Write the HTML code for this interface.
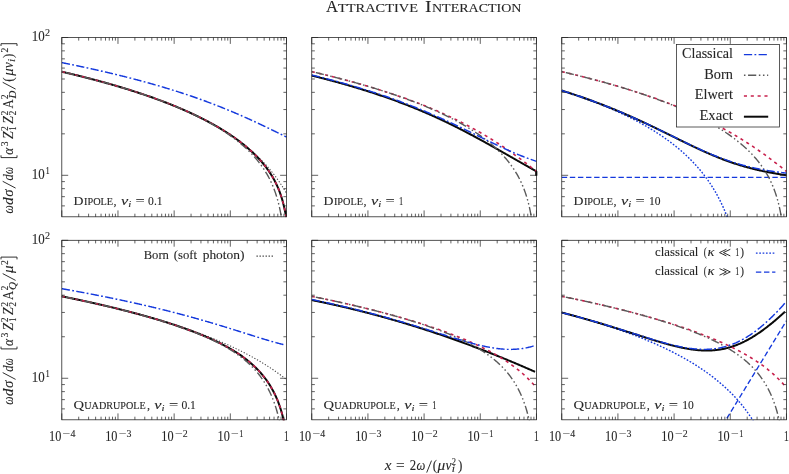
<!DOCTYPE html>
<html><head><meta charset="utf-8"><title>Attractive Interaction</title>
<style>html,body{margin:0;padding:0;background:#fff;}body{width:789px;height:474px;position:relative;overflow:hidden;font-family:"Liberation Serif",serif;}</style></head>
<body>
<svg width="789" height="474" viewBox="0 0 789 474" style="position:absolute;left:0;top:0;will-change:transform">
<defs>
<clipPath id="c00"><rect x="61.30" y="37.50" width="225.70" height="179.70"/></clipPath>
<clipPath id="c01"><rect x="311.25" y="37.50" width="225.70" height="179.70"/></clipPath>
<clipPath id="c02"><rect x="561.25" y="37.50" width="225.70" height="179.70"/></clipPath>
<clipPath id="c10"><rect x="61.30" y="240.30" width="225.70" height="179.90"/></clipPath>
<clipPath id="c11"><rect x="311.25" y="240.30" width="225.70" height="179.90"/></clipPath>
<clipPath id="c12"><rect x="561.25" y="240.30" width="225.70" height="179.90"/></clipPath>
</defs>
<g clip-path="url(#c00)">
<path d="M61.80 71.65 L62.50 71.82 L63.20 71.98 L63.91 72.14 L64.61 72.31 L65.31 72.47 L66.01 72.64 L66.72 72.80 L67.42 72.97 L68.12 73.14 L68.82 73.30 L69.52 73.47 L70.23 73.64 L70.93 73.81 L71.63 73.98 L72.33 74.14 L73.04 74.31 L73.74 74.48 L74.44 74.66 L75.14 74.83 L75.84 75.00 L76.55 75.17 L77.25 75.34 L77.95 75.52 L78.65 75.69 L79.35 75.86 L80.06 76.04 L80.76 76.21 L81.46 76.39 L82.16 76.57 L82.87 76.74 L83.57 76.92 L84.27 77.10 L84.97 77.28 L85.67 77.45 L86.38 77.63 L87.08 77.81 L87.78 77.99 L88.48 78.18 L89.19 78.36 L89.89 78.54 L90.59 78.72 L91.29 78.90 L91.99 79.09 L92.70 79.27 L93.40 79.46 L94.10 79.64 L94.80 79.83 L95.50 80.02 L96.21 80.20 L96.91 80.39 L97.61 80.58 L98.31 80.77 L99.02 80.96 L99.72 81.15 L100.42 81.34 L101.12 81.53 L101.82 81.72 L102.53 81.92 L103.23 82.11 L103.93 82.30 L104.63 82.50 L105.34 82.69 L106.04 82.89 L106.74 83.08 L107.44 83.28 L108.14 83.48 L108.85 83.68 L109.55 83.88 L110.25 84.08 L110.95 84.28 L111.66 84.48 L112.36 84.68 L113.06 84.88 L113.76 85.09 L114.46 85.29 L115.17 85.49 L115.87 85.70 L116.57 85.90 L117.27 86.11 L117.97 86.32 L118.68 86.53 L119.38 86.74 L120.08 86.94 L120.78 87.16 L121.49 87.37 L122.19 87.58 L122.89 87.79 L123.59 88.00 L124.29 88.22 L125.00 88.43 L125.70 88.65 L126.40 88.86 L127.10 89.08 L127.81 89.30 L128.51 89.52 L129.21 89.74 L129.91 89.96 L130.61 90.18 L131.32 90.40 L132.02 90.62 L132.72 90.85 L133.42 91.07 L134.13 91.30 L134.83 91.52 L135.53 91.75 L136.23 91.98 L136.93 92.21 L137.64 92.44 L138.34 92.67 L139.04 92.90 L139.74 93.13 L140.44 93.36 L141.15 93.60 L141.85 93.83 L142.55 94.07 L143.25 94.31 L143.96 94.54 L144.66 94.78 L145.36 95.02 L146.06 95.26 L146.76 95.50 L147.47 95.75 L148.17 95.99 L148.87 96.24 L149.57 96.48 L150.28 96.73 L150.98 96.98 L151.68 97.22 L152.38 97.47 L153.08 97.72 L153.79 97.98 L154.49 98.23 L155.19 98.48 L155.89 98.74 L156.60 98.99 L157.30 99.25 L158.00 99.51 L158.70 99.77 L159.40 100.03 L160.11 100.29 L160.81 100.55 L161.51 100.82 L162.21 101.08 L162.91 101.35 L163.62 101.62 L164.32 101.89 L165.02 102.16 L165.72 102.43 L166.43 102.70 L167.13 102.97 L167.83 103.25 L168.53 103.53 L169.23 103.80 L169.94 104.08 L170.64 104.36 L171.34 104.64 L172.04 104.93 L172.75 105.21 L173.45 105.50 L174.15 105.78 L174.85 106.07 L175.55 106.36 L176.26 106.65 L176.96 106.94 L177.66 107.24 L178.36 107.53 L179.07 107.83 L179.77 108.13 L180.47 108.43 L181.17 108.73 L181.87 109.03 L182.58 109.34 L183.28 109.64 L183.98 109.95 L184.68 110.26 L185.38 110.57 L186.09 110.88 L186.79 111.20 L187.49 111.51 L188.19 111.83 L188.90 112.15 L189.60 112.47 L190.30 112.79 L191.00 113.11 L191.70 113.44 L192.41 113.77 L193.11 114.10 L193.81 114.43 L194.51 114.76 L195.22 115.10 L195.92 115.43 L196.62 115.77 L197.32 116.11 L198.02 116.46 L198.73 116.80 L199.43 117.15 L200.13 117.50 L200.83 117.85 L201.54 118.20 L202.24 118.55 L202.94 118.91 L203.64 119.27 L204.34 119.63 L205.05 119.99 L205.75 120.36 L206.45 120.73 L207.15 121.10 L207.86 121.47 L208.56 121.85 L209.26 122.22 L209.96 122.60 L210.66 122.98 L211.37 123.37 L212.07 123.76 L212.77 124.15 L213.47 124.54 L214.17 124.93 L214.88 125.33 L215.58 125.73 L216.28 126.13 L216.98 126.54 L217.69 126.95 L218.39 127.36 L219.09 127.77 L219.79 128.19 L220.49 128.61 L221.20 129.03 L221.90 129.45 L222.60 129.88 L223.30 130.31 L224.01 130.75 L224.71 131.19 L225.41 131.63 L226.11 132.07 L226.81 132.52 L227.52 132.97 L228.22 133.43 L228.92 133.88 L229.62 134.35 L230.32 134.81 L231.03 135.28 L231.73 135.75 L232.43 136.23 L233.13 136.71 L233.84 137.19 L234.54 137.68 L235.24 138.17 L235.94 138.67 L236.64 139.17 L237.35 139.67 L238.05 140.18 L238.75 140.70 L239.45 141.21 L240.16 141.73 L240.86 142.26 L241.56 142.79 L242.26 143.33 L242.96 143.87 L243.67 144.42 L244.37 144.97 L245.07 145.52 L245.77 146.08 L246.48 146.65 L247.18 147.22 L247.88 147.80 L248.58 148.38 L249.28 148.97 L249.99 149.56 L250.69 150.17 L251.39 150.77 L252.09 151.38 L252.80 152.00 L253.50 152.63 L254.20 153.26 L254.90 153.90 L255.60 154.55 L256.31 155.20 L257.01 155.86 L257.71 156.53 L258.41 157.20 L259.11 157.89 L259.82 158.58 L260.52 159.27 L261.22 159.98 L261.92 160.70 L262.63 161.42 L263.33 162.15 L264.03 162.90 L264.73 163.65 L265.43 164.41 L266.14 165.18 L266.84 165.96 L267.54 166.75 L268.24 167.55 L268.95 168.36 L269.65 169.19 L270.35 170.02 L271.05 170.87 L271.75 171.73 L272.46 172.60 L273.16 173.49 L273.86 174.38 L274.56 175.29 L275.26 176.22 L275.97 177.16 L276.67 178.12 L277.37 179.09 L278.07 180.07 L278.78 181.08 L279.48 182.10 L280.18 183.13 L280.88 184.19 L281.58 185.27 L282.29 186.36 L282.99 187.48 L283.69 188.61 L284.39 189.77 L285.10 190.95 L285.80 192.16 L286.50 193.39" fill="none" stroke="#404040" stroke-width="1.05" stroke-dasharray="1.2 1.83"/>
<path d="M61.80 71.72 L62.50 71.88 L63.20 72.05 L63.91 72.21 L64.61 72.38 L65.31 72.54 L66.01 72.71 L66.72 72.87 L67.42 73.04 L68.12 73.20 L68.82 73.37 L69.52 73.54 L70.23 73.71 L70.93 73.88 L71.63 74.04 L72.33 74.21 L73.04 74.38 L73.74 74.55 L74.44 74.72 L75.14 74.90 L75.84 75.07 L76.55 75.24 L77.25 75.41 L77.95 75.59 L78.65 75.76 L79.35 75.93 L80.06 76.11 L80.76 76.28 L81.46 76.46 L82.16 76.64 L82.87 76.81 L83.57 76.99 L84.27 77.17 L84.97 77.35 L85.67 77.53 L86.38 77.71 L87.08 77.89 L87.78 78.07 L88.48 78.25 L89.19 78.43 L89.89 78.61 L90.59 78.80 L91.29 78.98 L91.99 79.16 L92.70 79.35 L93.40 79.53 L94.10 79.72 L94.80 79.90 L95.50 80.09 L96.21 80.28 L96.91 80.47 L97.61 80.65 L98.31 80.84 L99.02 81.03 L99.72 81.22 L100.42 81.42 L101.12 81.61 L101.82 81.80 L102.53 81.99 L103.23 82.19 L103.93 82.38 L104.63 82.57 L105.34 82.77 L106.04 82.97 L106.74 83.16 L107.44 83.36 L108.14 83.56 L108.85 83.76 L109.55 83.96 L110.25 84.15 L110.95 84.36 L111.66 84.56 L112.36 84.76 L113.06 84.96 L113.76 85.16 L114.46 85.37 L115.17 85.57 L115.87 85.78 L116.57 85.98 L117.27 86.19 L117.97 86.40 L118.68 86.61 L119.38 86.82 L120.08 87.03 L120.78 87.24 L121.49 87.45 L122.19 87.66 L122.89 87.87 L123.59 88.08 L124.29 88.30 L125.00 88.51 L125.70 88.73 L126.40 88.95 L127.10 89.16 L127.81 89.38 L128.51 89.60 L129.21 89.82 L129.91 90.04 L130.61 90.26 L131.32 90.48 L132.02 90.71 L132.72 90.93 L133.42 91.15 L134.13 91.38 L134.83 91.61 L135.53 91.83 L136.23 92.06 L136.93 92.29 L137.64 92.52 L138.34 92.75 L139.04 92.98 L139.74 93.21 L140.44 93.45 L141.15 93.68 L141.85 93.92 L142.55 94.15 L143.25 94.39 L143.96 94.63 L144.66 94.87 L145.36 95.11 L146.06 95.35 L146.76 95.59 L147.47 95.83 L148.17 96.07 L148.87 96.32 L149.57 96.56 L150.28 96.81 L150.98 97.06 L151.68 97.31 L152.38 97.56 L153.08 97.81 L153.79 98.06 L154.49 98.31 L155.19 98.57 L155.89 98.82 L156.60 99.08 L157.30 99.33 L158.00 99.59 L158.70 99.85 L159.40 100.11 L160.11 100.37 L160.81 100.64 L161.51 100.90 L162.21 101.17 L162.91 101.43 L163.62 101.70 L164.32 101.97 L165.02 102.24 L165.72 102.51 L166.43 102.78 L167.13 103.05 L167.83 103.33 L168.53 103.60 L169.23 103.88 L169.94 104.16 L170.64 104.44 L171.34 104.72 L172.04 105.00 L172.75 105.29 L173.45 105.57 L174.15 105.86 L174.85 106.15 L175.55 106.44 L176.26 106.73 L176.96 107.02 L177.66 107.31 L178.36 107.61 L179.07 107.90 L179.77 108.20 L180.47 108.50 L181.17 108.80 L181.87 109.10 L182.58 109.41 L183.28 109.71 L183.98 110.02 L184.68 110.33 L185.38 110.64 L186.09 110.95 L186.79 111.26 L187.49 111.58 L188.19 111.89 L188.90 112.21 L189.60 112.53 L190.30 112.85 L191.00 113.18 L191.70 113.50 L192.41 113.83 L193.11 114.16 L193.81 114.49 L194.51 114.82 L195.22 115.15 L195.92 115.49 L196.62 115.83 L197.32 116.17 L198.02 116.51 L198.73 116.85 L199.43 117.20 L200.13 117.55 L200.83 117.90 L201.54 118.25 L202.24 118.60 L202.94 118.96 L203.64 119.32 L204.34 119.68 L205.05 120.04 L205.75 120.40 L206.45 120.77 L207.15 121.14 L207.86 121.51 L208.56 121.89 L209.26 122.26 L209.96 122.64 L210.66 123.02 L211.37 123.41 L212.07 123.79 L212.77 124.18 L213.47 124.57 L214.17 124.97 L214.88 125.36 L215.58 125.76 L216.28 126.17 L216.98 126.57 L217.69 126.98 L218.39 127.39 L219.09 127.80 L219.79 128.22 L220.49 128.64 L221.20 129.06 L221.90 129.49 L222.60 129.92 L223.30 130.35 L224.01 130.79 L224.71 131.23 L225.41 131.67 L226.11 132.12 L226.81 132.57 L227.52 133.02 L228.22 133.48 L228.92 133.94 L229.62 134.40 L230.32 134.87 L231.03 135.34 L231.73 135.82 L232.43 136.30 L233.13 136.79 L233.84 137.28 L234.54 137.77 L235.24 138.27 L235.94 138.77 L236.64 139.28 L237.35 139.79 L238.05 140.31 L238.75 140.83 L239.45 141.36 L240.16 141.90 L240.86 142.43 L241.56 142.98 L242.26 143.53 L242.96 144.08 L243.67 144.65 L244.37 145.22 L245.07 145.79 L245.77 146.37 L246.48 146.96 L247.18 147.55 L247.88 148.16 L248.58 148.77 L249.28 149.38 L249.99 150.01 L250.69 150.64 L251.39 151.28 L252.09 151.93 L252.80 152.59 L253.50 153.26 L254.20 153.94 L254.90 154.63 L255.60 155.33 L256.31 156.03 L257.01 156.75 L257.71 157.49 L258.41 158.23 L259.11 158.99 L259.82 159.76 L260.52 160.54 L261.22 161.34 L261.92 162.15 L262.63 162.98 L263.33 163.82 L264.03 164.68 L264.73 165.56 L265.43 166.46 L266.14 167.38 L266.84 168.32 L267.54 169.29 L268.24 170.28 L268.95 171.29 L269.65 172.33 L270.35 173.40 L271.05 174.50 L271.75 175.64 L272.46 176.81 L273.16 178.02 L273.86 179.27 L274.56 180.57 L275.26 181.92 L275.97 183.32 L276.67 184.79 L277.37 186.32 L278.07 187.93 L278.78 189.62 L279.48 191.41 L280.18 193.31 L280.88 195.33 L281.58 197.50 L282.29 199.84 L282.99 202.38 L283.69 205.16 L284.39 208.21 L285.10 211.57 L285.80 215.04 L286.50 217.06" fill="none" stroke="#0a0a0a" stroke-width="2.0"/>
<path d="M61.80 71.65 L62.50 71.82 L63.20 71.98 L63.91 72.14 L64.61 72.31 L65.31 72.47 L66.01 72.64 L66.72 72.80 L67.42 72.97 L68.12 73.14 L68.82 73.30 L69.52 73.47 L70.23 73.64 L70.93 73.81 L71.63 73.97 L72.33 74.14 L73.04 74.31 L73.74 74.48 L74.44 74.65 L75.14 74.83 L75.84 75.00 L76.55 75.17 L77.25 75.34 L77.95 75.51 L78.65 75.69 L79.35 75.86 L80.06 76.04 L80.76 76.21 L81.46 76.39 L82.16 76.56 L82.87 76.74 L83.57 76.92 L84.27 77.10 L84.97 77.27 L85.67 77.45 L86.38 77.63 L87.08 77.81 L87.78 77.99 L88.48 78.17 L89.19 78.35 L89.89 78.54 L90.59 78.72 L91.29 78.90 L91.99 79.09 L92.70 79.27 L93.40 79.46 L94.10 79.64 L94.80 79.83 L95.50 80.01 L96.21 80.20 L96.91 80.39 L97.61 80.58 L98.31 80.77 L99.02 80.96 L99.72 81.15 L100.42 81.34 L101.12 81.53 L101.82 81.72 L102.53 81.91 L103.23 82.11 L103.93 82.30 L104.63 82.49 L105.34 82.69 L106.04 82.88 L106.74 83.08 L107.44 83.28 L108.14 83.48 L108.85 83.67 L109.55 83.87 L110.25 84.07 L110.95 84.27 L111.66 84.47 L112.36 84.68 L113.06 84.88 L113.76 85.08 L114.46 85.28 L115.17 85.49 L115.87 85.69 L116.57 85.90 L117.27 86.11 L117.97 86.31 L118.68 86.52 L119.38 86.73 L120.08 86.94 L120.78 87.15 L121.49 87.36 L122.19 87.57 L122.89 87.78 L123.59 88.00 L124.29 88.21 L125.00 88.43 L125.70 88.64 L126.40 88.86 L127.10 89.07 L127.81 89.29 L128.51 89.51 L129.21 89.73 L129.91 89.95 L130.61 90.17 L131.32 90.39 L132.02 90.62 L132.72 90.84 L133.42 91.06 L134.13 91.29 L134.83 91.51 L135.53 91.74 L136.23 91.97 L136.93 92.20 L137.64 92.43 L138.34 92.66 L139.04 92.89 L139.74 93.12 L140.44 93.35 L141.15 93.59 L141.85 93.82 L142.55 94.06 L143.25 94.29 L143.96 94.53 L144.66 94.77 L145.36 95.01 L146.06 95.25 L146.76 95.49 L147.47 95.73 L148.17 95.98 L148.87 96.22 L149.57 96.47 L150.28 96.71 L150.98 96.96 L151.68 97.21 L152.38 97.46 L153.08 97.71 L153.79 97.96 L154.49 98.21 L155.19 98.46 L155.89 98.72 L156.60 98.97 L157.30 99.23 L158.00 99.49 L158.70 99.75 L159.40 100.01 L160.11 100.27 L160.81 100.53 L161.51 100.80 L162.21 101.06 L162.91 101.33 L163.62 101.59 L164.32 101.86 L165.02 102.13 L165.72 102.40 L166.43 102.67 L167.13 102.95 L167.83 103.22 L168.53 103.50 L169.23 103.77 L169.94 104.05 L170.64 104.33 L171.34 104.61 L172.04 104.89 L172.75 105.18 L173.45 105.46 L174.15 105.75 L174.85 106.04 L175.55 106.32 L176.26 106.61 L176.96 106.91 L177.66 107.20 L178.36 107.49 L179.07 107.79 L179.77 108.09 L180.47 108.39 L181.17 108.69 L181.87 108.99 L182.58 109.29 L183.28 109.60 L183.98 109.90 L184.68 110.21 L185.38 110.52 L186.09 110.83 L186.79 111.14 L187.49 111.46 L188.19 111.78 L188.90 112.09 L189.60 112.41 L190.30 112.73 L191.00 113.06 L191.70 113.38 L192.41 113.71 L193.11 114.04 L193.81 114.37 L194.51 114.70 L195.22 115.03 L195.92 115.37 L196.62 115.71 L197.32 116.05 L198.02 116.39 L198.73 116.73 L199.43 117.08 L200.13 117.42 L200.83 117.77 L201.54 118.13 L202.24 118.48 L202.94 118.84 L203.64 119.19 L204.34 119.55 L205.05 119.92 L205.75 120.28 L206.45 120.65 L207.15 121.02 L207.86 121.39 L208.56 121.76 L209.26 122.14 L209.96 122.52 L210.66 122.90 L211.37 123.28 L212.07 123.67 L212.77 124.06 L213.47 124.45 L214.17 124.84 L214.88 125.24 L215.58 125.64 L216.28 126.04 L216.98 126.45 L217.69 126.86 L218.39 127.27 L219.09 127.68 L219.79 128.10 L220.49 128.52 L221.20 128.94 L221.90 129.37 L222.60 129.80 L223.30 130.23 L224.01 130.67 L224.71 131.11 L225.41 131.55 L226.11 132.00 L226.81 132.45 L227.52 132.90 L228.22 133.36 L228.92 133.82 L229.62 134.28 L230.32 134.75 L231.03 135.23 L231.73 135.70 L232.43 136.18 L233.13 136.67 L233.84 137.16 L234.54 137.65 L235.24 138.15 L235.94 138.66 L236.64 139.17 L237.35 139.68 L238.05 140.20 L238.75 140.72 L239.45 141.25 L240.16 141.78 L240.86 142.32 L241.56 142.87 L242.26 143.42 L242.96 143.98 L243.67 144.54 L244.37 145.11 L245.07 145.68 L245.77 146.27 L246.48 146.86 L247.18 147.45 L247.88 148.05 L248.58 148.67 L249.28 149.28 L249.99 149.91 L250.69 150.54 L251.39 151.19 L252.09 151.84 L252.80 152.50 L253.50 153.17 L254.20 153.85 L254.90 154.54 L255.60 155.24 L256.31 155.95 L257.01 156.67 L257.71 157.40 L258.41 158.15 L259.11 158.91 L259.82 159.68 L260.52 160.46 L261.22 161.26 L261.92 162.08 L262.63 162.91 L263.33 163.75 L264.03 164.62 L264.73 165.50 L265.43 166.40 L266.14 167.32 L266.84 168.27 L267.54 169.23 L268.24 170.22 L268.95 171.24 L269.65 172.28 L270.35 173.36 L271.05 174.46 L271.75 175.60 L272.46 176.77 L273.16 177.98 L273.86 179.24 L274.56 180.54 L275.26 181.89 L275.97 183.30 L276.67 184.77 L277.37 186.30 L278.07 187.92 L278.78 189.61 L279.48 191.40 L280.18 193.30 L280.88 195.33 L281.58 197.50 L282.29 199.84 L282.99 202.38 L283.69 205.17 L284.39 208.23 L285.10 211.59 L285.80 215.06 L286.50 217.09" fill="none" stroke="#c8204c" stroke-width="1.6" stroke-dasharray="3.1 3.75"/>
<path d="M61.80 71.66 L62.50 71.82 L63.20 71.98 L63.91 72.14 L64.61 72.31 L65.31 72.47 L66.01 72.64 L66.72 72.80 L67.42 72.97 L68.12 73.14 L68.82 73.30 L69.52 73.47 L70.23 73.64 L70.93 73.81 L71.63 73.98 L72.33 74.14 L73.04 74.31 L73.74 74.48 L74.44 74.66 L75.14 74.83 L75.84 75.00 L76.55 75.17 L77.25 75.34 L77.95 75.52 L78.65 75.69 L79.35 75.86 L80.06 76.04 L80.76 76.21 L81.46 76.39 L82.16 76.57 L82.87 76.74 L83.57 76.92 L84.27 77.10 L84.97 77.28 L85.67 77.46 L86.38 77.63 L87.08 77.81 L87.78 77.99 L88.48 78.18 L89.19 78.36 L89.89 78.54 L90.59 78.72 L91.29 78.91 L91.99 79.09 L92.70 79.27 L93.40 79.46 L94.10 79.64 L94.80 79.83 L95.50 80.02 L96.21 80.20 L96.91 80.39 L97.61 80.58 L98.31 80.77 L99.02 80.96 L99.72 81.15 L100.42 81.34 L101.12 81.53 L101.82 81.72 L102.53 81.92 L103.23 82.11 L103.93 82.30 L104.63 82.50 L105.34 82.69 L106.04 82.89 L106.74 83.09 L107.44 83.28 L108.14 83.48 L108.85 83.68 L109.55 83.88 L110.25 84.08 L110.95 84.28 L111.66 84.48 L112.36 84.68 L113.06 84.88 L113.76 85.09 L114.46 85.29 L115.17 85.50 L115.87 85.70 L116.57 85.91 L117.27 86.11 L117.97 86.32 L118.68 86.53 L119.38 86.74 L120.08 86.95 L120.78 87.16 L121.49 87.37 L122.19 87.58 L122.89 87.79 L123.59 88.01 L124.29 88.22 L125.00 88.44 L125.70 88.65 L126.40 88.87 L127.10 89.09 L127.81 89.30 L128.51 89.52 L129.21 89.74 L129.91 89.96 L130.61 90.19 L131.32 90.41 L132.02 90.63 L132.72 90.85 L133.42 91.08 L134.13 91.30 L134.83 91.53 L135.53 91.76 L136.23 91.99 L136.93 92.22 L137.64 92.45 L138.34 92.68 L139.04 92.91 L139.74 93.14 L140.44 93.37 L141.15 93.61 L141.85 93.84 L142.55 94.08 L143.25 94.32 L143.96 94.56 L144.66 94.79 L145.36 95.03 L146.06 95.28 L146.76 95.52 L147.47 95.76 L148.17 96.01 L148.87 96.25 L149.57 96.50 L150.28 96.74 L150.98 96.99 L151.68 97.24 L152.38 97.49 L153.08 97.74 L153.79 98.00 L154.49 98.25 L155.19 98.50 L155.89 98.76 L156.60 99.02 L157.30 99.27 L158.00 99.53 L158.70 99.79 L159.40 100.05 L160.11 100.32 L160.81 100.58 L161.51 100.85 L162.21 101.11 L162.91 101.38 L163.62 101.65 L164.32 101.92 L165.02 102.19 L165.72 102.46 L166.43 102.74 L167.13 103.01 L167.83 103.29 L168.53 103.56 L169.23 103.84 L169.94 104.12 L170.64 104.40 L171.34 104.69 L172.04 104.97 L172.75 105.26 L173.45 105.54 L174.15 105.83 L174.85 106.12 L175.55 106.41 L176.26 106.71 L176.96 107.00 L177.66 107.30 L178.36 107.59 L179.07 107.89 L179.77 108.19 L180.47 108.50 L181.17 108.80 L181.87 109.10 L182.58 109.41 L183.28 109.72 L183.98 110.03 L184.68 110.34 L185.38 110.66 L186.09 110.97 L186.79 111.29 L187.49 111.61 L188.19 111.93 L188.90 112.25 L189.60 112.57 L190.30 112.90 L191.00 113.23 L191.70 113.56 L192.41 113.89 L193.11 114.22 L193.81 114.56 L194.51 114.90 L195.22 115.24 L195.92 115.58 L196.62 115.92 L197.32 116.27 L198.02 116.62 L198.73 116.97 L199.43 117.32 L200.13 117.67 L200.83 118.03 L201.54 118.39 L202.24 118.75 L202.94 119.12 L203.64 119.48 L204.34 119.85 L205.05 120.22 L205.75 120.60 L206.45 120.97 L207.15 121.35 L207.86 121.73 L208.56 122.12 L209.26 122.51 L209.96 122.90 L210.66 123.29 L211.37 123.68 L212.07 124.08 L212.77 124.48 L213.47 124.89 L214.17 125.30 L214.88 125.71 L215.58 126.12 L216.28 126.54 L216.98 126.96 L217.69 127.38 L218.39 127.81 L219.09 128.24 L219.79 128.67 L220.49 129.11 L221.20 129.55 L221.90 130.00 L222.60 130.45 L223.30 130.90 L224.01 131.36 L224.71 131.82 L225.41 132.28 L226.11 132.75 L226.81 133.22 L227.52 133.70 L228.22 134.18 L228.92 134.67 L229.62 135.16 L230.32 135.66 L231.03 136.16 L231.73 136.67 L232.43 137.18 L233.13 137.70 L233.84 138.22 L234.54 138.75 L235.24 139.28 L235.94 139.82 L236.64 140.37 L237.35 140.92 L238.05 141.48 L238.75 142.05 L239.45 142.62 L240.16 143.20 L240.86 143.78 L241.56 144.38 L242.26 144.98 L242.96 145.59 L243.67 146.21 L244.37 146.83 L245.07 147.46 L245.77 148.11 L246.48 148.76 L247.18 149.42 L247.88 150.09 L248.58 150.77 L249.28 151.47 L249.99 152.17 L250.69 152.88 L251.39 153.61 L252.09 154.35 L252.80 155.10 L253.50 155.86 L254.20 156.64 L254.90 157.43 L255.60 158.24 L256.31 159.06 L257.01 159.90 L257.71 160.76 L258.41 161.63 L259.11 162.53 L259.82 163.44 L260.52 164.37 L261.22 165.33 L261.92 166.31 L262.63 167.32 L263.33 168.35 L264.03 169.40 L264.73 170.49 L265.43 171.61 L266.14 172.77 L266.84 173.95 L267.54 175.18 L268.24 176.45 L268.95 177.76 L269.65 179.12 L270.35 180.54 L271.05 182.01 L271.75 183.54 L272.46 185.14 L273.16 186.81 L273.86 188.57 L274.56 190.42 L275.26 192.38 L275.97 194.45 L276.67 196.66 L277.37 199.02 L278.07 201.55 L278.78 204.30 L279.48 207.29 L280.18 210.59 L280.88 214.26 L281.58 218.39 L282.29 223.15" fill="none" stroke="#5a5a5a" stroke-width="1.4" stroke-dasharray="8.2 2.6 1.5 2.6 1.5 2.6" stroke-dashoffset="14.85"/>
<path d="M61.80 62.63 L62.50 62.77 L63.20 62.91 L63.91 63.05 L64.61 63.19 L65.31 63.33 L66.01 63.47 L66.72 63.61 L67.42 63.75 L68.12 63.90 L68.82 64.04 L69.52 64.18 L70.23 64.33 L70.93 64.47 L71.63 64.61 L72.33 64.76 L73.04 64.90 L73.74 65.05 L74.44 65.20 L75.14 65.34 L75.84 65.49 L76.55 65.63 L77.25 65.78 L77.95 65.93 L78.65 66.08 L79.35 66.23 L80.06 66.37 L80.76 66.52 L81.46 66.67 L82.16 66.82 L82.87 66.97 L83.57 67.12 L84.27 67.27 L84.97 67.42 L85.67 67.58 L86.38 67.73 L87.08 67.88 L87.78 68.03 L88.48 68.19 L89.19 68.34 L89.89 68.49 L90.59 68.65 L91.29 68.80 L91.99 68.96 L92.70 69.11 L93.40 69.27 L94.10 69.43 L94.80 69.58 L95.50 69.74 L96.21 69.90 L96.91 70.06 L97.61 70.21 L98.31 70.37 L99.02 70.53 L99.72 70.69 L100.42 70.85 L101.12 71.01 L101.82 71.17 L102.53 71.33 L103.23 71.50 L103.93 71.66 L104.63 71.82 L105.34 71.98 L106.04 72.15 L106.74 72.31 L107.44 72.48 L108.14 72.64 L108.85 72.81 L109.55 72.97 L110.25 73.14 L110.95 73.31 L111.66 73.47 L112.36 73.64 L113.06 73.81 L113.76 73.98 L114.46 74.15 L115.17 74.32 L115.87 74.49 L116.57 74.66 L117.27 74.83 L117.97 75.00 L118.68 75.17 L119.38 75.34 L120.08 75.52 L120.78 75.69 L121.49 75.86 L122.19 76.04 L122.89 76.21 L123.59 76.39 L124.29 76.56 L125.00 76.74 L125.70 76.92 L126.40 77.09 L127.10 77.27 L127.81 77.45 L128.51 77.63 L129.21 77.81 L129.91 77.99 L130.61 78.17 L131.32 78.35 L132.02 78.53 L132.72 78.71 L133.42 78.90 L134.13 79.08 L134.83 79.26 L135.53 79.45 L136.23 79.63 L136.93 79.82 L137.64 80.01 L138.34 80.19 L139.04 80.38 L139.74 80.57 L140.44 80.76 L141.15 80.94 L141.85 81.13 L142.55 81.32 L143.25 81.51 L143.96 81.71 L144.66 81.90 L145.36 82.09 L146.06 82.28 L146.76 82.48 L147.47 82.67 L148.17 82.87 L148.87 83.06 L149.57 83.26 L150.28 83.45 L150.98 83.65 L151.68 83.85 L152.38 84.05 L153.08 84.25 L153.79 84.45 L154.49 84.65 L155.19 84.85 L155.89 85.05 L156.60 85.25 L157.30 85.46 L158.00 85.66 L158.70 85.87 L159.40 86.07 L160.11 86.28 L160.81 86.48 L161.51 86.69 L162.21 86.90 L162.91 87.11 L163.62 87.32 L164.32 87.53 L165.02 87.74 L165.72 87.95 L166.43 88.16 L167.13 88.37 L167.83 88.59 L168.53 88.80 L169.23 89.02 L169.94 89.23 L170.64 89.45 L171.34 89.67 L172.04 89.88 L172.75 90.10 L173.45 90.32 L174.15 90.54 L174.85 90.76 L175.55 90.99 L176.26 91.21 L176.96 91.43 L177.66 91.65 L178.36 91.88 L179.07 92.11 L179.77 92.33 L180.47 92.56 L181.17 92.79 L181.87 93.02 L182.58 93.24 L183.28 93.48 L183.98 93.71 L184.68 93.94 L185.38 94.17 L186.09 94.40 L186.79 94.64 L187.49 94.87 L188.19 95.11 L188.90 95.35 L189.60 95.59 L190.30 95.82 L191.00 96.06 L191.70 96.30 L192.41 96.54 L193.11 96.79 L193.81 97.03 L194.51 97.27 L195.22 97.52 L195.92 97.76 L196.62 98.01 L197.32 98.26 L198.02 98.51 L198.73 98.75 L199.43 99.00 L200.13 99.26 L200.83 99.51 L201.54 99.76 L202.24 100.01 L202.94 100.27 L203.64 100.52 L204.34 100.78 L205.05 101.04 L205.75 101.30 L206.45 101.55 L207.15 101.81 L207.86 102.08 L208.56 102.34 L209.26 102.60 L209.96 102.86 L210.66 103.13 L211.37 103.40 L212.07 103.66 L212.77 103.93 L213.47 104.20 L214.17 104.47 L214.88 104.74 L215.58 105.01 L216.28 105.28 L216.98 105.56 L217.69 105.83 L218.39 106.11 L219.09 106.38 L219.79 106.66 L220.49 106.94 L221.20 107.22 L221.90 107.50 L222.60 107.78 L223.30 108.06 L224.01 108.35 L224.71 108.63 L225.41 108.92 L226.11 109.20 L226.81 109.49 L227.52 109.78 L228.22 110.07 L228.92 110.36 L229.62 110.65 L230.32 110.94 L231.03 111.23 L231.73 111.53 L232.43 111.82 L233.13 112.12 L233.84 112.42 L234.54 112.72 L235.24 113.02 L235.94 113.32 L236.64 113.62 L237.35 113.92 L238.05 114.22 L238.75 114.53 L239.45 114.83 L240.16 115.14 L240.86 115.44 L241.56 115.75 L242.26 116.06 L242.96 116.37 L243.67 116.68 L244.37 116.99 L245.07 117.31 L245.77 117.62 L246.48 117.93 L247.18 118.25 L247.88 118.57 L248.58 118.88 L249.28 119.20 L249.99 119.52 L250.69 119.84 L251.39 120.16 L252.09 120.48 L252.80 120.81 L253.50 121.13 L254.20 121.45 L254.90 121.78 L255.60 122.11 L256.31 122.43 L257.01 122.76 L257.71 123.09 L258.41 123.42 L259.11 123.75 L259.82 124.08 L260.52 124.41 L261.22 124.74 L261.92 125.07 L262.63 125.41 L263.33 125.74 L264.03 126.08 L264.73 126.41 L265.43 126.75 L266.14 127.08 L266.84 127.42 L267.54 127.76 L268.24 128.10 L268.95 128.44 L269.65 128.77 L270.35 129.11 L271.05 129.45 L271.75 129.80 L272.46 130.14 L273.16 130.48 L273.86 130.82 L274.56 131.16 L275.26 131.51 L275.97 131.85 L276.67 132.19 L277.37 132.54 L278.07 132.88 L278.78 133.22 L279.48 133.57 L280.18 133.91 L280.88 134.26 L281.58 134.60 L282.29 134.95 L282.99 135.29 L283.69 135.64 L284.39 135.98 L285.10 136.32 L285.80 136.67 L286.50 137.01" fill="none" stroke="#1439dd" stroke-width="1.45" stroke-dasharray="8.25 2.32 1.8 2.33"/>
</g>
<g clip-path="url(#c01)">
<path d="M311.75 75.57 L312.45 75.74 L313.15 75.91 L313.86 76.09 L314.56 76.26 L315.26 76.44 L315.96 76.62 L316.67 76.79 L317.37 76.97 L318.07 77.15 L318.77 77.32 L319.47 77.50 L320.18 77.68 L320.88 77.86 L321.58 78.04 L322.28 78.22 L322.99 78.40 L323.69 78.59 L324.39 78.77 L325.09 78.95 L325.79 79.14 L326.50 79.32 L327.20 79.50 L327.90 79.69 L328.60 79.88 L329.30 80.06 L330.01 80.25 L330.71 80.44 L331.41 80.62 L332.11 80.81 L332.82 81.00 L333.52 81.19 L334.22 81.38 L334.92 81.57 L335.62 81.76 L336.33 81.96 L337.03 82.15 L337.73 82.34 L338.43 82.54 L339.14 82.73 L339.84 82.93 L340.54 83.12 L341.24 83.32 L341.94 83.52 L342.65 83.71 L343.35 83.91 L344.05 84.11 L344.75 84.31 L345.45 84.51 L346.16 84.71 L346.86 84.91 L347.56 85.12 L348.26 85.32 L348.97 85.52 L349.67 85.73 L350.37 85.93 L351.07 86.14 L351.77 86.34 L352.48 86.55 L353.18 86.76 L353.88 86.97 L354.58 87.18 L355.29 87.39 L355.99 87.60 L356.69 87.81 L357.39 88.02 L358.09 88.23 L358.80 88.45 L359.50 88.66 L360.20 88.87 L360.90 89.09 L361.61 89.31 L362.31 89.52 L363.01 89.74 L363.71 89.96 L364.41 90.18 L365.12 90.40 L365.82 90.62 L366.52 90.84 L367.22 91.06 L367.93 91.29 L368.63 91.51 L369.33 91.74 L370.03 91.96 L370.73 92.19 L371.44 92.41 L372.14 92.64 L372.84 92.87 L373.54 93.10 L374.24 93.33 L374.95 93.56 L375.65 93.79 L376.35 94.03 L377.05 94.26 L377.76 94.49 L378.46 94.73 L379.16 94.97 L379.86 95.20 L380.56 95.44 L381.27 95.68 L381.97 95.92 L382.67 96.16 L383.37 96.40 L384.08 96.64 L384.78 96.89 L385.48 97.13 L386.18 97.38 L386.88 97.62 L387.59 97.87 L388.29 98.12 L388.99 98.36 L389.69 98.61 L390.39 98.86 L391.10 99.12 L391.80 99.37 L392.50 99.62 L393.20 99.88 L393.91 100.13 L394.61 100.39 L395.31 100.64 L396.01 100.90 L396.71 101.16 L397.42 101.42 L398.12 101.68 L398.82 101.94 L399.52 102.21 L400.23 102.47 L400.93 102.74 L401.63 103.00 L402.33 103.27 L403.03 103.54 L403.74 103.81 L404.44 104.08 L405.14 104.35 L405.84 104.62 L406.55 104.89 L407.25 105.17 L407.95 105.44 L408.65 105.72 L409.35 106.00 L410.06 106.27 L410.76 106.55 L411.46 106.83 L412.16 107.12 L412.87 107.40 L413.57 107.68 L414.27 107.97 L414.97 108.25 L415.67 108.54 L416.38 108.83 L417.08 109.12 L417.78 109.41 L418.48 109.70 L419.18 109.99 L419.89 110.28 L420.59 110.58 L421.29 110.87 L421.99 111.17 L422.70 111.47 L423.40 111.77 L424.10 112.07 L424.80 112.37 L425.50 112.67 L426.21 112.98 L426.91 113.28 L427.61 113.59 L428.31 113.89 L429.02 114.20 L429.72 114.51 L430.42 114.82 L431.12 115.13 L431.82 115.44 L432.53 115.76 L433.23 116.07 L433.93 116.39 L434.63 116.71 L435.34 117.03 L436.04 117.35 L436.74 117.67 L437.44 117.99 L438.14 118.31 L438.85 118.64 L439.55 118.96 L440.25 119.29 L440.95 119.61 L441.65 119.94 L442.36 120.27 L443.06 120.60 L443.76 120.94 L444.46 121.27 L445.17 121.60 L445.87 121.94 L446.57 122.28 L447.27 122.61 L447.97 122.95 L448.68 123.29 L449.38 123.64 L450.08 123.98 L450.78 124.32 L451.49 124.67 L452.19 125.01 L452.89 125.36 L453.59 125.71 L454.29 126.06 L455.00 126.41 L455.70 126.76 L456.40 127.11 L457.10 127.46 L457.81 127.82 L458.51 128.17 L459.21 128.53 L459.91 128.89 L460.61 129.24 L461.32 129.60 L462.02 129.97 L462.72 130.33 L463.42 130.69 L464.12 131.05 L464.83 131.42 L465.53 131.78 L466.23 132.15 L466.93 132.52 L467.64 132.89 L468.34 133.26 L469.04 133.63 L469.74 134.00 L470.44 134.37 L471.15 134.74 L471.85 135.12 L472.55 135.49 L473.25 135.87 L473.96 136.24 L474.66 136.62 L475.36 137.00 L476.06 137.38 L476.76 137.76 L477.47 138.14 L478.17 138.52 L478.87 138.90 L479.57 139.29 L480.27 139.67 L480.98 140.06 L481.68 140.44 L482.38 140.83 L483.08 141.21 L483.79 141.60 L484.49 141.99 L485.19 142.38 L485.89 142.77 L486.59 143.16 L487.30 143.55 L488.00 143.94 L488.70 144.33 L489.40 144.72 L490.11 145.11 L490.81 145.51 L491.51 145.90 L492.21 146.29 L492.91 146.69 L493.62 147.08 L494.32 147.48 L495.02 147.88 L495.72 148.27 L496.43 148.67 L497.13 149.06 L497.83 149.46 L498.53 149.86 L499.23 150.26 L499.94 150.66 L500.64 151.05 L501.34 151.45 L502.04 151.85 L502.75 152.25 L503.45 152.65 L504.15 153.05 L504.85 153.45 L505.55 153.85 L506.26 154.25 L506.96 154.65 L507.66 155.05 L508.36 155.45 L509.06 155.85 L509.77 156.25 L510.47 156.65 L511.17 157.05 L511.87 157.45 L512.58 157.85 L513.28 158.25 L513.98 158.65 L514.68 159.05 L515.38 159.45 L516.09 159.85 L516.79 160.25 L517.49 160.65 L518.19 161.05 L518.90 161.45 L519.60 161.85 L520.30 162.25 L521.00 162.65 L521.70 163.05 L522.41 163.45 L523.11 163.85 L523.81 164.25 L524.51 164.65 L525.22 165.04 L525.92 165.44 L526.62 165.84 L527.32 166.24 L528.02 166.63 L528.73 167.03 L529.43 167.43 L530.13 167.82 L530.83 168.22 L531.53 168.61 L532.24 169.01 L532.94 169.41 L533.64 169.80 L534.34 170.20 L535.05 170.59 L535.75 170.99 L536.45 171.38 L536.45 175.61" fill="none" stroke="#0a0a0a" stroke-width="2.0"/>
<path d="M311.75 71.65 L312.45 71.81 L313.15 71.98 L313.86 72.14 L314.56 72.31 L315.26 72.47 L315.96 72.64 L316.67 72.80 L317.37 72.97 L318.07 73.13 L318.77 73.30 L319.47 73.47 L320.18 73.63 L320.88 73.80 L321.58 73.97 L322.28 74.14 L322.99 74.31 L323.69 74.48 L324.39 74.65 L325.09 74.82 L325.79 74.99 L326.50 75.17 L327.20 75.34 L327.90 75.51 L328.60 75.68 L329.30 75.86 L330.01 76.03 L330.71 76.21 L331.41 76.38 L332.11 76.56 L332.82 76.74 L333.52 76.91 L334.22 77.09 L334.92 77.27 L335.62 77.45 L336.33 77.63 L337.03 77.81 L337.73 77.99 L338.43 78.17 L339.14 78.35 L339.84 78.53 L340.54 78.71 L341.24 78.90 L341.94 79.08 L342.65 79.26 L343.35 79.45 L344.05 79.63 L344.75 79.82 L345.45 80.01 L346.16 80.19 L346.86 80.38 L347.56 80.57 L348.26 80.76 L348.97 80.95 L349.67 81.14 L350.37 81.33 L351.07 81.52 L351.77 81.71 L352.48 81.90 L353.18 82.09 L353.88 82.29 L354.58 82.48 L355.29 82.68 L355.99 82.87 L356.69 83.07 L357.39 83.26 L358.09 83.46 L358.80 83.66 L359.50 83.86 L360.20 84.06 L360.90 84.26 L361.61 84.46 L362.31 84.66 L363.01 84.86 L363.71 85.06 L364.41 85.27 L365.12 85.47 L365.82 85.67 L366.52 85.88 L367.22 86.09 L367.93 86.29 L368.63 86.50 L369.33 86.71 L370.03 86.92 L370.73 87.13 L371.44 87.34 L372.14 87.55 L372.84 87.76 L373.54 87.97 L374.24 88.18 L374.95 88.40 L375.65 88.61 L376.35 88.83 L377.05 89.04 L377.76 89.26 L378.46 89.48 L379.16 89.70 L379.86 89.92 L380.56 90.14 L381.27 90.36 L381.97 90.58 L382.67 90.80 L383.37 91.02 L384.08 91.25 L384.78 91.47 L385.48 91.70 L386.18 91.92 L386.88 92.15 L387.59 92.38 L388.29 92.61 L388.99 92.84 L389.69 93.07 L390.39 93.30 L391.10 93.53 L391.80 93.76 L392.50 94.00 L393.20 94.23 L393.91 94.47 L394.61 94.71 L395.31 94.94 L396.01 95.18 L396.71 95.42 L397.42 95.66 L398.12 95.90 L398.82 96.15 L399.52 96.39 L400.23 96.63 L400.93 96.88 L401.63 97.12 L402.33 97.37 L403.03 97.62 L403.74 97.87 L404.44 98.12 L405.14 98.37 L405.84 98.62 L406.55 98.87 L407.25 99.13 L407.95 99.38 L408.65 99.64 L409.35 99.89 L410.06 100.15 L410.76 100.41 L411.46 100.67 L412.16 100.93 L412.87 101.19 L413.57 101.46 L414.27 101.72 L414.97 101.98 L415.67 102.25 L416.38 102.52 L417.08 102.79 L417.78 103.06 L418.48 103.33 L419.18 103.60 L419.89 103.87 L420.59 104.15 L421.29 104.42 L421.99 104.70 L422.70 104.98 L423.40 105.26 L424.10 105.54 L424.80 105.82 L425.50 106.10 L426.21 106.38 L426.91 106.67 L427.61 106.95 L428.31 107.24 L429.02 107.53 L429.72 107.82 L430.42 108.11 L431.12 108.40 L431.82 108.70 L432.53 108.99 L433.23 109.29 L433.93 109.58 L434.63 109.88 L435.34 110.18 L436.04 110.48 L436.74 110.79 L437.44 111.09 L438.14 111.40 L438.85 111.70 L439.55 112.01 L440.25 112.32 L440.95 112.63 L441.65 112.94 L442.36 113.26 L443.06 113.57 L443.76 113.89 L444.46 114.21 L445.17 114.53 L445.87 114.85 L446.57 115.17 L447.27 115.49 L447.97 115.82 L448.68 116.15 L449.38 116.47 L450.08 116.80 L450.78 117.13 L451.49 117.47 L452.19 117.80 L452.89 118.14 L453.59 118.47 L454.29 118.81 L455.00 119.15 L455.70 119.50 L456.40 119.84 L457.10 120.19 L457.81 120.53 L458.51 120.88 L459.21 121.23 L459.91 121.58 L460.61 121.94 L461.32 122.29 L462.02 122.65 L462.72 123.01 L463.42 123.37 L464.12 123.73 L464.83 124.09 L465.53 124.46 L466.23 124.82 L466.93 125.19 L467.64 125.56 L468.34 125.94 L469.04 126.31 L469.74 126.68 L470.44 127.06 L471.15 127.44 L471.85 127.82 L472.55 128.21 L473.25 128.59 L473.96 128.98 L474.66 129.37 L475.36 129.76 L476.06 130.15 L476.76 130.54 L477.47 130.94 L478.17 131.34 L478.87 131.74 L479.57 132.14 L480.27 132.54 L480.98 132.95 L481.68 133.35 L482.38 133.76 L483.08 134.17 L483.79 134.59 L484.49 135.00 L485.19 135.42 L485.89 135.84 L486.59 136.26 L487.30 136.68 L488.00 137.11 L488.70 137.53 L489.40 137.96 L490.11 138.39 L490.81 138.83 L491.51 139.26 L492.21 139.70 L492.91 140.14 L493.62 140.58 L494.32 141.02 L495.02 141.47 L495.72 141.92 L496.43 142.37 L497.13 142.82 L497.83 143.27 L498.53 143.73 L499.23 144.19 L499.94 144.65 L500.64 145.11 L501.34 145.57 L502.04 146.04 L502.75 146.51 L503.45 146.98 L504.15 147.45 L504.85 147.93 L505.55 148.41 L506.26 148.89 L506.96 149.37 L507.66 149.85 L508.36 150.34 L509.06 150.83 L509.77 151.32 L510.47 151.81 L511.17 152.30 L511.87 152.80 L512.58 153.30 L513.28 153.80 L513.98 154.31 L514.68 154.81 L515.38 155.32 L516.09 155.83 L516.79 156.34 L517.49 156.86 L518.19 157.37 L518.90 157.89 L519.60 158.41 L520.30 158.94 L521.00 159.46 L521.70 159.99 L522.41 160.52 L523.11 161.05 L523.81 161.58 L524.51 162.12 L525.22 162.66 L525.92 163.20 L526.62 163.74 L527.32 164.28 L528.02 164.83 L528.73 165.38 L529.43 165.93 L530.13 166.48 L530.83 167.04 L531.53 167.60 L532.24 168.16 L532.94 168.72 L533.64 169.28 L534.34 169.85 L535.05 170.42 L535.75 170.99 L536.45 171.56" fill="none" stroke="#c8204c" stroke-width="1.6" stroke-dasharray="3.1 3.75"/>
<path d="M311.75 71.66 L312.45 71.82 L313.15 71.98 L313.86 72.14 L314.56 72.31 L315.26 72.47 L315.96 72.64 L316.67 72.80 L317.37 72.97 L318.07 73.14 L318.77 73.30 L319.47 73.47 L320.18 73.64 L320.88 73.81 L321.58 73.98 L322.28 74.14 L322.99 74.31 L323.69 74.48 L324.39 74.66 L325.09 74.83 L325.79 75.00 L326.50 75.17 L327.20 75.34 L327.90 75.52 L328.60 75.69 L329.30 75.86 L330.01 76.04 L330.71 76.21 L331.41 76.39 L332.11 76.57 L332.82 76.74 L333.52 76.92 L334.22 77.10 L334.92 77.28 L335.62 77.46 L336.33 77.63 L337.03 77.81 L337.73 77.99 L338.43 78.18 L339.14 78.36 L339.84 78.54 L340.54 78.72 L341.24 78.91 L341.94 79.09 L342.65 79.27 L343.35 79.46 L344.05 79.64 L344.75 79.83 L345.45 80.02 L346.16 80.20 L346.86 80.39 L347.56 80.58 L348.26 80.77 L348.97 80.96 L349.67 81.15 L350.37 81.34 L351.07 81.53 L351.77 81.72 L352.48 81.92 L353.18 82.11 L353.88 82.30 L354.58 82.50 L355.29 82.69 L355.99 82.89 L356.69 83.09 L357.39 83.28 L358.09 83.48 L358.80 83.68 L359.50 83.88 L360.20 84.08 L360.90 84.28 L361.61 84.48 L362.31 84.68 L363.01 84.88 L363.71 85.09 L364.41 85.29 L365.12 85.50 L365.82 85.70 L366.52 85.91 L367.22 86.11 L367.93 86.32 L368.63 86.53 L369.33 86.74 L370.03 86.95 L370.73 87.16 L371.44 87.37 L372.14 87.58 L372.84 87.79 L373.54 88.01 L374.24 88.22 L374.95 88.44 L375.65 88.65 L376.35 88.87 L377.05 89.09 L377.76 89.30 L378.46 89.52 L379.16 89.74 L379.86 89.96 L380.56 90.19 L381.27 90.41 L381.97 90.63 L382.67 90.85 L383.37 91.08 L384.08 91.30 L384.78 91.53 L385.48 91.76 L386.18 91.99 L386.88 92.22 L387.59 92.45 L388.29 92.68 L388.99 92.91 L389.69 93.14 L390.39 93.37 L391.10 93.61 L391.80 93.84 L392.50 94.08 L393.20 94.32 L393.91 94.56 L394.61 94.79 L395.31 95.03 L396.01 95.28 L396.71 95.52 L397.42 95.76 L398.12 96.01 L398.82 96.25 L399.52 96.50 L400.23 96.74 L400.93 96.99 L401.63 97.24 L402.33 97.49 L403.03 97.74 L403.74 98.00 L404.44 98.25 L405.14 98.50 L405.84 98.76 L406.55 99.02 L407.25 99.27 L407.95 99.53 L408.65 99.79 L409.35 100.05 L410.06 100.32 L410.76 100.58 L411.46 100.85 L412.16 101.11 L412.87 101.38 L413.57 101.65 L414.27 101.92 L414.97 102.19 L415.67 102.46 L416.38 102.74 L417.08 103.01 L417.78 103.29 L418.48 103.56 L419.18 103.84 L419.89 104.12 L420.59 104.40 L421.29 104.69 L421.99 104.97 L422.70 105.26 L423.40 105.54 L424.10 105.83 L424.80 106.12 L425.50 106.41 L426.21 106.71 L426.91 107.00 L427.61 107.30 L428.31 107.59 L429.02 107.89 L429.72 108.19 L430.42 108.50 L431.12 108.80 L431.82 109.10 L432.53 109.41 L433.23 109.72 L433.93 110.03 L434.63 110.34 L435.34 110.66 L436.04 110.97 L436.74 111.29 L437.44 111.61 L438.14 111.93 L438.85 112.25 L439.55 112.57 L440.25 112.90 L440.95 113.23 L441.65 113.56 L442.36 113.89 L443.06 114.22 L443.76 114.56 L444.46 114.90 L445.17 115.24 L445.87 115.58 L446.57 115.92 L447.27 116.27 L447.97 116.62 L448.68 116.97 L449.38 117.32 L450.08 117.67 L450.78 118.03 L451.49 118.39 L452.19 118.75 L452.89 119.12 L453.59 119.48 L454.29 119.85 L455.00 120.22 L455.70 120.60 L456.40 120.97 L457.10 121.35 L457.81 121.73 L458.51 122.12 L459.21 122.51 L459.91 122.90 L460.61 123.29 L461.32 123.68 L462.02 124.08 L462.72 124.48 L463.42 124.89 L464.12 125.30 L464.83 125.71 L465.53 126.12 L466.23 126.54 L466.93 126.96 L467.64 127.38 L468.34 127.81 L469.04 128.24 L469.74 128.67 L470.44 129.11 L471.15 129.55 L471.85 130.00 L472.55 130.45 L473.25 130.90 L473.96 131.36 L474.66 131.82 L475.36 132.28 L476.06 132.75 L476.76 133.22 L477.47 133.70 L478.17 134.18 L478.87 134.67 L479.57 135.16 L480.27 135.66 L480.98 136.16 L481.68 136.67 L482.38 137.18 L483.08 137.70 L483.79 138.22 L484.49 138.75 L485.19 139.28 L485.89 139.82 L486.59 140.37 L487.30 140.92 L488.00 141.48 L488.70 142.05 L489.40 142.62 L490.11 143.20 L490.81 143.78 L491.51 144.38 L492.21 144.98 L492.91 145.59 L493.62 146.21 L494.32 146.83 L495.02 147.46 L495.72 148.11 L496.43 148.76 L497.13 149.42 L497.83 150.09 L498.53 150.77 L499.23 151.47 L499.94 152.17 L500.64 152.88 L501.34 153.61 L502.04 154.35 L502.75 155.10 L503.45 155.86 L504.15 156.64 L504.85 157.43 L505.55 158.24 L506.26 159.06 L506.96 159.90 L507.66 160.76 L508.36 161.63 L509.06 162.53 L509.77 163.44 L510.47 164.37 L511.17 165.33 L511.87 166.31 L512.58 167.32 L513.28 168.35 L513.98 169.40 L514.68 170.49 L515.38 171.61 L516.09 172.77 L516.79 173.95 L517.49 175.18 L518.19 176.45 L518.90 177.76 L519.60 179.12 L520.30 180.54 L521.00 182.01 L521.70 183.54 L522.41 185.14 L523.11 186.81 L523.81 188.57 L524.51 190.42 L525.22 192.38 L525.92 194.45 L526.62 196.66 L527.32 199.02 L528.02 201.55 L528.73 204.30 L529.43 207.29 L530.13 210.59 L530.83 214.26 L531.53 218.39 L532.24 223.15" fill="none" stroke="#5a5a5a" stroke-width="1.4" stroke-dasharray="8.2 2.6 1.5 2.6 1.5 2.6" stroke-dashoffset="14.85"/>
<path d="M311.75 75.00 L312.45 75.17 L313.15 75.34 L313.86 75.52 L314.56 75.69 L315.26 75.86 L315.96 76.04 L316.67 76.21 L317.37 76.39 L318.07 76.56 L318.77 76.74 L319.47 76.92 L320.18 77.09 L320.88 77.27 L321.58 77.45 L322.28 77.63 L322.99 77.81 L323.69 77.99 L324.39 78.17 L325.09 78.35 L325.79 78.53 L326.50 78.71 L327.20 78.90 L327.90 79.08 L328.60 79.26 L329.30 79.45 L330.01 79.63 L330.71 79.82 L331.41 80.01 L332.11 80.19 L332.82 80.38 L333.52 80.57 L334.22 80.76 L334.92 80.94 L335.62 81.13 L336.33 81.32 L337.03 81.51 L337.73 81.71 L338.43 81.90 L339.14 82.09 L339.84 82.28 L340.54 82.48 L341.24 82.67 L341.94 82.87 L342.65 83.06 L343.35 83.26 L344.05 83.45 L344.75 83.65 L345.45 83.85 L346.16 84.05 L346.86 84.25 L347.56 84.45 L348.26 84.65 L348.97 84.85 L349.67 85.05 L350.37 85.25 L351.07 85.46 L351.77 85.66 L352.48 85.87 L353.18 86.07 L353.88 86.28 L354.58 86.48 L355.29 86.69 L355.99 86.90 L356.69 87.11 L357.39 87.32 L358.09 87.53 L358.80 87.74 L359.50 87.95 L360.20 88.16 L360.90 88.37 L361.61 88.59 L362.31 88.80 L363.01 89.02 L363.71 89.23 L364.41 89.45 L365.12 89.67 L365.82 89.88 L366.52 90.10 L367.22 90.32 L367.93 90.54 L368.63 90.76 L369.33 90.99 L370.03 91.21 L370.73 91.43 L371.44 91.65 L372.14 91.88 L372.84 92.11 L373.54 92.33 L374.24 92.56 L374.95 92.79 L375.65 93.02 L376.35 93.24 L377.05 93.48 L377.76 93.71 L378.46 93.94 L379.16 94.17 L379.86 94.40 L380.56 94.64 L381.27 94.87 L381.97 95.11 L382.67 95.35 L383.37 95.59 L384.08 95.82 L384.78 96.06 L385.48 96.30 L386.18 96.54 L386.88 96.79 L387.59 97.03 L388.29 97.27 L388.99 97.52 L389.69 97.76 L390.39 98.01 L391.10 98.26 L391.80 98.51 L392.50 98.75 L393.20 99.00 L393.91 99.26 L394.61 99.51 L395.31 99.76 L396.01 100.01 L396.71 100.27 L397.42 100.52 L398.12 100.78 L398.82 101.04 L399.52 101.30 L400.23 101.55 L400.93 101.81 L401.63 102.08 L402.33 102.34 L403.03 102.60 L403.74 102.86 L404.44 103.13 L405.14 103.40 L405.84 103.66 L406.55 103.93 L407.25 104.20 L407.95 104.47 L408.65 104.74 L409.35 105.01 L410.06 105.28 L410.76 105.56 L411.46 105.83 L412.16 106.11 L412.87 106.38 L413.57 106.66 L414.27 106.94 L414.97 107.22 L415.67 107.50 L416.38 107.78 L417.08 108.06 L417.78 108.35 L418.48 108.63 L419.18 108.92 L419.89 109.20 L420.59 109.49 L421.29 109.78 L421.99 110.07 L422.70 110.36 L423.40 110.65 L424.10 110.94 L424.80 111.23 L425.50 111.53 L426.21 111.82 L426.91 112.12 L427.61 112.42 L428.31 112.72 L429.02 113.02 L429.72 113.32 L430.42 113.62 L431.12 113.92 L431.82 114.22 L432.53 114.53 L433.23 114.83 L433.93 115.14 L434.63 115.44 L435.34 115.75 L436.04 116.06 L436.74 116.37 L437.44 116.68 L438.14 116.99 L438.85 117.31 L439.55 117.62 L440.25 117.93 L440.95 118.25 L441.65 118.57 L442.36 118.88 L443.06 119.20 L443.76 119.52 L444.46 119.84 L445.17 120.16 L445.87 120.48 L446.57 120.81 L447.27 121.13 L447.97 121.45 L448.68 121.78 L449.38 122.11 L450.08 122.43 L450.78 122.76 L451.49 123.09 L452.19 123.42 L452.89 123.75 L453.59 124.08 L454.29 124.41 L455.00 124.74 L455.70 125.07 L456.40 125.41 L457.10 125.74 L457.81 126.08 L458.51 126.41 L459.21 126.75 L459.91 127.08 L460.61 127.42 L461.32 127.76 L462.02 128.10 L462.72 128.44 L463.42 128.77 L464.12 129.11 L464.83 129.45 L465.53 129.80 L466.23 130.14 L466.93 130.48 L467.64 130.82 L468.34 131.16 L469.04 131.51 L469.74 131.85 L470.44 132.19 L471.15 132.54 L471.85 132.88 L472.55 133.22 L473.25 133.57 L473.96 133.91 L474.66 134.26 L475.36 134.60 L476.06 134.95 L476.76 135.29 L477.47 135.64 L478.17 135.98 L478.87 136.32 L479.57 136.67 L480.27 137.01 L480.98 137.36 L481.68 137.70 L482.38 138.05 L483.08 138.39 L483.79 138.74 L484.49 139.08 L485.19 139.42 L485.89 139.76 L486.59 140.11 L487.30 140.45 L488.00 140.79 L488.70 141.13 L489.40 141.47 L490.11 141.81 L490.81 142.15 L491.51 142.49 L492.21 142.83 L492.91 143.17 L493.62 143.50 L494.32 143.84 L495.02 144.17 L495.72 144.51 L496.43 144.84 L497.13 145.18 L497.83 145.51 L498.53 145.84 L499.23 146.17 L499.94 146.50 L500.64 146.82 L501.34 147.15 L502.04 147.48 L502.75 147.80 L503.45 148.12 L504.15 148.45 L504.85 148.77 L505.55 149.08 L506.26 149.40 L506.96 149.72 L507.66 150.03 L508.36 150.35 L509.06 150.66 L509.77 150.97 L510.47 151.28 L511.17 151.59 L511.87 151.89 L512.58 152.20 L513.28 152.50 L513.98 152.80 L514.68 153.10 L515.38 153.40 L516.09 153.69 L516.79 153.98 L517.49 154.28 L518.19 154.57 L518.90 154.85 L519.60 155.14 L520.30 155.42 L521.00 155.71 L521.70 155.99 L522.41 156.26 L523.11 156.54 L523.81 156.81 L524.51 157.09 L525.22 157.36 L525.92 157.62 L526.62 157.89 L527.32 158.15 L528.02 158.41 L528.73 158.67 L529.43 158.93 L530.13 159.18 L530.83 159.44 L531.53 159.69 L532.24 159.93 L532.94 160.18 L533.64 160.42 L534.34 160.66 L535.05 160.90 L535.75 161.14 L536.45 161.37" fill="none" stroke="#1439dd" stroke-width="1.45" stroke-dasharray="8.25 2.32 1.8 2.33"/>
</g>
<g clip-path="url(#c02)">
<path d="M561.75 177.30 L562.45 177.30 L563.15 177.30 L563.86 177.30 L564.56 177.30 L565.26 177.30 L565.96 177.30 L566.67 177.30 L567.37 177.30 L568.07 177.30 L568.77 177.30 L569.47 177.30 L570.18 177.30 L570.88 177.30 L571.58 177.30 L572.28 177.30 L572.99 177.30 L573.69 177.30 L574.39 177.30 L575.09 177.30 L575.79 177.30 L576.50 177.30 L577.20 177.30 L577.90 177.30 L578.60 177.30 L579.30 177.30 L580.01 177.30 L580.71 177.30 L581.41 177.30 L582.11 177.30 L582.82 177.30 L583.52 177.30 L584.22 177.30 L584.92 177.30 L585.62 177.30 L586.33 177.30 L587.03 177.30 L587.73 177.30 L588.43 177.30 L589.14 177.30 L589.84 177.30 L590.54 177.30 L591.24 177.30 L591.94 177.30 L592.65 177.30 L593.35 177.30 L594.05 177.30 L594.75 177.30 L595.46 177.30 L596.16 177.30 L596.86 177.30 L597.56 177.30 L598.26 177.30 L598.97 177.30 L599.67 177.30 L600.37 177.30 L601.07 177.30 L601.77 177.30 L602.48 177.30 L603.18 177.30 L603.88 177.30 L604.58 177.30 L605.29 177.30 L605.99 177.30 L606.69 177.30 L607.39 177.30 L608.09 177.30 L608.80 177.30 L609.50 177.30 L610.20 177.30 L610.90 177.30 L611.61 177.30 L612.31 177.30 L613.01 177.30 L613.71 177.30 L614.41 177.30 L615.12 177.30 L615.82 177.30 L616.52 177.30 L617.22 177.30 L617.92 177.30 L618.63 177.30 L619.33 177.30 L620.03 177.30 L620.73 177.30 L621.44 177.30 L622.14 177.30 L622.84 177.30 L623.54 177.30 L624.24 177.30 L624.95 177.30 L625.65 177.30 L626.35 177.30 L627.05 177.30 L627.76 177.30 L628.46 177.30 L629.16 177.30 L629.86 177.30 L630.56 177.30 L631.27 177.30 L631.97 177.30 L632.67 177.30 L633.37 177.30 L634.08 177.30 L634.78 177.30 L635.48 177.30 L636.18 177.30 L636.88 177.30 L637.59 177.30 L638.29 177.30 L638.99 177.30 L639.69 177.30 L640.39 177.30 L641.10 177.30 L641.80 177.30 L642.50 177.30 L643.20 177.30 L643.91 177.30 L644.61 177.30 L645.31 177.30 L646.01 177.30 L646.71 177.30 L647.42 177.30 L648.12 177.30 L648.82 177.30 L649.52 177.30 L650.23 177.30 L650.93 177.30 L651.63 177.30 L652.33 177.30 L653.03 177.30 L653.74 177.30 L654.44 177.30 L655.14 177.30 L655.84 177.30 L656.55 177.30 L657.25 177.30 L657.95 177.30 L658.65 177.30 L659.35 177.30 L660.06 177.30 L660.76 177.30 L661.46 177.30 L662.16 177.30 L662.87 177.30 L663.57 177.30 L664.27 177.30 L664.97 177.30 L665.67 177.30 L666.38 177.30 L667.08 177.30 L667.78 177.30 L668.48 177.30 L669.18 177.30 L669.89 177.30 L670.59 177.30 L671.29 177.30 L671.99 177.30 L672.70 177.30 L673.40 177.30 L674.10 177.30 L674.80 177.30 L675.50 177.30 L676.21 177.30 L676.91 177.30 L677.61 177.30 L678.31 177.30 L679.02 177.30 L679.72 177.30 L680.42 177.30 L681.12 177.30 L681.82 177.30 L682.53 177.30 L683.23 177.30 L683.93 177.30 L684.63 177.30 L685.34 177.30 L686.04 177.30 L686.74 177.30 L687.44 177.30 L688.14 177.30 L688.85 177.30 L689.55 177.30 L690.25 177.30 L690.95 177.30 L691.65 177.30 L692.36 177.30 L693.06 177.30 L693.76 177.30 L694.46 177.30 L695.17 177.30 L695.87 177.30 L696.57 177.30 L697.27 177.30 L697.97 177.30 L698.68 177.30 L699.38 177.30 L700.08 177.30 L700.78 177.30 L701.49 177.30 L702.19 177.30 L702.89 177.30 L703.59 177.30 L704.29 177.30 L705.00 177.30 L705.70 177.30 L706.40 177.30 L707.10 177.30 L707.81 177.30 L708.51 177.30 L709.21 177.30 L709.91 177.30 L710.61 177.30 L711.32 177.30 L712.02 177.30 L712.72 177.30 L713.42 177.30 L714.12 177.30 L714.83 177.30 L715.53 177.30 L716.23 177.30 L716.93 177.30 L717.64 177.30 L718.34 177.30 L719.04 177.30 L719.74 177.30 L720.44 177.30 L721.15 177.30 L721.85 177.30 L722.55 177.30 L723.25 177.30 L723.96 177.30 L724.66 177.30 L725.36 177.30 L726.06 177.30 L726.76 177.30 L727.47 177.30 L728.17 177.30 L728.87 177.30 L729.57 177.30 L730.27 177.30 L730.98 177.30 L731.68 177.30 L732.38 177.30 L733.08 177.30 L733.79 177.30 L734.49 177.30 L735.19 177.30 L735.89 177.30 L736.59 177.30 L737.30 177.30 L738.00 177.30 L738.70 177.30 L739.40 177.30 L740.11 177.30 L740.81 177.30 L741.51 177.30 L742.21 177.30 L742.91 177.30 L743.62 177.30 L744.32 177.30 L745.02 177.30 L745.72 177.30 L746.43 177.30 L747.13 177.30 L747.83 177.30 L748.53 177.30 L749.23 177.30 L749.94 177.30 L750.64 177.30 L751.34 177.30 L752.04 177.30 L752.75 177.30 L753.45 177.30 L754.15 177.30 L754.85 177.30 L755.55 177.30 L756.26 177.30 L756.96 177.30 L757.66 177.30 L758.36 177.30 L759.06 177.30 L759.77 177.30 L760.47 177.30 L761.17 177.30 L761.87 177.30 L762.58 177.30 L763.28 177.30 L763.98 177.30 L764.68 177.30 L765.38 177.30 L766.09 177.30 L766.79 177.30 L767.49 177.30 L768.19 177.30 L768.90 177.30 L769.60 177.30 L770.30 177.30 L771.00 177.30 L771.70 177.30 L772.41 177.30 L773.11 177.30 L773.81 177.30 L774.51 177.30 L775.22 177.30 L775.92 177.30 L776.62 177.30 L777.32 177.30 L778.02 177.30 L778.73 177.30 L779.43 177.30 L780.13 177.30 L780.83 177.30 L781.53 177.30 L782.24 177.30 L782.94 177.30 L783.64 177.30 L784.34 177.30 L785.05 177.30 L785.75 177.30 L786.45 177.30" fill="none" stroke="#1439dd" stroke-width="1.35" stroke-dasharray="5.4 2.7"/>
<path d="M561.75 90.64 L562.45 90.86 L563.15 91.08 L563.86 91.31 L564.56 91.54 L565.26 91.76 L565.96 91.99 L566.67 92.22 L567.37 92.45 L568.07 92.68 L568.77 92.91 L569.47 93.14 L570.18 93.38 L570.88 93.61 L571.58 93.85 L572.28 94.08 L572.99 94.32 L573.69 94.56 L574.39 94.80 L575.09 95.04 L575.79 95.28 L576.50 95.52 L577.20 95.76 L577.90 96.00 L578.60 96.25 L579.30 96.49 L580.01 96.74 L580.71 96.99 L581.41 97.24 L582.11 97.49 L582.82 97.74 L583.52 97.99 L584.22 98.24 L584.92 98.50 L585.62 98.75 L586.33 99.01 L587.03 99.27 L587.73 99.52 L588.43 99.78 L589.14 100.04 L589.84 100.31 L590.54 100.57 L591.24 100.83 L591.94 101.10 L592.65 101.36 L593.35 101.63 L594.05 101.90 L594.75 102.17 L595.46 102.44 L596.16 102.72 L596.86 102.99 L597.56 103.26 L598.26 103.54 L598.97 103.82 L599.67 104.10 L600.37 104.38 L601.07 104.66 L601.77 104.94 L602.48 105.23 L603.18 105.51 L603.88 105.80 L604.58 106.09 L605.29 106.38 L605.99 106.67 L606.69 106.96 L607.39 107.25 L608.09 107.55 L608.80 107.85 L609.50 108.14 L610.20 108.44 L610.90 108.75 L611.61 109.05 L612.31 109.35 L613.01 109.66 L613.71 109.97 L614.41 110.28 L615.12 110.59 L615.82 110.90 L616.52 111.21 L617.22 111.53 L617.92 111.85 L618.63 112.16 L619.33 112.49 L620.03 112.81 L620.73 113.13 L621.44 113.46 L622.14 113.79 L622.84 114.12 L623.54 114.45 L624.24 114.78 L624.95 115.11 L625.65 115.45 L626.35 115.79 L627.05 116.13 L627.76 116.47 L628.46 116.82 L629.16 117.17 L629.86 117.51 L630.56 117.87 L631.27 118.22 L631.97 118.57 L632.67 118.93 L633.37 119.29 L634.08 119.65 L634.78 120.01 L635.48 120.38 L636.18 120.75 L636.88 121.12 L637.59 121.49 L638.29 121.87 L638.99 122.24 L639.69 122.62 L640.39 123.01 L641.10 123.39 L641.80 123.78 L642.50 124.17 L643.20 124.56 L643.91 124.95 L644.61 125.35 L645.31 125.75 L646.01 126.15 L646.71 126.56 L647.42 126.97 L648.12 127.38 L648.82 127.79 L649.52 128.21 L650.23 128.63 L650.93 129.05 L651.63 129.48 L652.33 129.91 L653.03 130.34 L653.74 130.77 L654.44 131.21 L655.14 131.65 L655.84 132.10 L656.55 132.55 L657.25 133.00 L657.95 133.45 L658.65 133.91 L659.35 134.37 L660.06 134.84 L660.76 135.31 L661.46 135.78 L662.16 136.26 L662.87 136.74 L663.57 137.22 L664.27 137.71 L664.97 138.20 L665.67 138.70 L666.38 139.20 L667.08 139.70 L667.78 140.21 L668.48 140.72 L669.18 141.24 L669.89 141.76 L670.59 142.29 L671.29 142.82 L671.99 143.36 L672.70 143.90 L673.40 144.44 L674.10 145.00 L674.80 145.55 L675.50 146.11 L676.21 146.68 L676.91 147.25 L677.61 147.83 L678.31 148.41 L679.02 149.00 L679.72 149.60 L680.42 150.20 L681.12 150.81 L681.82 151.42 L682.53 152.04 L683.23 152.66 L683.93 153.30 L684.63 153.94 L685.34 154.58 L686.04 155.24 L686.74 155.90 L687.44 156.56 L688.14 157.24 L688.85 157.92 L689.55 158.61 L690.25 159.31 L690.95 160.02 L691.65 160.74 L692.36 161.46 L693.06 162.19 L693.76 162.94 L694.46 163.69 L695.17 164.45 L695.87 165.22 L696.57 166.00 L697.27 166.79 L697.97 167.60 L698.68 168.41 L699.38 169.23 L700.08 170.07 L700.78 170.92 L701.49 171.78 L702.19 172.65 L702.89 173.53 L703.59 174.43 L704.29 175.35 L705.00 176.27 L705.70 177.21 L706.40 178.17 L707.10 179.14 L707.81 180.13 L708.51 181.13 L709.21 182.15 L709.91 183.19 L710.61 184.25 L711.32 185.33 L712.02 186.42 L712.72 187.54 L713.42 188.68 L714.12 189.83 L714.83 191.02 L715.53 192.22 L716.23 193.46 L716.93 194.71 L717.64 196.00 L718.34 197.31 L719.04 198.65 L719.74 200.02 L720.44 201.43 L721.15 202.87 L721.85 204.34 L722.55 205.85 L723.25 207.40 L723.96 208.99 L724.66 210.63 L725.36 212.31 L726.06 214.04 L726.76 215.82 L727.47 217.65 L728.17 219.55 L728.87 221.50 L729.57 223.53" fill="none" stroke="#1439dd" stroke-width="1.4" stroke-dasharray="1.7 1.65"/>
<path d="M561.75 90.55 L562.45 90.77 L563.15 90.99 L563.86 91.21 L564.56 91.44 L565.26 91.66 L565.96 91.89 L566.67 92.11 L567.37 92.34 L568.07 92.57 L568.77 92.79 L569.47 93.02 L570.18 93.25 L570.88 93.48 L571.58 93.71 L572.28 93.95 L572.99 94.18 L573.69 94.41 L574.39 94.65 L575.09 94.88 L575.79 95.12 L576.50 95.36 L577.20 95.59 L577.90 95.83 L578.60 96.07 L579.30 96.31 L580.01 96.55 L580.71 96.80 L581.41 97.04 L582.11 97.28 L582.82 97.53 L583.52 97.77 L584.22 98.02 L584.92 98.27 L585.62 98.51 L586.33 98.76 L587.03 99.01 L587.73 99.27 L588.43 99.52 L589.14 99.77 L589.84 100.02 L590.54 100.28 L591.24 100.53 L591.94 100.79 L592.65 101.05 L593.35 101.31 L594.05 101.57 L594.75 101.83 L595.46 102.09 L596.16 102.35 L596.86 102.61 L597.56 102.88 L598.26 103.14 L598.97 103.41 L599.67 103.67 L600.37 103.94 L601.07 104.21 L601.77 104.48 L602.48 104.75 L603.18 105.02 L603.88 105.30 L604.58 105.57 L605.29 105.84 L605.99 106.12 L606.69 106.40 L607.39 106.67 L608.09 106.95 L608.80 107.23 L609.50 107.51 L610.20 107.79 L610.90 108.08 L611.61 108.36 L612.31 108.64 L613.01 108.93 L613.71 109.22 L614.41 109.50 L615.12 109.79 L615.82 110.08 L616.52 110.37 L617.22 110.67 L617.92 110.96 L618.63 111.25 L619.33 111.55 L620.03 111.84 L620.73 112.14 L621.44 112.44 L622.14 112.73 L622.84 113.03 L623.54 113.33 L624.24 113.64 L624.95 113.94 L625.65 114.24 L626.35 114.55 L627.05 114.85 L627.76 115.16 L628.46 115.47 L629.16 115.78 L629.86 116.08 L630.56 116.40 L631.27 116.71 L631.97 117.02 L632.67 117.33 L633.37 117.65 L634.08 117.96 L634.78 118.28 L635.48 118.59 L636.18 118.91 L636.88 119.23 L637.59 119.55 L638.29 119.87 L638.99 120.19 L639.69 120.52 L640.39 120.84 L641.10 121.16 L641.80 121.49 L642.50 121.81 L643.20 122.14 L643.91 122.47 L644.61 122.80 L645.31 123.13 L646.01 123.46 L646.71 123.79 L647.42 124.12 L648.12 124.45 L648.82 124.78 L649.52 125.12 L650.23 125.45 L650.93 125.79 L651.63 126.12 L652.33 126.46 L653.03 126.80 L653.74 127.13 L654.44 127.47 L655.14 127.81 L655.84 128.15 L656.55 128.49 L657.25 128.83 L657.95 129.17 L658.65 129.52 L659.35 129.86 L660.06 130.20 L660.76 130.54 L661.46 130.89 L662.16 131.23 L662.87 131.58 L663.57 131.92 L664.27 132.27 L664.97 132.61 L665.67 132.96 L666.38 133.30 L667.08 133.65 L667.78 134.00 L668.48 134.34 L669.18 134.69 L669.89 135.04 L670.59 135.38 L671.29 135.73 L671.99 136.08 L672.70 136.43 L673.40 136.77 L674.10 137.12 L674.80 137.47 L675.50 137.81 L676.21 138.16 L676.91 138.51 L677.61 138.85 L678.31 139.20 L679.02 139.55 L679.72 139.89 L680.42 140.24 L681.12 140.59 L681.82 140.93 L682.53 141.27 L683.23 141.62 L683.93 141.96 L684.63 142.31 L685.34 142.65 L686.04 142.99 L686.74 143.33 L687.44 143.67 L688.14 144.01 L688.85 144.35 L689.55 144.69 L690.25 145.03 L690.95 145.37 L691.65 145.70 L692.36 146.04 L693.06 146.38 L693.76 146.71 L694.46 147.04 L695.17 147.37 L695.87 147.70 L696.57 148.03 L697.27 148.36 L697.97 148.69 L698.68 149.02 L699.38 149.34 L700.08 149.67 L700.78 149.99 L701.49 150.31 L702.19 150.63 L702.89 150.95 L703.59 151.27 L704.29 151.58 L705.00 151.90 L705.70 152.21 L706.40 152.52 L707.10 152.83 L707.81 153.14 L708.51 153.44 L709.21 153.75 L709.91 154.05 L710.61 154.35 L711.32 154.65 L712.02 154.95 L712.72 155.25 L713.42 155.54 L714.12 155.84 L714.83 156.13 L715.53 156.41 L716.23 156.70 L716.93 156.99 L717.64 157.27 L718.34 157.55 L719.04 157.83 L719.74 158.11 L720.44 158.38 L721.15 158.66 L721.85 158.93 L722.55 159.20 L723.25 159.47 L723.96 159.73 L724.66 159.99 L725.36 160.25 L726.06 160.51 L726.76 160.77 L727.47 161.02 L728.17 161.28 L728.87 161.53 L729.57 161.78 L730.27 162.02 L730.98 162.27 L731.68 162.51 L732.38 162.75 L733.08 162.98 L733.79 163.22 L734.49 163.45 L735.19 163.68 L735.89 163.91 L736.59 164.14 L737.30 164.36 L738.00 164.58 L738.70 164.80 L739.40 165.02 L740.11 165.23 L740.81 165.45 L741.51 165.66 L742.21 165.87 L742.91 166.07 L743.62 166.28 L744.32 166.48 L745.02 166.68 L745.72 166.88 L746.43 167.07 L747.13 167.27 L747.83 167.46 L748.53 167.65 L749.23 167.84 L749.94 168.02 L750.64 168.21 L751.34 168.39 L752.04 168.57 L752.75 168.74 L753.45 168.92 L754.15 169.09 L754.85 169.26 L755.55 169.43 L756.26 169.60 L756.96 169.77 L757.66 169.93 L758.36 170.09 L759.06 170.25 L759.77 170.41 L760.47 170.57 L761.17 170.72 L761.87 170.87 L762.58 171.03 L763.28 171.17 L763.98 171.32 L764.68 171.47 L765.38 171.61 L766.09 171.75 L766.79 171.90 L767.49 172.03 L768.19 172.17 L768.90 172.31 L769.60 172.44 L770.30 172.58 L771.00 172.71 L771.70 172.84 L772.41 172.96 L773.11 173.09 L773.81 173.22 L774.51 173.34 L775.22 173.46 L775.92 173.59 L776.62 173.70 L777.32 173.82 L778.02 173.94 L778.73 174.06 L779.43 174.17 L780.13 174.29 L780.83 174.40 L781.53 174.51 L782.24 174.62 L782.94 174.73 L783.64 174.84 L784.34 174.94 L785.05 175.05 L785.75 175.15 L786.45 175.25" fill="none" stroke="#0a0a0a" stroke-width="2.0"/>
<path d="M561.75 71.65 L562.45 71.81 L563.15 71.98 L563.86 72.14 L564.56 72.31 L565.26 72.47 L565.96 72.64 L566.67 72.80 L567.37 72.97 L568.07 73.13 L568.77 73.30 L569.47 73.47 L570.18 73.63 L570.88 73.80 L571.58 73.97 L572.28 74.14 L572.99 74.31 L573.69 74.48 L574.39 74.65 L575.09 74.82 L575.79 74.99 L576.50 75.17 L577.20 75.34 L577.90 75.51 L578.60 75.68 L579.30 75.86 L580.01 76.03 L580.71 76.21 L581.41 76.38 L582.11 76.56 L582.82 76.74 L583.52 76.91 L584.22 77.09 L584.92 77.27 L585.62 77.45 L586.33 77.63 L587.03 77.81 L587.73 77.99 L588.43 78.17 L589.14 78.35 L589.84 78.53 L590.54 78.71 L591.24 78.90 L591.94 79.08 L592.65 79.26 L593.35 79.45 L594.05 79.63 L594.75 79.82 L595.46 80.01 L596.16 80.19 L596.86 80.38 L597.56 80.57 L598.26 80.76 L598.97 80.95 L599.67 81.14 L600.37 81.33 L601.07 81.52 L601.77 81.71 L602.48 81.90 L603.18 82.09 L603.88 82.29 L604.58 82.48 L605.29 82.68 L605.99 82.87 L606.69 83.07 L607.39 83.26 L608.09 83.46 L608.80 83.66 L609.50 83.86 L610.20 84.06 L610.90 84.26 L611.61 84.46 L612.31 84.66 L613.01 84.86 L613.71 85.06 L614.41 85.27 L615.12 85.47 L615.82 85.67 L616.52 85.88 L617.22 86.09 L617.92 86.29 L618.63 86.50 L619.33 86.71 L620.03 86.92 L620.73 87.13 L621.44 87.34 L622.14 87.55 L622.84 87.76 L623.54 87.97 L624.24 88.18 L624.95 88.40 L625.65 88.61 L626.35 88.83 L627.05 89.04 L627.76 89.26 L628.46 89.48 L629.16 89.70 L629.86 89.92 L630.56 90.14 L631.27 90.36 L631.97 90.58 L632.67 90.80 L633.37 91.02 L634.08 91.25 L634.78 91.47 L635.48 91.70 L636.18 91.92 L636.88 92.15 L637.59 92.38 L638.29 92.61 L638.99 92.84 L639.69 93.07 L640.39 93.30 L641.10 93.53 L641.80 93.76 L642.50 94.00 L643.20 94.23 L643.91 94.47 L644.61 94.71 L645.31 94.94 L646.01 95.18 L646.71 95.42 L647.42 95.66 L648.12 95.90 L648.82 96.14 L649.52 96.39 L650.23 96.63 L650.93 96.88 L651.63 97.12 L652.33 97.37 L653.03 97.62 L653.74 97.87 L654.44 98.11 L655.14 98.37 L655.84 98.62 L656.55 98.87 L657.25 99.12 L657.95 99.38 L658.65 99.63 L659.35 99.89 L660.06 100.15 L660.76 100.41 L661.46 100.67 L662.16 100.93 L662.87 101.19 L663.57 101.45 L664.27 101.72 L664.97 101.98 L665.67 102.25 L666.38 102.52 L667.08 102.78 L667.78 103.05 L668.48 103.33 L669.18 103.60 L669.89 103.87 L670.59 104.14 L671.29 104.42 L671.99 104.70 L672.70 104.97 L673.40 105.25 L674.10 105.53 L674.80 105.81 L675.50 106.10 L676.21 106.38 L676.91 106.66 L677.61 106.95 L678.31 107.24 L679.02 107.52 L679.72 107.81 L680.42 108.11 L681.12 108.40 L681.82 108.69 L682.53 108.99 L683.23 109.28 L683.93 109.58 L684.63 109.88 L685.34 110.18 L686.04 110.48 L686.74 110.78 L687.44 111.08 L688.14 111.39 L688.85 111.70 L689.55 112.00 L690.25 112.31 L690.95 112.62 L691.65 112.94 L692.36 113.25 L693.06 113.57 L693.76 113.88 L694.46 114.20 L695.17 114.52 L695.87 114.84 L696.57 115.16 L697.27 115.48 L697.97 115.81 L698.68 116.14 L699.38 116.46 L700.08 116.79 L700.78 117.12 L701.49 117.46 L702.19 117.79 L702.89 118.13 L703.59 118.46 L704.29 118.80 L705.00 119.14 L705.70 119.48 L706.40 119.83 L707.10 120.17 L707.81 120.52 L708.51 120.87 L709.21 121.22 L709.91 121.57 L710.61 121.92 L711.32 122.28 L712.02 122.63 L712.72 122.99 L713.42 123.35 L714.12 123.71 L714.83 124.07 L715.53 124.44 L716.23 124.80 L716.93 125.17 L717.64 125.54 L718.34 125.91 L719.04 126.29 L719.74 126.66 L720.44 127.04 L721.15 127.42 L721.85 127.80 L722.55 128.18 L723.25 128.57 L723.96 128.95 L724.66 129.34 L725.36 129.73 L726.06 130.12 L726.76 130.51 L727.47 130.91 L728.17 131.31 L728.87 131.70 L729.57 132.11 L730.27 132.51 L730.98 132.91 L731.68 133.32 L732.38 133.73 L733.08 134.14 L733.79 134.55 L734.49 134.96 L735.19 135.38 L735.89 135.80 L736.59 136.22 L737.30 136.64 L738.00 137.06 L738.70 137.49 L739.40 137.92 L740.11 138.35 L740.81 138.78 L741.51 139.21 L742.21 139.65 L742.91 140.09 L743.62 140.53 L744.32 140.97 L745.02 141.42 L745.72 141.86 L746.43 142.31 L747.13 142.76 L747.83 143.21 L748.53 143.67 L749.23 144.12 L749.94 144.58 L750.64 145.04 L751.34 145.51 L752.04 145.97 L752.75 146.44 L753.45 146.91 L754.15 147.38 L754.85 147.86 L755.55 148.33 L756.26 148.81 L756.96 149.29 L757.66 149.77 L758.36 150.26 L759.06 150.74 L759.77 151.23 L760.47 151.72 L761.17 152.22 L761.87 152.71 L762.58 153.21 L763.28 153.71 L763.98 154.21 L764.68 154.72 L765.38 155.22 L766.09 155.73 L766.79 156.24 L767.49 156.76 L768.19 157.27 L768.90 157.79 L769.60 158.31 L770.30 158.83 L771.00 159.35 L771.70 159.88 L772.41 160.41 L773.11 160.94 L773.81 161.47 L774.51 162.01 L775.22 162.55 L775.92 163.09 L776.62 163.63 L777.32 164.17 L778.02 164.72 L778.73 165.27 L779.43 165.82 L780.13 166.37 L780.83 166.93 L781.53 167.49 L782.24 168.05 L782.94 168.61 L783.64 169.17 L784.34 169.74 L785.05 170.31 L785.75 170.88 L786.45 171.45" fill="none" stroke="#c8204c" stroke-width="1.6" stroke-dasharray="3.1 3.75"/>
<path d="M561.75 71.66 L562.45 71.82 L563.15 71.98 L563.86 72.14 L564.56 72.31 L565.26 72.47 L565.96 72.64 L566.67 72.80 L567.37 72.97 L568.07 73.14 L568.77 73.30 L569.47 73.47 L570.18 73.64 L570.88 73.81 L571.58 73.98 L572.28 74.14 L572.99 74.31 L573.69 74.48 L574.39 74.66 L575.09 74.83 L575.79 75.00 L576.50 75.17 L577.20 75.34 L577.90 75.52 L578.60 75.69 L579.30 75.86 L580.01 76.04 L580.71 76.21 L581.41 76.39 L582.11 76.57 L582.82 76.74 L583.52 76.92 L584.22 77.10 L584.92 77.28 L585.62 77.46 L586.33 77.63 L587.03 77.81 L587.73 77.99 L588.43 78.18 L589.14 78.36 L589.84 78.54 L590.54 78.72 L591.24 78.91 L591.94 79.09 L592.65 79.27 L593.35 79.46 L594.05 79.64 L594.75 79.83 L595.46 80.02 L596.16 80.20 L596.86 80.39 L597.56 80.58 L598.26 80.77 L598.97 80.96 L599.67 81.15 L600.37 81.34 L601.07 81.53 L601.77 81.72 L602.48 81.92 L603.18 82.11 L603.88 82.30 L604.58 82.50 L605.29 82.69 L605.99 82.89 L606.69 83.09 L607.39 83.28 L608.09 83.48 L608.80 83.68 L609.50 83.88 L610.20 84.08 L610.90 84.28 L611.61 84.48 L612.31 84.68 L613.01 84.88 L613.71 85.09 L614.41 85.29 L615.12 85.50 L615.82 85.70 L616.52 85.91 L617.22 86.11 L617.92 86.32 L618.63 86.53 L619.33 86.74 L620.03 86.95 L620.73 87.16 L621.44 87.37 L622.14 87.58 L622.84 87.79 L623.54 88.01 L624.24 88.22 L624.95 88.44 L625.65 88.65 L626.35 88.87 L627.05 89.09 L627.76 89.30 L628.46 89.52 L629.16 89.74 L629.86 89.96 L630.56 90.19 L631.27 90.41 L631.97 90.63 L632.67 90.85 L633.37 91.08 L634.08 91.30 L634.78 91.53 L635.48 91.76 L636.18 91.99 L636.88 92.22 L637.59 92.45 L638.29 92.68 L638.99 92.91 L639.69 93.14 L640.39 93.37 L641.10 93.61 L641.80 93.84 L642.50 94.08 L643.20 94.32 L643.91 94.56 L644.61 94.79 L645.31 95.03 L646.01 95.28 L646.71 95.52 L647.42 95.76 L648.12 96.01 L648.82 96.25 L649.52 96.50 L650.23 96.74 L650.93 96.99 L651.63 97.24 L652.33 97.49 L653.03 97.74 L653.74 98.00 L654.44 98.25 L655.14 98.50 L655.84 98.76 L656.55 99.02 L657.25 99.27 L657.95 99.53 L658.65 99.79 L659.35 100.05 L660.06 100.32 L660.76 100.58 L661.46 100.85 L662.16 101.11 L662.87 101.38 L663.57 101.65 L664.27 101.92 L664.97 102.19 L665.67 102.46 L666.38 102.74 L667.08 103.01 L667.78 103.29 L668.48 103.56 L669.18 103.84 L669.89 104.12 L670.59 104.40 L671.29 104.69 L671.99 104.97 L672.70 105.26 L673.40 105.54 L674.10 105.83 L674.80 106.12 L675.50 106.41 L676.21 106.71 L676.91 107.00 L677.61 107.30 L678.31 107.59 L679.02 107.89 L679.72 108.19 L680.42 108.50 L681.12 108.80 L681.82 109.10 L682.53 109.41 L683.23 109.72 L683.93 110.03 L684.63 110.34 L685.34 110.66 L686.04 110.97 L686.74 111.29 L687.44 111.61 L688.14 111.93 L688.85 112.25 L689.55 112.57 L690.25 112.90 L690.95 113.23 L691.65 113.56 L692.36 113.89 L693.06 114.22 L693.76 114.56 L694.46 114.90 L695.17 115.24 L695.87 115.58 L696.57 115.92 L697.27 116.27 L697.97 116.62 L698.68 116.97 L699.38 117.32 L700.08 117.67 L700.78 118.03 L701.49 118.39 L702.19 118.75 L702.89 119.12 L703.59 119.48 L704.29 119.85 L705.00 120.22 L705.70 120.60 L706.40 120.97 L707.10 121.35 L707.81 121.73 L708.51 122.12 L709.21 122.51 L709.91 122.90 L710.61 123.29 L711.32 123.68 L712.02 124.08 L712.72 124.48 L713.42 124.89 L714.12 125.30 L714.83 125.71 L715.53 126.12 L716.23 126.54 L716.93 126.96 L717.64 127.38 L718.34 127.81 L719.04 128.24 L719.74 128.67 L720.44 129.11 L721.15 129.55 L721.85 130.00 L722.55 130.45 L723.25 130.90 L723.96 131.36 L724.66 131.82 L725.36 132.28 L726.06 132.75 L726.76 133.22 L727.47 133.70 L728.17 134.18 L728.87 134.67 L729.57 135.16 L730.27 135.66 L730.98 136.16 L731.68 136.67 L732.38 137.18 L733.08 137.70 L733.79 138.22 L734.49 138.75 L735.19 139.28 L735.89 139.82 L736.59 140.37 L737.30 140.92 L738.00 141.48 L738.70 142.05 L739.40 142.62 L740.11 143.20 L740.81 143.78 L741.51 144.38 L742.21 144.98 L742.91 145.59 L743.62 146.21 L744.32 146.83 L745.02 147.46 L745.72 148.11 L746.43 148.76 L747.13 149.42 L747.83 150.09 L748.53 150.77 L749.23 151.47 L749.94 152.17 L750.64 152.88 L751.34 153.61 L752.04 154.35 L752.75 155.10 L753.45 155.86 L754.15 156.64 L754.85 157.43 L755.55 158.24 L756.26 159.06 L756.96 159.90 L757.66 160.76 L758.36 161.63 L759.06 162.53 L759.77 163.44 L760.47 164.37 L761.17 165.33 L761.87 166.31 L762.58 167.32 L763.28 168.35 L763.98 169.40 L764.68 170.49 L765.38 171.61 L766.09 172.77 L766.79 173.95 L767.49 175.18 L768.19 176.45 L768.90 177.76 L769.60 179.12 L770.30 180.54 L771.00 182.01 L771.70 183.54 L772.41 185.14 L773.11 186.81 L773.81 188.57 L774.51 190.42 L775.22 192.38 L775.92 194.45 L776.62 196.66 L777.32 199.02 L778.02 201.55 L778.73 204.30 L779.43 207.29 L780.13 210.59 L780.83 214.26 L781.53 218.39 L782.24 223.15" fill="none" stroke="#5a5a5a" stroke-width="1.4" stroke-dasharray="8.2 2.6 1.5 2.6 1.5 2.6" stroke-dashoffset="14.85"/>
<path d="M561.75 90.54 L562.45 90.76 L563.15 90.99 L563.86 91.21 L564.56 91.43 L565.26 91.65 L565.96 91.88 L566.67 92.11 L567.37 92.33 L568.07 92.56 L568.77 92.79 L569.47 93.02 L570.18 93.24 L570.88 93.48 L571.58 93.71 L572.28 93.94 L572.99 94.17 L573.69 94.40 L574.39 94.64 L575.09 94.87 L575.79 95.11 L576.50 95.35 L577.20 95.59 L577.90 95.82 L578.60 96.06 L579.30 96.30 L580.01 96.54 L580.71 96.79 L581.41 97.03 L582.11 97.27 L582.82 97.52 L583.52 97.76 L584.22 98.01 L584.92 98.26 L585.62 98.51 L586.33 98.75 L587.03 99.00 L587.73 99.26 L588.43 99.51 L589.14 99.76 L589.84 100.01 L590.54 100.27 L591.24 100.52 L591.94 100.78 L592.65 101.04 L593.35 101.30 L594.05 101.55 L594.75 101.81 L595.46 102.08 L596.16 102.34 L596.86 102.60 L597.56 102.86 L598.26 103.13 L598.97 103.40 L599.67 103.66 L600.37 103.93 L601.07 104.20 L601.77 104.47 L602.48 104.74 L603.18 105.01 L603.88 105.28 L604.58 105.56 L605.29 105.83 L605.99 106.11 L606.69 106.38 L607.39 106.66 L608.09 106.94 L608.80 107.22 L609.50 107.50 L610.20 107.78 L610.90 108.06 L611.61 108.35 L612.31 108.63 L613.01 108.92 L613.71 109.20 L614.41 109.49 L615.12 109.78 L615.82 110.07 L616.52 110.36 L617.22 110.65 L617.92 110.94 L618.63 111.23 L619.33 111.53 L620.03 111.82 L620.73 112.12 L621.44 112.42 L622.14 112.72 L622.84 113.02 L623.54 113.32 L624.24 113.62 L624.95 113.92 L625.65 114.22 L626.35 114.53 L627.05 114.83 L627.76 115.14 L628.46 115.44 L629.16 115.75 L629.86 116.06 L630.56 116.37 L631.27 116.68 L631.97 116.99 L632.67 117.31 L633.37 117.62 L634.08 117.93 L634.78 118.25 L635.48 118.57 L636.18 118.88 L636.88 119.20 L637.59 119.52 L638.29 119.84 L638.99 120.16 L639.69 120.48 L640.39 120.81 L641.10 121.13 L641.80 121.45 L642.50 121.78 L643.20 122.11 L643.91 122.43 L644.61 122.76 L645.31 123.09 L646.01 123.42 L646.71 123.75 L647.42 124.08 L648.12 124.41 L648.82 124.74 L649.52 125.07 L650.23 125.41 L650.93 125.74 L651.63 126.08 L652.33 126.41 L653.03 126.75 L653.74 127.08 L654.44 127.42 L655.14 127.76 L655.84 128.10 L656.55 128.44 L657.25 128.77 L657.95 129.11 L658.65 129.45 L659.35 129.80 L660.06 130.14 L660.76 130.48 L661.46 130.82 L662.16 131.16 L662.87 131.51 L663.57 131.85 L664.27 132.19 L664.97 132.54 L665.67 132.88 L666.38 133.22 L667.08 133.57 L667.78 133.91 L668.48 134.26 L669.18 134.60 L669.89 134.95 L670.59 135.29 L671.29 135.64 L671.99 135.98 L672.70 136.32 L673.40 136.67 L674.10 137.01 L674.80 137.36 L675.50 137.70 L676.21 138.05 L676.91 138.39 L677.61 138.74 L678.31 139.08 L679.02 139.42 L679.72 139.76 L680.42 140.11 L681.12 140.45 L681.82 140.79 L682.53 141.13 L683.23 141.47 L683.93 141.81 L684.63 142.15 L685.34 142.49 L686.04 142.83 L686.74 143.17 L687.44 143.50 L688.14 143.84 L688.85 144.17 L689.55 144.51 L690.25 144.84 L690.95 145.18 L691.65 145.51 L692.36 145.84 L693.06 146.17 L693.76 146.50 L694.46 146.82 L695.17 147.15 L695.87 147.48 L696.57 147.80 L697.27 148.12 L697.97 148.45 L698.68 148.77 L699.38 149.08 L700.08 149.40 L700.78 149.72 L701.49 150.03 L702.19 150.35 L702.89 150.66 L703.59 150.97 L704.29 151.28 L705.00 151.59 L705.70 151.89 L706.40 152.20 L707.10 152.50 L707.81 152.80 L708.51 153.10 L709.21 153.40 L709.91 153.69 L710.61 153.98 L711.32 154.28 L712.02 154.57 L712.72 154.85 L713.42 155.14 L714.12 155.42 L714.83 155.71 L715.53 155.99 L716.23 156.26 L716.93 156.54 L717.64 156.81 L718.34 157.09 L719.04 157.36 L719.74 157.62 L720.44 157.89 L721.15 158.15 L721.85 158.41 L722.55 158.67 L723.25 158.93 L723.96 159.18 L724.66 159.44 L725.36 159.69 L726.06 159.93 L726.76 160.18 L727.47 160.42 L728.17 160.66 L728.87 160.90 L729.57 161.14 L730.27 161.37 L730.98 161.60 L731.68 161.83 L732.38 162.06 L733.08 162.28 L733.79 162.51 L734.49 162.73 L735.19 162.94 L735.89 163.16 L736.59 163.37 L737.30 163.58 L738.00 163.79 L738.70 164.00 L739.40 164.20 L740.11 164.40 L740.81 164.60 L741.51 164.80 L742.21 164.99 L742.91 165.18 L743.62 165.37 L744.32 165.56 L745.02 165.74 L745.72 165.93 L746.43 166.11 L747.13 166.28 L747.83 166.46 L748.53 166.63 L749.23 166.81 L749.94 166.97 L750.64 167.14 L751.34 167.31 L752.04 167.47 L752.75 167.63 L753.45 167.79 L754.15 167.94 L754.85 168.10 L755.55 168.25 L756.26 168.40 L756.96 168.54 L757.66 168.69 L758.36 168.83 L759.06 168.97 L759.77 169.11 L760.47 169.25 L761.17 169.39 L761.87 169.52 L762.58 169.65 L763.28 169.78 L763.98 169.91 L764.68 170.03 L765.38 170.16 L766.09 170.28 L766.79 170.40 L767.49 170.52 L768.19 170.64 L768.90 170.75 L769.60 170.86 L770.30 170.97 L771.00 171.08 L771.70 171.19 L772.41 171.30 L773.11 171.40 L773.81 171.50 L774.51 171.61 L775.22 171.71 L775.92 171.80 L776.62 171.90 L777.32 171.99 L778.02 172.09 L778.73 172.18 L779.43 172.27 L780.13 172.36 L780.83 172.45 L781.53 172.53 L782.24 172.62 L782.94 172.70 L783.64 172.78 L784.34 172.86 L785.05 172.94 L785.75 173.02 L786.45 173.10" fill="none" stroke="#1439dd" stroke-width="1.45" stroke-dasharray="8.25 2.32 1.8 2.33"/>
</g>
<g clip-path="url(#c10)">
<path d="M61.80 296.35 L62.50 296.49 L63.20 296.63 L63.91 296.77 L64.61 296.91 L65.31 297.06 L66.01 297.20 L66.72 297.34 L67.42 297.48 L68.12 297.63 L68.82 297.77 L69.52 297.92 L70.23 298.06 L70.93 298.20 L71.63 298.35 L72.33 298.50 L73.04 298.64 L73.74 298.79 L74.44 298.93 L75.14 299.08 L75.84 299.23 L76.55 299.38 L77.25 299.52 L77.95 299.67 L78.65 299.82 L79.35 299.97 L80.06 300.12 L80.76 300.27 L81.46 300.42 L82.16 300.57 L82.87 300.72 L83.57 300.87 L84.27 301.03 L84.97 301.18 L85.67 301.33 L86.38 301.48 L87.08 301.64 L87.78 301.79 L88.48 301.95 L89.19 302.10 L89.89 302.26 L90.59 302.41 L91.29 302.57 L91.99 302.72 L92.70 302.88 L93.40 303.04 L94.10 303.19 L94.80 303.35 L95.50 303.51 L96.21 303.67 L96.91 303.83 L97.61 303.99 L98.31 304.15 L99.02 304.31 L99.72 304.47 L100.42 304.63 L101.12 304.79 L101.82 304.95 L102.53 305.12 L103.23 305.28 L103.93 305.44 L104.63 305.61 L105.34 305.77 L106.04 305.94 L106.74 306.10 L107.44 306.27 L108.14 306.43 L108.85 306.60 L109.55 306.77 L110.25 306.93 L110.95 307.10 L111.66 307.27 L112.36 307.44 L113.06 307.61 L113.76 307.78 L114.46 307.95 L115.17 308.12 L115.87 308.29 L116.57 308.46 L117.27 308.64 L117.97 308.81 L118.68 308.98 L119.38 309.16 L120.08 309.33 L120.78 309.51 L121.49 309.68 L122.19 309.86 L122.89 310.03 L123.59 310.21 L124.29 310.39 L125.00 310.57 L125.70 310.74 L126.40 310.92 L127.10 311.10 L127.81 311.28 L128.51 311.46 L129.21 311.65 L129.91 311.83 L130.61 312.01 L131.32 312.19 L132.02 312.38 L132.72 312.56 L133.42 312.74 L134.13 312.93 L134.83 313.12 L135.53 313.30 L136.23 313.49 L136.93 313.68 L137.64 313.86 L138.34 314.05 L139.04 314.24 L139.74 314.43 L140.44 314.62 L141.15 314.81 L141.85 315.01 L142.55 315.20 L143.25 315.39 L143.96 315.58 L144.66 315.78 L145.36 315.97 L146.06 316.17 L146.76 316.36 L147.47 316.56 L148.17 316.76 L148.87 316.96 L149.57 317.16 L150.28 317.36 L150.98 317.56 L151.68 317.76 L152.38 317.96 L153.08 318.16 L153.79 318.36 L154.49 318.57 L155.19 318.77 L155.89 318.97 L156.60 319.18 L157.30 319.39 L158.00 319.59 L158.70 319.80 L159.40 320.01 L160.11 320.22 L160.81 320.43 L161.51 320.64 L162.21 320.85 L162.91 321.06 L163.62 321.27 L164.32 321.49 L165.02 321.70 L165.72 321.92 L166.43 322.13 L167.13 322.35 L167.83 322.57 L168.53 322.79 L169.23 323.00 L169.94 323.22 L170.64 323.45 L171.34 323.67 L172.04 323.89 L172.75 324.11 L173.45 324.34 L174.15 324.56 L174.85 324.79 L175.55 325.01 L176.26 325.24 L176.96 325.47 L177.66 325.70 L178.36 325.93 L179.07 326.16 L179.77 326.39 L180.47 326.62 L181.17 326.86 L181.87 327.09 L182.58 327.33 L183.28 327.56 L183.98 327.80 L184.68 328.04 L185.38 328.28 L186.09 328.52 L186.79 328.76 L187.49 329.00 L188.19 329.24 L188.90 329.49 L189.60 329.73 L190.30 329.98 L191.00 330.22 L191.70 330.47 L192.41 330.72 L193.11 330.97 L193.81 331.22 L194.51 331.48 L195.22 331.73 L195.92 331.98 L196.62 332.24 L197.32 332.50 L198.02 332.75 L198.73 333.01 L199.43 333.27 L200.13 333.53 L200.83 333.79 L201.54 334.06 L202.24 334.32 L202.94 334.59 L203.64 334.85 L204.34 335.12 L205.05 335.39 L205.75 335.66 L206.45 335.93 L207.15 336.21 L207.86 336.48 L208.56 336.76 L209.26 337.03 L209.96 337.31 L210.66 337.59 L211.37 337.87 L212.07 338.15 L212.77 338.44 L213.47 338.72 L214.17 339.01 L214.88 339.29 L215.58 339.58 L216.28 339.87 L216.98 340.16 L217.69 340.46 L218.39 340.75 L219.09 341.05 L219.79 341.34 L220.49 341.64 L221.20 341.94 L221.90 342.24 L222.60 342.55 L223.30 342.85 L224.01 343.16 L224.71 343.47 L225.41 343.78 L226.11 344.09 L226.81 344.40 L227.52 344.72 L228.22 345.03 L228.92 345.35 L229.62 345.67 L230.32 345.99 L231.03 346.31 L231.73 346.64 L232.43 346.96 L233.13 347.29 L233.84 347.62 L234.54 347.95 L235.24 348.29 L235.94 348.62 L236.64 348.96 L237.35 349.30 L238.05 349.64 L238.75 349.98 L239.45 350.33 L240.16 350.68 L240.86 351.03 L241.56 351.38 L242.26 351.73 L242.96 352.09 L243.67 352.44 L244.37 352.80 L245.07 353.16 L245.77 353.53 L246.48 353.90 L247.18 354.26 L247.88 354.63 L248.58 355.01 L249.28 355.38 L249.99 355.76 L250.69 356.14 L251.39 356.52 L252.09 356.91 L252.80 357.30 L253.50 357.69 L254.20 358.08 L254.90 358.48 L255.60 358.87 L256.31 359.27 L257.01 359.68 L257.71 360.08 L258.41 360.49 L259.11 360.90 L259.82 361.32 L260.52 361.74 L261.22 362.16 L261.92 362.58 L262.63 363.01 L263.33 363.43 L264.03 363.87 L264.73 364.30 L265.43 364.74 L266.14 365.18 L266.84 365.63 L267.54 366.08 L268.24 366.53 L268.95 366.98 L269.65 367.44 L270.35 367.91 L271.05 368.37 L271.75 368.84 L272.46 369.31 L273.16 369.79 L273.86 370.27 L274.56 370.76 L275.26 371.25 L275.97 371.74 L276.67 372.24 L277.37 372.74 L278.07 373.24 L278.78 373.75 L279.48 374.27 L280.18 374.79 L280.88 375.31 L281.58 375.84 L282.29 376.37 L282.99 376.91 L283.69 377.45 L284.39 377.99 L285.10 378.55 L285.80 379.10 L286.50 379.67" fill="none" stroke="#404040" stroke-width="1.05" stroke-dasharray="1.2 1.83"/>
<path d="M61.80 296.35 L62.50 296.49 L63.20 296.63 L63.91 296.77 L64.61 296.92 L65.31 297.06 L66.01 297.20 L66.72 297.34 L67.42 297.49 L68.12 297.63 L68.82 297.77 L69.52 297.92 L70.23 298.06 L70.93 298.21 L71.63 298.35 L72.33 298.50 L73.04 298.65 L73.74 298.79 L74.44 298.94 L75.14 299.09 L75.84 299.23 L76.55 299.38 L77.25 299.53 L77.95 299.68 L78.65 299.83 L79.35 299.98 L80.06 300.13 L80.76 300.28 L81.46 300.43 L82.16 300.58 L82.87 300.73 L83.57 300.88 L84.27 301.03 L84.97 301.18 L85.67 301.34 L86.38 301.49 L87.08 301.64 L87.78 301.80 L88.48 301.95 L89.19 302.11 L89.89 302.26 L90.59 302.42 L91.29 302.57 L91.99 302.73 L92.70 302.89 L93.40 303.05 L94.10 303.20 L94.80 303.36 L95.50 303.52 L96.21 303.68 L96.91 303.84 L97.61 304.00 L98.31 304.16 L99.02 304.32 L99.72 304.48 L100.42 304.64 L101.12 304.80 L101.82 304.97 L102.53 305.13 L103.23 305.29 L103.93 305.46 L104.63 305.62 L105.34 305.79 L106.04 305.95 L106.74 306.12 L107.44 306.28 L108.14 306.45 L108.85 306.62 L109.55 306.78 L110.25 306.95 L110.95 307.12 L111.66 307.29 L112.36 307.46 L113.06 307.63 L113.76 307.80 L114.46 307.97 L115.17 308.14 L115.87 308.31 L116.57 308.49 L117.27 308.66 L117.97 308.83 L118.68 309.01 L119.38 309.18 L120.08 309.36 L120.78 309.53 L121.49 309.71 L122.19 309.89 L122.89 310.06 L123.59 310.24 L124.29 310.42 L125.00 310.60 L125.70 310.78 L126.40 310.96 L127.10 311.14 L127.81 311.32 L128.51 311.50 L129.21 311.68 L129.91 311.87 L130.61 312.05 L131.32 312.24 L132.02 312.42 L132.72 312.61 L133.42 312.79 L134.13 312.98 L134.83 313.17 L135.53 313.35 L136.23 313.54 L136.93 313.73 L137.64 313.92 L138.34 314.11 L139.04 314.30 L139.74 314.49 L140.44 314.69 L141.15 314.88 L141.85 315.07 L142.55 315.27 L143.25 315.46 L143.96 315.66 L144.66 315.85 L145.36 316.05 L146.06 316.25 L146.76 316.45 L147.47 316.65 L148.17 316.85 L148.87 317.05 L149.57 317.25 L150.28 317.45 L150.98 317.65 L151.68 317.86 L152.38 318.06 L153.08 318.26 L153.79 318.47 L154.49 318.68 L155.19 318.88 L155.89 319.09 L156.60 319.30 L157.30 319.51 L158.00 319.72 L158.70 319.93 L159.40 320.15 L160.11 320.36 L160.81 320.57 L161.51 320.79 L162.21 321.00 L162.91 321.22 L163.62 321.44 L164.32 321.66 L165.02 321.88 L165.72 322.10 L166.43 322.32 L167.13 322.54 L167.83 322.76 L168.53 322.99 L169.23 323.21 L169.94 323.44 L170.64 323.67 L171.34 323.89 L172.04 324.12 L172.75 324.35 L173.45 324.58 L174.15 324.82 L174.85 325.05 L175.55 325.28 L176.26 325.52 L176.96 325.75 L177.66 325.99 L178.36 326.23 L179.07 326.47 L179.77 326.71 L180.47 326.95 L181.17 327.20 L181.87 327.44 L182.58 327.69 L183.28 327.94 L183.98 328.18 L184.68 328.43 L185.38 328.68 L186.09 328.94 L186.79 329.19 L187.49 329.45 L188.19 329.70 L188.90 329.96 L189.60 330.22 L190.30 330.48 L191.00 330.74 L191.70 331.01 L192.41 331.27 L193.11 331.54 L193.81 331.81 L194.51 332.08 L195.22 332.35 L195.92 332.62 L196.62 332.89 L197.32 333.17 L198.02 333.45 L198.73 333.73 L199.43 334.01 L200.13 334.29 L200.83 334.58 L201.54 334.86 L202.24 335.15 L202.94 335.44 L203.64 335.74 L204.34 336.03 L205.05 336.33 L205.75 336.63 L206.45 336.93 L207.15 337.23 L207.86 337.54 L208.56 337.84 L209.26 338.15 L209.96 338.47 L210.66 338.78 L211.37 339.10 L212.07 339.42 L212.77 339.74 L213.47 340.06 L214.17 340.39 L214.88 340.72 L215.58 341.05 L216.28 341.38 L216.98 341.72 L217.69 342.06 L218.39 342.41 L219.09 342.75 L219.79 343.10 L220.49 343.46 L221.20 343.81 L221.90 344.17 L222.60 344.53 L223.30 344.90 L224.01 345.27 L224.71 345.64 L225.41 346.02 L226.11 346.40 L226.81 346.78 L227.52 347.17 L228.22 347.56 L228.92 347.96 L229.62 348.36 L230.32 348.76 L231.03 349.17 L231.73 349.59 L232.43 350.01 L233.13 350.43 L233.84 350.86 L234.54 351.29 L235.24 351.73 L235.94 352.17 L236.64 352.62 L237.35 353.08 L238.05 353.54 L238.75 354.00 L239.45 354.48 L240.16 354.95 L240.86 355.44 L241.56 355.93 L242.26 356.43 L242.96 356.94 L243.67 357.45 L244.37 357.97 L245.07 358.50 L245.77 359.03 L246.48 359.58 L247.18 360.13 L247.88 360.69 L248.58 361.26 L249.28 361.84 L249.99 362.43 L250.69 363.03 L251.39 363.64 L252.09 364.26 L252.80 364.89 L253.50 365.54 L254.20 366.19 L254.90 366.86 L255.60 367.54 L256.31 368.23 L257.01 368.94 L257.71 369.66 L258.41 370.40 L259.11 371.15 L259.82 371.92 L260.52 372.70 L261.22 373.51 L261.92 374.33 L262.63 375.17 L263.33 376.03 L264.03 376.91 L264.73 377.82 L265.43 378.75 L266.14 379.70 L266.84 380.68 L267.54 381.69 L268.24 382.73 L268.95 383.79 L269.65 384.90 L270.35 386.03 L271.05 387.20 L271.75 388.42 L272.46 389.67 L273.16 390.97 L273.86 392.32 L274.56 393.73 L275.26 395.19 L275.97 396.71 L276.67 398.31 L277.37 399.97 L278.07 401.73 L278.78 403.58 L279.48 405.53 L280.18 407.60 L280.88 409.81 L281.58 412.17 L282.29 414.72 L282.99 417.48 L283.69 420.49 L284.39 423.79 L285.10 427.41" fill="none" stroke="#0a0a0a" stroke-width="2.0"/>
<path d="M61.80 296.35 L62.50 296.49 L63.20 296.63 L63.91 296.77 L64.61 296.92 L65.31 297.06 L66.01 297.20 L66.72 297.34 L67.42 297.49 L68.12 297.63 L68.82 297.77 L69.52 297.92 L70.23 298.06 L70.93 298.21 L71.63 298.35 L72.33 298.50 L73.04 298.65 L73.74 298.79 L74.44 298.94 L75.14 299.09 L75.84 299.23 L76.55 299.38 L77.25 299.53 L77.95 299.68 L78.65 299.83 L79.35 299.98 L80.06 300.13 L80.76 300.28 L81.46 300.43 L82.16 300.58 L82.87 300.73 L83.57 300.88 L84.27 301.03 L84.97 301.18 L85.67 301.34 L86.38 301.49 L87.08 301.64 L87.78 301.80 L88.48 301.95 L89.19 302.11 L89.89 302.26 L90.59 302.42 L91.29 302.57 L91.99 302.73 L92.70 302.89 L93.40 303.05 L94.10 303.20 L94.80 303.36 L95.50 303.52 L96.21 303.68 L96.91 303.84 L97.61 304.00 L98.31 304.16 L99.02 304.32 L99.72 304.48 L100.42 304.64 L101.12 304.80 L101.82 304.97 L102.53 305.13 L103.23 305.29 L103.93 305.46 L104.63 305.62 L105.34 305.79 L106.04 305.95 L106.74 306.12 L107.44 306.28 L108.14 306.45 L108.85 306.62 L109.55 306.78 L110.25 306.95 L110.95 307.12 L111.66 307.29 L112.36 307.46 L113.06 307.63 L113.76 307.80 L114.46 307.97 L115.17 308.14 L115.87 308.31 L116.57 308.49 L117.27 308.66 L117.97 308.83 L118.68 309.01 L119.38 309.18 L120.08 309.36 L120.78 309.53 L121.49 309.71 L122.19 309.89 L122.89 310.06 L123.59 310.24 L124.29 310.42 L125.00 310.60 L125.70 310.78 L126.40 310.96 L127.10 311.14 L127.81 311.32 L128.51 311.50 L129.21 311.68 L129.91 311.87 L130.61 312.05 L131.32 312.24 L132.02 312.42 L132.72 312.61 L133.42 312.79 L134.13 312.98 L134.83 313.17 L135.53 313.35 L136.23 313.54 L136.93 313.73 L137.64 313.92 L138.34 314.11 L139.04 314.30 L139.74 314.49 L140.44 314.69 L141.15 314.88 L141.85 315.07 L142.55 315.27 L143.25 315.46 L143.96 315.66 L144.66 315.85 L145.36 316.05 L146.06 316.25 L146.76 316.45 L147.47 316.65 L148.17 316.85 L148.87 317.05 L149.57 317.25 L150.28 317.45 L150.98 317.65 L151.68 317.86 L152.38 318.06 L153.08 318.26 L153.79 318.47 L154.49 318.68 L155.19 318.88 L155.89 319.09 L156.60 319.30 L157.30 319.51 L158.00 319.72 L158.70 319.93 L159.40 320.15 L160.11 320.36 L160.81 320.57 L161.51 320.79 L162.21 321.00 L162.91 321.22 L163.62 321.44 L164.32 321.66 L165.02 321.88 L165.72 322.10 L166.43 322.32 L167.13 322.54 L167.83 322.76 L168.53 322.99 L169.23 323.21 L169.94 323.44 L170.64 323.67 L171.34 323.89 L172.04 324.12 L172.75 324.35 L173.45 324.58 L174.15 324.82 L174.85 325.05 L175.55 325.28 L176.26 325.52 L176.96 325.75 L177.66 325.99 L178.36 326.23 L179.07 326.47 L179.77 326.71 L180.47 326.95 L181.17 327.20 L181.87 327.44 L182.58 327.69 L183.28 327.94 L183.98 328.18 L184.68 328.43 L185.38 328.68 L186.09 328.94 L186.79 329.19 L187.49 329.45 L188.19 329.70 L188.90 329.96 L189.60 330.22 L190.30 330.48 L191.00 330.74 L191.70 331.01 L192.41 331.27 L193.11 331.54 L193.81 331.81 L194.51 332.08 L195.22 332.35 L195.92 332.62 L196.62 332.89 L197.32 333.17 L198.02 333.45 L198.73 333.73 L199.43 334.01 L200.13 334.29 L200.83 334.58 L201.54 334.86 L202.24 335.15 L202.94 335.44 L203.64 335.74 L204.34 336.03 L205.05 336.33 L205.75 336.63 L206.45 336.93 L207.15 337.23 L207.86 337.54 L208.56 337.84 L209.26 338.15 L209.96 338.47 L210.66 338.78 L211.37 339.10 L212.07 339.42 L212.77 339.74 L213.47 340.06 L214.17 340.39 L214.88 340.72 L215.58 341.05 L216.28 341.38 L216.98 341.72 L217.69 342.06 L218.39 342.41 L219.09 342.75 L219.79 343.10 L220.49 343.46 L221.20 343.81 L221.90 344.17 L222.60 344.53 L223.30 344.90 L224.01 345.27 L224.71 345.64 L225.41 346.02 L226.11 346.40 L226.81 346.78 L227.52 347.17 L228.22 347.56 L228.92 347.96 L229.62 348.36 L230.32 348.76 L231.03 349.17 L231.73 349.59 L232.43 350.01 L233.13 350.43 L233.84 350.86 L234.54 351.29 L235.24 351.73 L235.94 352.17 L236.64 352.62 L237.35 353.08 L238.05 353.54 L238.75 354.00 L239.45 354.48 L240.16 354.95 L240.86 355.44 L241.56 355.93 L242.26 356.43 L242.96 356.94 L243.67 357.45 L244.37 357.97 L245.07 358.50 L245.77 359.03 L246.48 359.58 L247.18 360.13 L247.88 360.69 L248.58 361.26 L249.28 361.84 L249.99 362.43 L250.69 363.03 L251.39 363.64 L252.09 364.26 L252.80 364.89 L253.50 365.54 L254.20 366.19 L254.90 366.86 L255.60 367.54 L256.31 368.23 L257.01 368.94 L257.71 369.66 L258.41 370.40 L259.11 371.15 L259.82 371.92 L260.52 372.70 L261.22 373.51 L261.92 374.33 L262.63 375.17 L263.33 376.03 L264.03 376.91 L264.73 377.82 L265.43 378.75 L266.14 379.70 L266.84 380.68 L267.54 381.69 L268.24 382.73 L268.95 383.79 L269.65 384.90 L270.35 386.03 L271.05 387.20 L271.75 388.42 L272.46 389.67 L273.16 390.97 L273.86 392.32 L274.56 393.73 L275.26 395.19 L275.97 396.71 L276.67 398.31 L277.37 399.97 L278.07 401.73 L278.78 403.58 L279.48 405.53 L280.18 407.60 L280.88 409.81 L281.58 412.17 L282.29 414.72 L282.99 417.48 L283.69 420.49 L284.39 423.79 L285.10 427.41" fill="none" stroke="#c8204c" stroke-width="1.6" stroke-dasharray="3.1 3.75"/>
<path d="M61.80 296.35 L62.50 296.49 L63.20 296.63 L63.91 296.78 L64.61 296.92 L65.31 297.06 L66.01 297.20 L66.72 297.34 L67.42 297.49 L68.12 297.63 L68.82 297.78 L69.52 297.92 L70.23 298.06 L70.93 298.21 L71.63 298.36 L72.33 298.50 L73.04 298.65 L73.74 298.79 L74.44 298.94 L75.14 299.09 L75.84 299.23 L76.55 299.38 L77.25 299.53 L77.95 299.68 L78.65 299.83 L79.35 299.98 L80.06 300.13 L80.76 300.28 L81.46 300.43 L82.16 300.58 L82.87 300.73 L83.57 300.88 L84.27 301.03 L84.97 301.19 L85.67 301.34 L86.38 301.49 L87.08 301.65 L87.78 301.80 L88.48 301.96 L89.19 302.11 L89.89 302.27 L90.59 302.42 L91.29 302.58 L91.99 302.73 L92.70 302.89 L93.40 303.05 L94.10 303.21 L94.80 303.36 L95.50 303.52 L96.21 303.68 L96.91 303.84 L97.61 304.00 L98.31 304.16 L99.02 304.32 L99.72 304.48 L100.42 304.65 L101.12 304.81 L101.82 304.97 L102.53 305.13 L103.23 305.30 L103.93 305.46 L104.63 305.63 L105.34 305.79 L106.04 305.96 L106.74 306.12 L107.44 306.29 L108.14 306.45 L108.85 306.62 L109.55 306.79 L110.25 306.96 L110.95 307.13 L111.66 307.30 L112.36 307.47 L113.06 307.64 L113.76 307.81 L114.46 307.98 L115.17 308.15 L115.87 308.32 L116.57 308.49 L117.27 308.67 L117.97 308.84 L118.68 309.02 L119.38 309.19 L120.08 309.37 L120.78 309.54 L121.49 309.72 L122.19 309.90 L122.89 310.07 L123.59 310.25 L124.29 310.43 L125.00 310.61 L125.70 310.79 L126.40 310.97 L127.10 311.15 L127.81 311.33 L128.51 311.52 L129.21 311.70 L129.91 311.88 L130.61 312.07 L131.32 312.25 L132.02 312.43 L132.72 312.62 L133.42 312.81 L134.13 312.99 L134.83 313.18 L135.53 313.37 L136.23 313.56 L136.93 313.75 L137.64 313.94 L138.34 314.13 L139.04 314.32 L139.74 314.51 L140.44 314.71 L141.15 314.90 L141.85 315.09 L142.55 315.29 L143.25 315.48 L143.96 315.68 L144.66 315.88 L145.36 316.08 L146.06 316.27 L146.76 316.47 L147.47 316.67 L148.17 316.87 L148.87 317.08 L149.57 317.28 L150.28 317.48 L150.98 317.68 L151.68 317.89 L152.38 318.09 L153.08 318.30 L153.79 318.51 L154.49 318.72 L155.19 318.92 L155.89 319.13 L156.60 319.34 L157.30 319.55 L158.00 319.77 L158.70 319.98 L159.40 320.19 L160.11 320.41 L160.81 320.62 L161.51 320.84 L162.21 321.06 L162.91 321.27 L163.62 321.49 L164.32 321.71 L165.02 321.93 L165.72 322.16 L166.43 322.38 L167.13 322.60 L167.83 322.83 L168.53 323.05 L169.23 323.28 L169.94 323.51 L170.64 323.74 L171.34 323.97 L172.04 324.20 L172.75 324.43 L173.45 324.67 L174.15 324.90 L174.85 325.14 L175.55 325.37 L176.26 325.61 L176.96 325.85 L177.66 326.09 L178.36 326.33 L179.07 326.58 L179.77 326.82 L180.47 327.06 L181.17 327.31 L181.87 327.56 L182.58 327.81 L183.28 328.06 L183.98 328.31 L184.68 328.57 L185.38 328.82 L186.09 329.08 L186.79 329.33 L187.49 329.59 L188.19 329.85 L188.90 330.12 L189.60 330.38 L190.30 330.65 L191.00 330.91 L191.70 331.18 L192.41 331.45 L193.11 331.72 L193.81 332.00 L194.51 332.27 L195.22 332.55 L195.92 332.83 L196.62 333.11 L197.32 333.39 L198.02 333.68 L198.73 333.96 L199.43 334.25 L200.13 334.54 L200.83 334.84 L201.54 335.13 L202.24 335.43 L202.94 335.73 L203.64 336.03 L204.34 336.33 L205.05 336.64 L205.75 336.94 L206.45 337.25 L207.15 337.57 L207.86 337.88 L208.56 338.20 L209.26 338.52 L209.96 338.84 L210.66 339.17 L211.37 339.50 L212.07 339.83 L212.77 340.16 L213.47 340.50 L214.17 340.84 L214.88 341.18 L215.58 341.53 L216.28 341.88 L216.98 342.23 L217.69 342.59 L218.39 342.95 L219.09 343.31 L219.79 343.68 L220.49 344.05 L221.20 344.42 L221.90 344.80 L222.60 345.18 L223.30 345.57 L224.01 345.96 L224.71 346.35 L225.41 346.75 L226.11 347.15 L226.81 347.56 L227.52 347.97 L228.22 348.39 L228.92 348.81 L229.62 349.24 L230.32 349.67 L231.03 350.11 L231.73 350.56 L232.43 351.00 L233.13 351.46 L233.84 351.92 L234.54 352.39 L235.24 352.86 L235.94 353.34 L236.64 353.83 L237.35 354.32 L238.05 354.82 L238.75 355.33 L239.45 355.85 L240.16 356.37 L240.86 356.90 L241.56 357.44 L242.26 357.99 L242.96 358.55 L243.67 359.12 L244.37 359.69 L245.07 360.28 L245.77 360.88 L246.48 361.48 L247.18 362.10 L247.88 362.73 L248.58 363.37 L249.28 364.03 L249.99 364.69 L250.69 365.37 L251.39 366.07 L252.09 366.77 L252.80 367.49 L253.50 368.23 L254.20 368.99 L254.90 369.76 L255.60 370.54 L256.31 371.35 L257.01 372.17 L257.71 373.02 L258.41 373.89 L259.11 374.77 L259.82 375.68 L260.52 376.62 L261.22 377.58 L261.92 378.57 L262.63 379.58 L263.33 380.63 L264.03 381.71 L264.73 382.82 L265.43 383.97 L266.14 385.15 L266.84 386.38 L267.54 387.65 L268.24 388.96 L268.95 390.32 L269.65 391.74 L270.35 393.22 L271.05 394.76 L271.75 396.37 L272.46 398.05 L273.16 399.81 L273.86 401.67 L274.56 403.62 L275.26 405.68 L275.97 407.87 L276.67 410.21 L277.37 412.70 L278.07 415.38 L278.78 418.28 L279.48 421.44 L280.18 424.91 L280.88 428.76" fill="none" stroke="#5a5a5a" stroke-width="1.4" stroke-dasharray="8.2 2.6 1.5 2.6 1.5 2.6" stroke-dashoffset="14.85"/>
<path d="M61.80 288.70 L62.50 288.83 L63.20 288.95 L63.91 289.07 L64.61 289.20 L65.31 289.32 L66.01 289.45 L66.72 289.57 L67.42 289.70 L68.12 289.82 L68.82 289.95 L69.52 290.07 L70.23 290.20 L70.93 290.33 L71.63 290.45 L72.33 290.58 L73.04 290.71 L73.74 290.83 L74.44 290.96 L75.14 291.09 L75.84 291.22 L76.55 291.35 L77.25 291.48 L77.95 291.61 L78.65 291.74 L79.35 291.86 L80.06 291.99 L80.76 292.13 L81.46 292.26 L82.16 292.39 L82.87 292.52 L83.57 292.65 L84.27 292.78 L84.97 292.91 L85.67 293.05 L86.38 293.18 L87.08 293.31 L87.78 293.44 L88.48 293.58 L89.19 293.71 L89.89 293.85 L90.59 293.98 L91.29 294.11 L91.99 294.25 L92.70 294.39 L93.40 294.52 L94.10 294.66 L94.80 294.79 L95.50 294.93 L96.21 295.07 L96.91 295.20 L97.61 295.34 L98.31 295.48 L99.02 295.62 L99.72 295.75 L100.42 295.89 L101.12 296.03 L101.82 296.17 L102.53 296.31 L103.23 296.45 L103.93 296.59 L104.63 296.73 L105.34 296.87 L106.04 297.02 L106.74 297.16 L107.44 297.30 L108.14 297.44 L108.85 297.58 L109.55 297.73 L110.25 297.87 L110.95 298.01 L111.66 298.16 L112.36 298.30 L113.06 298.45 L113.76 298.59 L114.46 298.74 L115.17 298.88 L115.87 299.03 L116.57 299.18 L117.27 299.32 L117.97 299.47 L118.68 299.62 L119.38 299.76 L120.08 299.91 L120.78 300.06 L121.49 300.21 L122.19 300.36 L122.89 300.51 L123.59 300.66 L124.29 300.81 L125.00 300.96 L125.70 301.11 L126.40 301.26 L127.10 301.42 L127.81 301.57 L128.51 301.72 L129.21 301.87 L129.91 302.03 L130.61 302.18 L131.32 302.33 L132.02 302.49 L132.72 302.64 L133.42 302.80 L134.13 302.95 L134.83 303.11 L135.53 303.27 L136.23 303.43 L136.93 303.58 L137.64 303.74 L138.34 303.90 L139.04 304.06 L139.74 304.22 L140.44 304.37 L141.15 304.53 L141.85 304.69 L142.55 304.85 L143.25 305.02 L143.96 305.18 L144.66 305.34 L145.36 305.50 L146.06 305.66 L146.76 305.83 L147.47 305.99 L148.17 306.15 L148.87 306.32 L149.57 306.48 L150.28 306.65 L150.98 306.81 L151.68 306.98 L152.38 307.15 L153.08 307.31 L153.79 307.48 L154.49 307.65 L155.19 307.82 L155.89 307.99 L156.60 308.16 L157.30 308.32 L158.00 308.49 L158.70 308.67 L159.40 308.84 L160.11 309.01 L160.81 309.18 L161.51 309.35 L162.21 309.52 L162.91 309.70 L163.62 309.87 L164.32 310.05 L165.02 310.22 L165.72 310.40 L166.43 310.57 L167.13 310.75 L167.83 310.92 L168.53 311.10 L169.23 311.28 L169.94 311.46 L170.64 311.64 L171.34 311.81 L172.04 311.99 L172.75 312.17 L173.45 312.35 L174.15 312.53 L174.85 312.72 L175.55 312.90 L176.26 313.08 L176.96 313.26 L177.66 313.45 L178.36 313.63 L179.07 313.82 L179.77 314.00 L180.47 314.18 L181.17 314.37 L181.87 314.56 L182.58 314.74 L183.28 314.93 L183.98 315.12 L184.68 315.31 L185.38 315.50 L186.09 315.69 L186.79 315.88 L187.49 316.07 L188.19 316.26 L188.90 316.45 L189.60 316.64 L190.30 316.83 L191.00 317.03 L191.70 317.22 L192.41 317.41 L193.11 317.61 L193.81 317.80 L194.51 318.00 L195.22 318.19 L195.92 318.39 L196.62 318.58 L197.32 318.78 L198.02 318.98 L198.73 319.18 L199.43 319.38 L200.13 319.58 L200.83 319.78 L201.54 319.98 L202.24 320.18 L202.94 320.38 L203.64 320.58 L204.34 320.78 L205.05 320.99 L205.75 321.19 L206.45 321.40 L207.15 321.60 L207.86 321.80 L208.56 322.01 L209.26 322.22 L209.96 322.42 L210.66 322.63 L211.37 322.84 L212.07 323.04 L212.77 323.25 L213.47 323.46 L214.17 323.67 L214.88 323.88 L215.58 324.09 L216.28 324.30 L216.98 324.51 L217.69 324.72 L218.39 324.94 L219.09 325.15 L219.79 325.36 L220.49 325.57 L221.20 325.79 L221.90 326.00 L222.60 326.22 L223.30 326.43 L224.01 326.64 L224.71 326.86 L225.41 327.08 L226.11 327.29 L226.81 327.51 L227.52 327.73 L228.22 327.94 L228.92 328.16 L229.62 328.38 L230.32 328.60 L231.03 328.82 L231.73 329.03 L232.43 329.25 L233.13 329.47 L233.84 329.69 L234.54 329.91 L235.24 330.13 L235.94 330.35 L236.64 330.57 L237.35 330.79 L238.05 331.02 L238.75 331.24 L239.45 331.46 L240.16 331.68 L240.86 331.90 L241.56 332.12 L242.26 332.34 L242.96 332.57 L243.67 332.79 L244.37 333.01 L245.07 333.23 L245.77 333.45 L246.48 333.68 L247.18 333.90 L247.88 334.12 L248.58 334.34 L249.28 334.56 L249.99 334.78 L250.69 335.01 L251.39 335.23 L252.09 335.45 L252.80 335.67 L253.50 335.89 L254.20 336.11 L254.90 336.33 L255.60 336.55 L256.31 336.77 L257.01 336.99 L257.71 337.21 L258.41 337.43 L259.11 337.64 L259.82 337.86 L260.52 338.08 L261.22 338.29 L261.92 338.51 L262.63 338.72 L263.33 338.94 L264.03 339.15 L264.73 339.36 L265.43 339.57 L266.14 339.79 L266.84 340.00 L267.54 340.21 L268.24 340.41 L268.95 340.62 L269.65 340.83 L270.35 341.04 L271.05 341.24 L271.75 341.44 L272.46 341.64 L273.16 341.84 L273.86 342.04 L274.56 342.24 L275.26 342.44 L275.97 342.63 L276.67 342.83 L277.37 343.02 L278.07 343.21 L278.78 343.40 L279.48 343.59 L280.18 343.77 L280.88 343.95 L281.58 344.14 L282.29 344.32 L282.99 344.50 L283.69 344.67 L284.39 344.84 L285.10 345.02" fill="none" stroke="#1439dd" stroke-width="1.45" stroke-dasharray="8.25 2.32 1.8 2.33"/>
</g>
<g clip-path="url(#c11)">
<path d="M311.75 300.09 L312.45 300.23 L313.15 300.37 L313.86 300.52 L314.56 300.66 L315.26 300.80 L315.96 300.94 L316.67 301.08 L317.37 301.23 L318.07 301.37 L318.77 301.51 L319.47 301.66 L320.18 301.81 L320.88 301.95 L321.58 302.10 L322.28 302.25 L322.99 302.39 L323.69 302.54 L324.39 302.69 L325.09 302.84 L325.79 302.99 L326.50 303.14 L327.20 303.29 L327.90 303.44 L328.60 303.59 L329.30 303.75 L330.01 303.90 L330.71 304.05 L331.41 304.21 L332.11 304.36 L332.82 304.52 L333.52 304.67 L334.22 304.83 L334.92 304.99 L335.62 305.14 L336.33 305.30 L337.03 305.46 L337.73 305.62 L338.43 305.78 L339.14 305.94 L339.84 306.10 L340.54 306.26 L341.24 306.42 L341.94 306.58 L342.65 306.75 L343.35 306.91 L344.05 307.07 L344.75 307.24 L345.45 307.40 L346.16 307.57 L346.86 307.74 L347.56 307.90 L348.26 308.07 L348.97 308.24 L349.67 308.40 L350.37 308.57 L351.07 308.74 L351.77 308.91 L352.48 309.08 L353.18 309.25 L353.88 309.43 L354.58 309.60 L355.29 309.77 L355.99 309.94 L356.69 310.12 L357.39 310.29 L358.09 310.47 L358.80 310.64 L359.50 310.82 L360.20 310.99 L360.90 311.17 L361.61 311.35 L362.31 311.52 L363.01 311.70 L363.71 311.88 L364.41 312.06 L365.12 312.24 L365.82 312.42 L366.52 312.60 L367.22 312.79 L367.93 312.97 L368.63 313.15 L369.33 313.33 L370.03 313.52 L370.73 313.70 L371.44 313.89 L372.14 314.07 L372.84 314.26 L373.54 314.45 L374.24 314.63 L374.95 314.82 L375.65 315.01 L376.35 315.20 L377.05 315.39 L377.76 315.58 L378.46 315.77 L379.16 315.96 L379.86 316.15 L380.56 316.34 L381.27 316.53 L381.97 316.73 L382.67 316.92 L383.37 317.11 L384.08 317.31 L384.78 317.50 L385.48 317.70 L386.18 317.90 L386.88 318.09 L387.59 318.29 L388.29 318.49 L388.99 318.69 L389.69 318.89 L390.39 319.09 L391.10 319.29 L391.80 319.49 L392.50 319.69 L393.20 319.89 L393.91 320.09 L394.61 320.30 L395.31 320.50 L396.01 320.70 L396.71 320.91 L397.42 321.11 L398.12 321.32 L398.82 321.52 L399.52 321.73 L400.23 321.94 L400.93 322.15 L401.63 322.35 L402.33 322.56 L403.03 322.77 L403.74 322.98 L404.44 323.19 L405.14 323.40 L405.84 323.61 L406.55 323.83 L407.25 324.04 L407.95 324.25 L408.65 324.47 L409.35 324.68 L410.06 324.90 L410.76 325.11 L411.46 325.33 L412.16 325.54 L412.87 325.76 L413.57 325.98 L414.27 326.20 L414.97 326.41 L415.67 326.63 L416.38 326.85 L417.08 327.07 L417.78 327.29 L418.48 327.52 L419.18 327.74 L419.89 327.96 L420.59 328.18 L421.29 328.41 L421.99 328.63 L422.70 328.86 L423.40 329.08 L424.10 329.31 L424.80 329.53 L425.50 329.76 L426.21 329.99 L426.91 330.21 L427.61 330.44 L428.31 330.67 L429.02 330.90 L429.72 331.13 L430.42 331.36 L431.12 331.59 L431.82 331.82 L432.53 332.06 L433.23 332.29 L433.93 332.52 L434.63 332.76 L435.34 332.99 L436.04 333.23 L436.74 333.46 L437.44 333.70 L438.14 333.93 L438.85 334.17 L439.55 334.41 L440.25 334.65 L440.95 334.89 L441.65 335.13 L442.36 335.37 L443.06 335.61 L443.76 335.85 L444.46 336.09 L445.17 336.33 L445.87 336.57 L446.57 336.82 L447.27 337.06 L447.97 337.30 L448.68 337.55 L449.38 337.79 L450.08 338.04 L450.78 338.29 L451.49 338.53 L452.19 338.78 L452.89 339.03 L453.59 339.28 L454.29 339.53 L455.00 339.78 L455.70 340.03 L456.40 340.28 L457.10 340.53 L457.81 340.78 L458.51 341.03 L459.21 341.29 L459.91 341.54 L460.61 341.79 L461.32 342.05 L462.02 342.30 L462.72 342.56 L463.42 342.81 L464.12 343.07 L464.83 343.33 L465.53 343.59 L466.23 343.85 L466.93 344.10 L467.64 344.36 L468.34 344.62 L469.04 344.88 L469.74 345.15 L470.44 345.41 L471.15 345.67 L471.85 345.93 L472.55 346.20 L473.25 346.46 L473.96 346.72 L474.66 346.99 L475.36 347.25 L476.06 347.52 L476.76 347.79 L477.47 348.05 L478.17 348.32 L478.87 348.59 L479.57 348.86 L480.27 349.13 L480.98 349.40 L481.68 349.67 L482.38 349.94 L483.08 350.21 L483.79 350.48 L484.49 350.76 L485.19 351.03 L485.89 351.30 L486.59 351.58 L487.30 351.85 L488.00 352.13 L488.70 352.40 L489.40 352.68 L490.11 352.96 L490.81 353.23 L491.51 353.51 L492.21 353.79 L492.91 354.07 L493.62 354.35 L494.32 354.63 L495.02 354.91 L495.72 355.19 L496.43 355.47 L497.13 355.76 L497.83 356.04 L498.53 356.32 L499.23 356.61 L499.94 356.89 L500.64 357.18 L501.34 357.46 L502.04 357.75 L502.75 358.04 L503.45 358.32 L504.15 358.61 L504.85 358.90 L505.55 359.19 L506.26 359.48 L506.96 359.77 L507.66 360.06 L508.36 360.35 L509.06 360.64 L509.77 360.94 L510.47 361.23 L511.17 361.52 L511.87 361.82 L512.58 362.11 L513.28 362.41 L513.98 362.70 L514.68 363.00 L515.38 363.29 L516.09 363.59 L516.79 363.89 L517.49 364.19 L518.19 364.49 L518.90 364.79 L519.60 365.09 L520.30 365.39 L521.00 365.69 L521.70 365.99 L522.41 366.29 L523.11 366.59 L523.81 366.90 L524.51 367.20 L525.22 367.51 L525.92 367.81 L526.62 368.12 L527.32 368.42 L528.02 368.73 L528.73 369.04 L529.43 369.34 L530.13 369.65 L530.83 369.96 L531.53 370.27 L532.24 370.58 L532.94 370.89 L533.64 371.20 L534.34 371.51 L535.05 371.83" fill="none" stroke="#0a0a0a" stroke-width="2.0"/>
<path d="M311.75 296.35 L312.45 296.49 L313.15 296.63 L313.86 296.77 L314.56 296.91 L315.26 297.06 L315.96 297.20 L316.67 297.34 L317.37 297.48 L318.07 297.63 L318.77 297.77 L319.47 297.92 L320.18 298.06 L320.88 298.21 L321.58 298.35 L322.28 298.50 L322.99 298.64 L323.69 298.79 L324.39 298.94 L325.09 299.08 L325.79 299.23 L326.50 299.38 L327.20 299.53 L327.90 299.67 L328.60 299.82 L329.30 299.97 L330.01 300.12 L330.71 300.27 L331.41 300.42 L332.11 300.57 L332.82 300.72 L333.52 300.88 L334.22 301.03 L334.92 301.18 L335.62 301.33 L336.33 301.49 L337.03 301.64 L337.73 301.79 L338.43 301.95 L339.14 302.10 L339.84 302.26 L340.54 302.41 L341.24 302.57 L341.94 302.72 L342.65 302.88 L343.35 303.04 L344.05 303.20 L344.75 303.35 L345.45 303.51 L346.16 303.67 L346.86 303.83 L347.56 303.99 L348.26 304.15 L348.97 304.31 L349.67 304.47 L350.37 304.63 L351.07 304.79 L351.77 304.96 L352.48 305.12 L353.18 305.28 L353.88 305.44 L354.58 305.61 L355.29 305.77 L355.99 305.94 L356.69 306.10 L357.39 306.27 L358.09 306.44 L358.80 306.60 L359.50 306.77 L360.20 306.94 L360.90 307.10 L361.61 307.27 L362.31 307.44 L363.01 307.61 L363.71 307.78 L364.41 307.95 L365.12 308.12 L365.82 308.29 L366.52 308.47 L367.22 308.64 L367.93 308.81 L368.63 308.99 L369.33 309.16 L370.03 309.33 L370.73 309.51 L371.44 309.69 L372.14 309.86 L372.84 310.04 L373.54 310.21 L374.24 310.39 L374.95 310.57 L375.65 310.75 L376.35 310.93 L377.05 311.11 L377.76 311.29 L378.46 311.47 L379.16 311.65 L379.86 311.83 L380.56 312.02 L381.27 312.20 L381.97 312.38 L382.67 312.57 L383.37 312.75 L384.08 312.94 L384.78 313.12 L385.48 313.31 L386.18 313.50 L386.88 313.68 L387.59 313.87 L388.29 314.06 L388.99 314.25 L389.69 314.44 L390.39 314.63 L391.10 314.82 L391.80 315.02 L392.50 315.21 L393.20 315.40 L393.91 315.60 L394.61 315.79 L395.31 315.98 L396.01 316.18 L396.71 316.38 L397.42 316.57 L398.12 316.77 L398.82 316.97 L399.52 317.17 L400.23 317.37 L400.93 317.57 L401.63 317.77 L402.33 317.97 L403.03 318.18 L403.74 318.38 L404.44 318.58 L405.14 318.79 L405.84 318.99 L406.55 319.20 L407.25 319.41 L407.95 319.61 L408.65 319.82 L409.35 320.03 L410.06 320.24 L410.76 320.45 L411.46 320.66 L412.16 320.87 L412.87 321.09 L413.57 321.30 L414.27 321.51 L414.97 321.73 L415.67 321.95 L416.38 322.16 L417.08 322.38 L417.78 322.60 L418.48 322.82 L419.18 323.04 L419.89 323.26 L420.59 323.48 L421.29 323.70 L421.99 323.93 L422.70 324.15 L423.40 324.38 L424.10 324.60 L424.80 324.83 L425.50 325.06 L426.21 325.29 L426.91 325.52 L427.61 325.75 L428.31 325.98 L429.02 326.21 L429.72 326.44 L430.42 326.68 L431.12 326.91 L431.82 327.15 L432.53 327.39 L433.23 327.63 L433.93 327.87 L434.63 328.11 L435.34 328.35 L436.04 328.59 L436.74 328.83 L437.44 329.08 L438.14 329.32 L438.85 329.57 L439.55 329.82 L440.25 330.07 L440.95 330.32 L441.65 330.57 L442.36 330.82 L443.06 331.07 L443.76 331.33 L444.46 331.58 L445.17 331.84 L445.87 332.10 L446.57 332.36 L447.27 332.62 L447.97 332.88 L448.68 333.14 L449.38 333.41 L450.08 333.67 L450.78 333.94 L451.49 334.21 L452.19 334.47 L452.89 334.75 L453.59 335.02 L454.29 335.29 L455.00 335.57 L455.70 335.84 L456.40 336.12 L457.10 336.40 L457.81 336.68 L458.51 336.96 L459.21 337.24 L459.91 337.53 L460.61 337.82 L461.32 338.10 L462.02 338.39 L462.72 338.68 L463.42 338.98 L464.12 339.27 L464.83 339.57 L465.53 339.86 L466.23 340.16 L466.93 340.47 L467.64 340.77 L468.34 341.07 L469.04 341.38 L469.74 341.69 L470.44 342.00 L471.15 342.31 L471.85 342.62 L472.55 342.94 L473.25 343.26 L473.96 343.58 L474.66 343.90 L475.36 344.22 L476.06 344.55 L476.76 344.88 L477.47 345.21 L478.17 345.54 L478.87 345.87 L479.57 346.21 L480.27 346.55 L480.98 346.89 L481.68 347.23 L482.38 347.58 L483.08 347.93 L483.79 348.28 L484.49 348.63 L485.19 348.99 L485.89 349.35 L486.59 349.71 L487.30 350.08 L488.00 350.44 L488.70 350.81 L489.40 351.19 L490.11 351.56 L490.81 351.94 L491.51 352.32 L492.21 352.71 L492.91 353.10 L493.62 353.49 L494.32 353.88 L495.02 354.28 L495.72 354.68 L496.43 355.09 L497.13 355.49 L497.83 355.91 L498.53 356.32 L499.23 356.74 L499.94 357.16 L500.64 357.59 L501.34 358.02 L502.04 358.46 L502.75 358.90 L503.45 359.34 L504.15 359.79 L504.85 360.24 L505.55 360.70 L506.26 361.16 L506.96 361.63 L507.66 362.10 L508.36 362.58 L509.06 363.06 L509.77 363.55 L510.47 364.04 L511.17 364.54 L511.87 365.04 L512.58 365.55 L513.28 366.07 L513.98 366.59 L514.68 367.12 L515.38 367.66 L516.09 368.20 L516.79 368.74 L517.49 369.30 L518.19 369.86 L518.90 370.43 L519.60 371.01 L520.30 371.59 L521.00 372.19 L521.70 372.79 L522.41 373.40 L523.11 374.02 L523.81 374.65 L524.51 375.28 L525.22 375.93 L525.92 376.59 L526.62 377.25 L527.32 377.93 L528.02 378.62 L528.73 379.32 L529.43 380.03 L530.13 380.75 L530.83 381.49 L531.53 382.24 L532.24 383.00 L532.94 383.78 L533.64 384.57 L534.34 385.37 L535.05 386.19 L535.75 387.03 L536.45 387.88" fill="none" stroke="#c8204c" stroke-width="1.6" stroke-dasharray="3.1 3.75"/>
<path d="M311.75 296.35 L312.45 296.49 L313.15 296.63 L313.86 296.78 L314.56 296.92 L315.26 297.06 L315.96 297.20 L316.67 297.34 L317.37 297.49 L318.07 297.63 L318.77 297.78 L319.47 297.92 L320.18 298.06 L320.88 298.21 L321.58 298.36 L322.28 298.50 L322.99 298.65 L323.69 298.79 L324.39 298.94 L325.09 299.09 L325.79 299.23 L326.50 299.38 L327.20 299.53 L327.90 299.68 L328.60 299.83 L329.30 299.98 L330.01 300.13 L330.71 300.28 L331.41 300.43 L332.11 300.58 L332.82 300.73 L333.52 300.88 L334.22 301.03 L334.92 301.19 L335.62 301.34 L336.33 301.49 L337.03 301.65 L337.73 301.80 L338.43 301.96 L339.14 302.11 L339.84 302.27 L340.54 302.42 L341.24 302.58 L341.94 302.73 L342.65 302.89 L343.35 303.05 L344.05 303.21 L344.75 303.36 L345.45 303.52 L346.16 303.68 L346.86 303.84 L347.56 304.00 L348.26 304.16 L348.97 304.32 L349.67 304.48 L350.37 304.65 L351.07 304.81 L351.77 304.97 L352.48 305.13 L353.18 305.30 L353.88 305.46 L354.58 305.63 L355.29 305.79 L355.99 305.96 L356.69 306.12 L357.39 306.29 L358.09 306.45 L358.80 306.62 L359.50 306.79 L360.20 306.96 L360.90 307.13 L361.61 307.30 L362.31 307.47 L363.01 307.64 L363.71 307.81 L364.41 307.98 L365.12 308.15 L365.82 308.32 L366.52 308.49 L367.22 308.67 L367.93 308.84 L368.63 309.02 L369.33 309.19 L370.03 309.37 L370.73 309.54 L371.44 309.72 L372.14 309.90 L372.84 310.07 L373.54 310.25 L374.24 310.43 L374.95 310.61 L375.65 310.79 L376.35 310.97 L377.05 311.15 L377.76 311.33 L378.46 311.52 L379.16 311.70 L379.86 311.88 L380.56 312.07 L381.27 312.25 L381.97 312.43 L382.67 312.62 L383.37 312.81 L384.08 312.99 L384.78 313.18 L385.48 313.37 L386.18 313.56 L386.88 313.75 L387.59 313.94 L388.29 314.13 L388.99 314.32 L389.69 314.51 L390.39 314.71 L391.10 314.90 L391.80 315.09 L392.50 315.29 L393.20 315.48 L393.91 315.68 L394.61 315.88 L395.31 316.08 L396.01 316.27 L396.71 316.47 L397.42 316.67 L398.12 316.87 L398.82 317.08 L399.52 317.28 L400.23 317.48 L400.93 317.68 L401.63 317.89 L402.33 318.09 L403.03 318.30 L403.74 318.51 L404.44 318.72 L405.14 318.92 L405.84 319.13 L406.55 319.34 L407.25 319.55 L407.95 319.77 L408.65 319.98 L409.35 320.19 L410.06 320.41 L410.76 320.62 L411.46 320.84 L412.16 321.06 L412.87 321.27 L413.57 321.49 L414.27 321.71 L414.97 321.93 L415.67 322.16 L416.38 322.38 L417.08 322.60 L417.78 322.83 L418.48 323.05 L419.18 323.28 L419.89 323.51 L420.59 323.74 L421.29 323.97 L421.99 324.20 L422.70 324.43 L423.40 324.67 L424.10 324.90 L424.80 325.14 L425.50 325.37 L426.21 325.61 L426.91 325.85 L427.61 326.09 L428.31 326.33 L429.02 326.58 L429.72 326.82 L430.42 327.06 L431.12 327.31 L431.82 327.56 L432.53 327.81 L433.23 328.06 L433.93 328.31 L434.63 328.57 L435.34 328.82 L436.04 329.08 L436.74 329.33 L437.44 329.59 L438.14 329.85 L438.85 330.12 L439.55 330.38 L440.25 330.65 L440.95 330.91 L441.65 331.18 L442.36 331.45 L443.06 331.72 L443.76 332.00 L444.46 332.27 L445.17 332.55 L445.87 332.83 L446.57 333.11 L447.27 333.39 L447.97 333.68 L448.68 333.96 L449.38 334.25 L450.08 334.54 L450.78 334.84 L451.49 335.13 L452.19 335.43 L452.89 335.73 L453.59 336.03 L454.29 336.33 L455.00 336.64 L455.70 336.94 L456.40 337.25 L457.10 337.57 L457.81 337.88 L458.51 338.20 L459.21 338.52 L459.91 338.84 L460.61 339.17 L461.32 339.50 L462.02 339.83 L462.72 340.16 L463.42 340.50 L464.12 340.84 L464.83 341.18 L465.53 341.53 L466.23 341.88 L466.93 342.23 L467.64 342.59 L468.34 342.95 L469.04 343.31 L469.74 343.68 L470.44 344.05 L471.15 344.42 L471.85 344.80 L472.55 345.18 L473.25 345.57 L473.96 345.96 L474.66 346.35 L475.36 346.75 L476.06 347.15 L476.76 347.56 L477.47 347.97 L478.17 348.39 L478.87 348.81 L479.57 349.24 L480.27 349.67 L480.98 350.11 L481.68 350.56 L482.38 351.00 L483.08 351.46 L483.79 351.92 L484.49 352.39 L485.19 352.86 L485.89 353.34 L486.59 353.83 L487.30 354.32 L488.00 354.82 L488.70 355.33 L489.40 355.85 L490.11 356.37 L490.81 356.90 L491.51 357.44 L492.21 357.99 L492.91 358.55 L493.62 359.12 L494.32 359.69 L495.02 360.28 L495.72 360.88 L496.43 361.48 L497.13 362.10 L497.83 362.73 L498.53 363.37 L499.23 364.03 L499.94 364.69 L500.64 365.37 L501.34 366.07 L502.04 366.77 L502.75 367.49 L503.45 368.23 L504.15 368.99 L504.85 369.76 L505.55 370.54 L506.26 371.35 L506.96 372.17 L507.66 373.02 L508.36 373.89 L509.06 374.77 L509.77 375.68 L510.47 376.62 L511.17 377.58 L511.87 378.57 L512.58 379.58 L513.28 380.63 L513.98 381.71 L514.68 382.82 L515.38 383.97 L516.09 385.15 L516.79 386.38 L517.49 387.65 L518.19 388.96 L518.90 390.32 L519.60 391.74 L520.30 393.22 L521.00 394.76 L521.70 396.37 L522.41 398.05 L523.11 399.81 L523.81 401.67 L524.51 403.62 L525.22 405.68 L525.92 407.87 L526.62 410.21 L527.32 412.70 L528.02 415.38 L528.73 418.28 L529.43 421.44 L530.13 424.91 L530.83 428.76" fill="none" stroke="#5a5a5a" stroke-width="1.4" stroke-dasharray="8.2 2.6 1.5 2.6 1.5 2.6" stroke-dashoffset="14.85"/>
<path d="M311.75 299.47 L312.45 299.62 L313.15 299.76 L313.86 299.91 L314.56 300.06 L315.26 300.21 L315.96 300.36 L316.67 300.51 L317.37 300.66 L318.07 300.81 L318.77 300.96 L319.47 301.11 L320.18 301.26 L320.88 301.42 L321.58 301.57 L322.28 301.72 L322.99 301.87 L323.69 302.03 L324.39 302.18 L325.09 302.33 L325.79 302.49 L326.50 302.64 L327.20 302.80 L327.90 302.95 L328.60 303.11 L329.30 303.27 L330.01 303.43 L330.71 303.58 L331.41 303.74 L332.11 303.90 L332.82 304.06 L333.52 304.22 L334.22 304.37 L334.92 304.53 L335.62 304.69 L336.33 304.85 L337.03 305.02 L337.73 305.18 L338.43 305.34 L339.14 305.50 L339.84 305.66 L340.54 305.83 L341.24 305.99 L341.94 306.15 L342.65 306.32 L343.35 306.48 L344.05 306.65 L344.75 306.81 L345.45 306.98 L346.16 307.15 L346.86 307.31 L347.56 307.48 L348.26 307.65 L348.97 307.82 L349.67 307.99 L350.37 308.16 L351.07 308.32 L351.77 308.49 L352.48 308.67 L353.18 308.84 L353.88 309.01 L354.58 309.18 L355.29 309.35 L355.99 309.52 L356.69 309.70 L357.39 309.87 L358.09 310.05 L358.80 310.22 L359.50 310.40 L360.20 310.57 L360.90 310.75 L361.61 310.92 L362.31 311.10 L363.01 311.28 L363.71 311.46 L364.41 311.64 L365.12 311.81 L365.82 311.99 L366.52 312.17 L367.22 312.35 L367.93 312.53 L368.63 312.72 L369.33 312.90 L370.03 313.08 L370.73 313.26 L371.44 313.45 L372.14 313.63 L372.84 313.82 L373.54 314.00 L374.24 314.18 L374.95 314.37 L375.65 314.56 L376.35 314.74 L377.05 314.93 L377.76 315.12 L378.46 315.31 L379.16 315.50 L379.86 315.69 L380.56 315.88 L381.27 316.07 L381.97 316.26 L382.67 316.45 L383.37 316.64 L384.08 316.83 L384.78 317.03 L385.48 317.22 L386.18 317.41 L386.88 317.61 L387.59 317.80 L388.29 318.00 L388.99 318.19 L389.69 318.39 L390.39 318.58 L391.10 318.78 L391.80 318.98 L392.50 319.18 L393.20 319.38 L393.91 319.58 L394.61 319.78 L395.31 319.98 L396.01 320.18 L396.71 320.38 L397.42 320.58 L398.12 320.78 L398.82 320.99 L399.52 321.19 L400.23 321.40 L400.93 321.60 L401.63 321.80 L402.33 322.01 L403.03 322.22 L403.74 322.42 L404.44 322.63 L405.14 322.84 L405.84 323.04 L406.55 323.25 L407.25 323.46 L407.95 323.67 L408.65 323.88 L409.35 324.09 L410.06 324.30 L410.76 324.51 L411.46 324.72 L412.16 324.94 L412.87 325.15 L413.57 325.36 L414.27 325.57 L414.97 325.79 L415.67 326.00 L416.38 326.22 L417.08 326.43 L417.78 326.64 L418.48 326.86 L419.18 327.08 L419.89 327.29 L420.59 327.51 L421.29 327.73 L421.99 327.94 L422.70 328.16 L423.40 328.38 L424.10 328.60 L424.80 328.82 L425.50 329.03 L426.21 329.25 L426.91 329.47 L427.61 329.69 L428.31 329.91 L429.02 330.13 L429.72 330.35 L430.42 330.57 L431.12 330.79 L431.82 331.02 L432.53 331.24 L433.23 331.46 L433.93 331.68 L434.63 331.90 L435.34 332.12 L436.04 332.34 L436.74 332.57 L437.44 332.79 L438.14 333.01 L438.85 333.23 L439.55 333.45 L440.25 333.68 L440.95 333.90 L441.65 334.12 L442.36 334.34 L443.06 334.56 L443.76 334.78 L444.46 335.01 L445.17 335.23 L445.87 335.45 L446.57 335.67 L447.27 335.89 L447.97 336.11 L448.68 336.33 L449.38 336.55 L450.08 336.77 L450.78 336.99 L451.49 337.21 L452.19 337.43 L452.89 337.64 L453.59 337.86 L454.29 338.08 L455.00 338.29 L455.70 338.51 L456.40 338.72 L457.10 338.94 L457.81 339.15 L458.51 339.36 L459.21 339.57 L459.91 339.79 L460.61 340.00 L461.32 340.21 L462.02 340.41 L462.72 340.62 L463.42 340.83 L464.12 341.04 L464.83 341.24 L465.53 341.44 L466.23 341.64 L466.93 341.84 L467.64 342.04 L468.34 342.24 L469.04 342.44 L469.74 342.63 L470.44 342.83 L471.15 343.02 L471.85 343.21 L472.55 343.40 L473.25 343.59 L473.96 343.77 L474.66 343.95 L475.36 344.14 L476.06 344.32 L476.76 344.50 L477.47 344.67 L478.17 344.84 L478.87 345.02 L479.57 345.19 L480.27 345.36 L480.98 345.52 L481.68 345.68 L482.38 345.84 L483.08 346.00 L483.79 346.16 L484.49 346.31 L485.19 346.45 L485.89 346.60 L486.59 346.74 L487.30 346.89 L488.00 347.03 L488.70 347.16 L489.40 347.29 L490.11 347.41 L490.81 347.54 L491.51 347.67 L492.21 347.79 L492.91 347.90 L493.62 348.00 L494.32 348.11 L495.02 348.22 L495.72 348.33 L496.43 348.42 L497.13 348.50 L497.83 348.59 L498.53 348.68 L499.23 348.76 L499.94 348.84 L500.64 348.90 L501.34 348.96 L502.04 349.03 L502.75 349.09 L503.45 349.15 L504.15 349.19 L504.85 349.23 L505.55 349.26 L506.26 349.30 L506.96 349.34 L507.66 349.36 L508.36 349.37 L509.06 349.38 L509.77 349.39 L510.47 349.39 L511.17 349.40 L511.87 349.38 L512.58 349.36 L513.28 349.34 L513.98 349.31 L514.68 349.29 L515.38 349.26 L516.09 349.20 L516.79 349.14 L517.49 349.09 L518.19 349.03 L518.90 348.97 L519.60 348.89 L520.30 348.80 L521.00 348.71 L521.70 348.62 L522.41 348.52 L523.11 348.43 L523.81 348.30 L524.51 348.17 L525.22 348.04 L525.92 347.91 L526.62 347.78 L527.32 347.63 L528.02 347.46 L528.73 347.29 L529.43 347.12 L530.13 346.95 L530.83 346.78 L531.53 346.58 L532.24 346.37 L532.94 346.16 L533.64 345.95 L534.34 345.74 L535.05 345.51" fill="none" stroke="#1439dd" stroke-width="1.45" stroke-dasharray="8.25 2.32 1.8 2.33"/>
</g>
<g clip-path="url(#c12)">
<path d="M722.55 425.38 L723.25 424.23 L723.96 423.08 L724.66 421.93 L725.36 420.78 L726.06 419.64 L726.76 418.49 L727.47 417.34 L728.17 416.19 L728.87 415.04 L729.57 413.89 L730.27 412.74 L730.98 411.59 L731.68 410.44 L732.38 409.29 L733.08 408.14 L733.79 406.99 L734.49 405.84 L735.19 404.69 L735.89 403.54 L736.59 402.39 L737.30 401.24 L738.00 400.09 L738.70 398.94 L739.40 397.79 L740.11 396.64 L740.81 395.49 L741.51 394.34 L742.21 393.19 L742.91 392.04 L743.62 390.89 L744.32 389.74 L745.02 388.59 L745.72 387.44 L746.43 386.29 L747.13 385.14 L747.83 383.99 L748.53 382.84 L749.23 381.69 L749.94 380.54 L750.64 379.39 L751.34 378.24 L752.04 377.10 L752.75 375.95 L753.45 374.80 L754.15 373.65 L754.85 372.50 L755.55 371.35 L756.26 370.20 L756.96 369.05 L757.66 367.90 L758.36 366.75 L759.06 365.60 L759.77 364.45 L760.47 363.30 L761.17 362.15 L761.87 361.00 L762.58 359.85 L763.28 358.70 L763.98 357.55 L764.68 356.40 L765.38 355.25 L766.09 354.10 L766.79 352.95 L767.49 351.80 L768.19 350.65 L768.90 349.50 L769.60 348.35 L770.30 347.20 L771.00 346.05 L771.70 344.90 L772.41 343.75 L773.11 342.60 L773.81 341.45 L774.51 340.30 L775.22 339.15 L775.92 338.00 L776.62 336.85 L777.32 335.70 L778.02 334.56 L778.73 333.41 L779.43 332.26 L780.13 331.11 L780.83 329.96 L781.53 328.81 L782.24 327.66 L782.94 326.51 L783.64 325.36 L784.34 324.21 L785.05 323.06 L785.75 321.91 L786.45 320.76" fill="none" stroke="#1439dd" stroke-width="1.35" stroke-dasharray="5.4 2.7"/>
<path d="M561.75 312.39 L562.45 312.57 L563.15 312.75 L563.86 312.94 L564.56 313.13 L565.26 313.31 L565.96 313.50 L566.67 313.69 L567.37 313.87 L568.07 314.06 L568.77 314.25 L569.47 314.44 L570.18 314.63 L570.88 314.82 L571.58 315.02 L572.28 315.21 L572.99 315.40 L573.69 315.59 L574.39 315.79 L575.09 315.98 L575.79 316.18 L576.50 316.38 L577.20 316.57 L577.90 316.77 L578.60 316.97 L579.30 317.17 L580.01 317.37 L580.71 317.57 L581.41 317.77 L582.11 317.97 L582.82 318.17 L583.52 318.37 L584.22 318.58 L584.92 318.78 L585.62 318.99 L586.33 319.19 L587.03 319.40 L587.73 319.60 L588.43 319.81 L589.14 320.02 L589.84 320.23 L590.54 320.44 L591.24 320.65 L591.94 320.86 L592.65 321.07 L593.35 321.29 L594.05 321.50 L594.75 321.71 L595.46 321.93 L596.16 322.15 L596.86 322.36 L597.56 322.58 L598.26 322.80 L598.97 323.02 L599.67 323.24 L600.37 323.46 L601.07 323.68 L601.77 323.90 L602.48 324.12 L603.18 324.35 L603.88 324.57 L604.58 324.80 L605.29 325.03 L605.99 325.25 L606.69 325.48 L607.39 325.71 L608.09 325.94 L608.80 326.17 L609.50 326.40 L610.20 326.64 L610.90 326.87 L611.61 327.10 L612.31 327.34 L613.01 327.57 L613.71 327.81 L614.41 328.05 L615.12 328.29 L615.82 328.53 L616.52 328.77 L617.22 329.01 L617.92 329.26 L618.63 329.50 L619.33 329.75 L620.03 329.99 L620.73 330.24 L621.44 330.49 L622.14 330.74 L622.84 330.99 L623.54 331.24 L624.24 331.49 L624.95 331.74 L625.65 332.00 L626.35 332.25 L627.05 332.51 L627.76 332.77 L628.46 333.03 L629.16 333.29 L629.86 333.55 L630.56 333.81 L631.27 334.07 L631.97 334.34 L632.67 334.60 L633.37 334.87 L634.08 335.14 L634.78 335.41 L635.48 335.68 L636.18 335.95 L636.88 336.22 L637.59 336.50 L638.29 336.77 L638.99 337.05 L639.69 337.33 L640.39 337.61 L641.10 337.89 L641.80 338.17 L642.50 338.45 L643.20 338.74 L643.91 339.02 L644.61 339.31 L645.31 339.60 L646.01 339.89 L646.71 340.18 L647.42 340.47 L648.12 340.77 L648.82 341.06 L649.52 341.36 L650.23 341.66 L650.93 341.96 L651.63 342.26 L652.33 342.56 L653.03 342.87 L653.74 343.18 L654.44 343.48 L655.14 343.79 L655.84 344.10 L656.55 344.42 L657.25 344.73 L657.95 345.05 L658.65 345.37 L659.35 345.69 L660.06 346.01 L660.76 346.33 L661.46 346.65 L662.16 346.98 L662.87 347.31 L663.57 347.64 L664.27 347.97 L664.97 348.31 L665.67 348.64 L666.38 348.98 L667.08 349.32 L667.78 349.66 L668.48 350.00 L669.18 350.35 L669.89 350.70 L670.59 351.04 L671.29 351.40 L671.99 351.75 L672.70 352.11 L673.40 352.46 L674.10 352.82 L674.80 353.18 L675.50 353.55 L676.21 353.92 L676.91 354.28 L677.61 354.66 L678.31 355.03 L679.02 355.40 L679.72 355.78 L680.42 356.16 L681.12 356.55 L681.82 356.93 L682.53 357.32 L683.23 357.71 L683.93 358.10 L684.63 358.50 L685.34 358.90 L686.04 359.30 L686.74 359.70 L687.44 360.11 L688.14 360.51 L688.85 360.93 L689.55 361.34 L690.25 361.76 L690.95 362.18 L691.65 362.60 L692.36 363.03 L693.06 363.46 L693.76 363.89 L694.46 364.33 L695.17 364.77 L695.87 365.21 L696.57 365.65 L697.27 366.10 L697.97 366.55 L698.68 367.01 L699.38 367.47 L700.08 367.93 L700.78 368.40 L701.49 368.87 L702.19 369.34 L702.89 369.82 L703.59 370.30 L704.29 370.78 L705.00 371.27 L705.70 371.77 L706.40 372.26 L707.10 372.77 L707.81 373.27 L708.51 373.78 L709.21 374.29 L709.91 374.81 L710.61 375.34 L711.32 375.86 L712.02 376.40 L712.72 376.93 L713.42 377.48 L714.12 378.02 L714.83 378.58 L715.53 379.13 L716.23 379.70 L716.93 380.26 L717.64 380.84 L718.34 381.42 L719.04 382.00 L719.74 382.59 L720.44 383.19 L721.15 383.79 L721.85 384.40 L722.55 385.01 L723.25 385.63 L723.96 386.26 L724.66 386.89 L725.36 387.53 L726.06 388.18 L726.76 388.84 L727.47 389.50 L728.17 390.17 L728.87 390.84 L729.57 391.53 L730.27 392.22 L730.98 392.92 L731.68 393.63 L732.38 394.35 L733.08 395.08 L733.79 395.81 L734.49 396.55 L735.19 397.31 L735.89 398.07 L736.59 398.84 L737.30 399.63 L738.00 400.42 L738.70 401.23 L739.40 402.04 L740.11 402.87 L740.81 403.70 L741.51 404.55 L742.21 405.42 L742.91 406.29 L743.62 407.18 L744.32 408.08 L745.02 408.99 L745.72 409.92 L746.43 410.87 L747.13 411.82 L747.83 412.80 L748.53 413.79 L749.23 414.79 L749.94 415.82 L750.64 416.86 L751.34 417.92 L752.04 419.00 L752.75 420.10 L753.45 421.22 L754.15 422.36 L754.85 423.52 L755.55 424.71 L756.26 425.92" fill="none" stroke="#1439dd" stroke-width="1.4" stroke-dasharray="1.7 1.65"/>
<path d="M561.75 312.57 L562.45 312.75 L563.15 312.93 L563.86 313.12 L564.56 313.30 L565.26 313.48 L565.96 313.67 L566.67 313.85 L567.37 314.04 L568.07 314.22 L568.77 314.41 L569.47 314.60 L570.18 314.79 L570.88 314.97 L571.58 315.16 L572.28 315.35 L572.99 315.54 L573.69 315.73 L574.39 315.92 L575.09 316.11 L575.79 316.30 L576.50 316.49 L577.20 316.69 L577.90 316.88 L578.60 317.08 L579.30 317.27 L580.01 317.46 L580.71 317.66 L581.41 317.86 L582.11 318.05 L582.82 318.25 L583.52 318.45 L584.22 318.64 L584.92 318.84 L585.62 319.04 L586.33 319.24 L587.03 319.44 L587.73 319.64 L588.43 319.84 L589.14 320.04 L589.84 320.25 L590.54 320.45 L591.24 320.65 L591.94 320.85 L592.65 321.06 L593.35 321.26 L594.05 321.47 L594.75 321.68 L595.46 321.88 L596.16 322.09 L596.86 322.30 L597.56 322.50 L598.26 322.71 L598.97 322.92 L599.67 323.13 L600.37 323.34 L601.07 323.55 L601.77 323.76 L602.48 323.97 L603.18 324.18 L603.88 324.39 L604.58 324.61 L605.29 324.82 L605.99 325.03 L606.69 325.25 L607.39 325.46 L608.09 325.68 L608.80 325.89 L609.50 326.11 L610.20 326.33 L610.90 326.54 L611.61 326.76 L612.31 326.98 L613.01 327.19 L613.71 327.41 L614.41 327.63 L615.12 327.85 L615.82 328.07 L616.52 328.29 L617.22 328.51 L617.92 328.73 L618.63 328.95 L619.33 329.17 L620.03 329.39 L620.73 329.62 L621.44 329.84 L622.14 330.06 L622.84 330.28 L623.54 330.51 L624.24 330.73 L624.95 330.95 L625.65 331.18 L626.35 331.40 L627.05 331.62 L627.76 331.85 L628.46 332.07 L629.16 332.30 L629.86 332.52 L630.56 332.75 L631.27 332.97 L631.97 333.20 L632.67 333.42 L633.37 333.65 L634.08 333.87 L634.78 334.10 L635.48 334.32 L636.18 334.55 L636.88 334.77 L637.59 335.00 L638.29 335.23 L638.99 335.45 L639.69 335.68 L640.39 335.90 L641.10 336.12 L641.80 336.35 L642.50 336.57 L643.20 336.80 L643.91 337.02 L644.61 337.24 L645.31 337.47 L646.01 337.69 L646.71 337.91 L647.42 338.13 L648.12 338.36 L648.82 338.58 L649.52 338.80 L650.23 339.02 L650.93 339.24 L651.63 339.46 L652.33 339.67 L653.03 339.89 L653.74 340.11 L654.44 340.33 L655.14 340.54 L655.84 340.75 L656.55 340.97 L657.25 341.18 L657.95 341.39 L658.65 341.60 L659.35 341.81 L660.06 342.02 L660.76 342.23 L661.46 342.43 L662.16 342.64 L662.87 342.84 L663.57 343.04 L664.27 343.24 L664.97 343.44 L665.67 343.64 L666.38 343.84 L667.08 344.03 L667.78 344.23 L668.48 344.42 L669.18 344.61 L669.89 344.80 L670.59 344.99 L671.29 345.17 L671.99 345.35 L672.70 345.53 L673.40 345.71 L674.10 345.89 L674.80 346.06 L675.50 346.23 L676.21 346.40 L676.91 346.57 L677.61 346.74 L678.31 346.90 L679.02 347.05 L679.72 347.21 L680.42 347.36 L681.12 347.52 L681.82 347.67 L682.53 347.81 L683.23 347.95 L683.93 348.09 L684.63 348.23 L685.34 348.37 L686.04 348.50 L686.74 348.62 L687.44 348.74 L688.14 348.86 L688.85 348.99 L689.55 349.11 L690.25 349.21 L690.95 349.31 L691.65 349.41 L692.36 349.51 L693.06 349.61 L693.76 349.70 L694.46 349.78 L695.17 349.86 L695.87 349.94 L696.57 350.02 L697.27 350.10 L697.97 350.15 L698.68 350.20 L699.38 350.26 L700.08 350.31 L700.78 350.37 L701.49 350.41 L702.19 350.44 L702.89 350.46 L703.59 350.49 L704.29 350.52 L705.00 350.54 L705.70 350.55 L706.40 350.54 L707.10 350.54 L707.81 350.54 L708.51 350.54 L709.21 350.53 L709.91 350.49 L710.61 350.46 L711.32 350.42 L712.02 350.39 L712.72 350.36 L713.42 350.30 L714.12 350.23 L714.83 350.17 L715.53 350.10 L716.23 350.04 L716.93 349.96 L717.64 349.86 L718.34 349.76 L719.04 349.66 L719.74 349.56 L720.44 349.46 L721.15 349.34 L721.85 349.20 L722.55 349.06 L723.25 348.92 L723.96 348.79 L724.66 348.65 L725.36 348.47 L726.06 348.30 L726.76 348.12 L727.47 347.95 L728.17 347.78 L728.87 347.58 L729.57 347.37 L730.27 347.16 L730.98 346.94 L731.68 346.73 L732.38 346.52 L733.08 346.27 L733.79 346.02 L734.49 345.77 L735.19 345.52 L735.89 345.27 L736.59 345.00 L737.30 344.71 L738.00 344.42 L738.70 344.13 L739.40 343.85 L740.11 343.56 L740.81 343.24 L741.51 342.91 L742.21 342.58 L742.91 342.25 L743.62 341.92 L744.32 341.59 L745.02 341.22 L745.72 340.85 L746.43 340.49 L747.13 340.12 L747.83 339.76 L748.53 339.37 L749.23 338.96 L749.94 338.56 L750.64 338.16 L751.34 337.76 L752.04 337.35 L752.75 336.91 L753.45 336.47 L754.15 336.03 L754.85 335.60 L755.55 335.16 L756.26 334.70 L756.96 334.23 L757.66 333.76 L758.36 333.29 L759.06 332.82 L759.77 332.35 L760.47 331.84 L761.17 331.33 L761.87 330.83 L762.58 330.33 L763.28 329.83 L763.98 329.31 L764.68 328.77 L765.38 328.24 L766.09 327.71 L766.79 327.18 L767.49 326.65 L768.19 326.09 L768.90 325.52 L769.60 324.96 L770.30 324.40 L771.00 323.85 L771.70 323.28 L772.41 322.69 L773.11 322.11 L773.81 321.52 L774.51 320.94 L775.22 320.36 L775.92 319.76 L776.62 319.15 L777.32 318.54 L778.02 317.94 L778.73 317.34 L779.43 316.73 L780.13 316.10 L780.83 315.48 L781.53 314.86 L782.24 314.24 L782.94 313.62 L783.64 312.98 L784.34 312.34 L785.05 311.71" fill="none" stroke="#0a0a0a" stroke-width="2.0"/>
<path d="M561.75 296.35 L562.45 296.49 L563.15 296.63 L563.86 296.77 L564.56 296.91 L565.26 297.06 L565.96 297.20 L566.67 297.34 L567.37 297.48 L568.07 297.63 L568.77 297.77 L569.47 297.92 L570.18 298.06 L570.88 298.21 L571.58 298.35 L572.28 298.50 L572.99 298.64 L573.69 298.79 L574.39 298.94 L575.09 299.08 L575.79 299.23 L576.50 299.38 L577.20 299.53 L577.90 299.67 L578.60 299.82 L579.30 299.97 L580.01 300.12 L580.71 300.27 L581.41 300.42 L582.11 300.57 L582.82 300.72 L583.52 300.88 L584.22 301.03 L584.92 301.18 L585.62 301.33 L586.33 301.49 L587.03 301.64 L587.73 301.79 L588.43 301.95 L589.14 302.10 L589.84 302.26 L590.54 302.41 L591.24 302.57 L591.94 302.72 L592.65 302.88 L593.35 303.04 L594.05 303.19 L594.75 303.35 L595.46 303.51 L596.16 303.67 L596.86 303.83 L597.56 303.99 L598.26 304.15 L598.97 304.31 L599.67 304.47 L600.37 304.63 L601.07 304.79 L601.77 304.96 L602.48 305.12 L603.18 305.28 L603.88 305.44 L604.58 305.61 L605.29 305.77 L605.99 305.94 L606.69 306.10 L607.39 306.27 L608.09 306.43 L608.80 306.60 L609.50 306.77 L610.20 306.94 L610.90 307.10 L611.61 307.27 L612.31 307.44 L613.01 307.61 L613.71 307.78 L614.41 307.95 L615.12 308.12 L615.82 308.29 L616.52 308.47 L617.22 308.64 L617.92 308.81 L618.63 308.99 L619.33 309.16 L620.03 309.33 L620.73 309.51 L621.44 309.68 L622.14 309.86 L622.84 310.04 L623.54 310.21 L624.24 310.39 L624.95 310.57 L625.65 310.75 L626.35 310.93 L627.05 311.11 L627.76 311.29 L628.46 311.47 L629.16 311.65 L629.86 311.83 L630.56 312.01 L631.27 312.20 L631.97 312.38 L632.67 312.57 L633.37 312.75 L634.08 312.94 L634.78 313.12 L635.48 313.31 L636.18 313.50 L636.88 313.68 L637.59 313.87 L638.29 314.06 L638.99 314.25 L639.69 314.44 L640.39 314.63 L641.10 314.82 L641.80 315.01 L642.50 315.21 L643.20 315.40 L643.91 315.59 L644.61 315.79 L645.31 315.98 L646.01 316.18 L646.71 316.38 L647.42 316.57 L648.12 316.77 L648.82 316.97 L649.52 317.17 L650.23 317.37 L650.93 317.57 L651.63 317.77 L652.33 317.97 L653.03 318.17 L653.74 318.38 L654.44 318.58 L655.14 318.79 L655.84 318.99 L656.55 319.20 L657.25 319.40 L657.95 319.61 L658.65 319.82 L659.35 320.03 L660.06 320.24 L660.76 320.45 L661.46 320.66 L662.16 320.87 L662.87 321.08 L663.57 321.30 L664.27 321.51 L664.97 321.73 L665.67 321.94 L666.38 322.16 L667.08 322.38 L667.78 322.60 L668.48 322.82 L669.18 323.04 L669.89 323.26 L670.59 323.48 L671.29 323.70 L671.99 323.92 L672.70 324.15 L673.40 324.37 L674.10 324.60 L674.80 324.83 L675.50 325.05 L676.21 325.28 L676.91 325.51 L677.61 325.74 L678.31 325.97 L679.02 326.21 L679.72 326.44 L680.42 326.67 L681.12 326.91 L681.82 327.15 L682.53 327.38 L683.23 327.62 L683.93 327.86 L684.63 328.10 L685.34 328.34 L686.04 328.58 L686.74 328.83 L687.44 329.07 L688.14 329.32 L688.85 329.56 L689.55 329.81 L690.25 330.06 L690.95 330.31 L691.65 330.56 L692.36 330.81 L693.06 331.06 L693.76 331.32 L694.46 331.57 L695.17 331.83 L695.87 332.09 L696.57 332.35 L697.27 332.61 L697.97 332.87 L698.68 333.13 L699.38 333.40 L700.08 333.66 L700.78 333.93 L701.49 334.19 L702.19 334.46 L702.89 334.73 L703.59 335.01 L704.29 335.28 L705.00 335.55 L705.70 335.83 L706.40 336.11 L707.10 336.39 L707.81 336.67 L708.51 336.95 L709.21 337.23 L709.91 337.51 L710.61 337.80 L711.32 338.09 L712.02 338.38 L712.72 338.67 L713.42 338.96 L714.12 339.25 L714.83 339.55 L715.53 339.85 L716.23 340.15 L716.93 340.45 L717.64 340.75 L718.34 341.05 L719.04 341.36 L719.74 341.67 L720.44 341.98 L721.15 342.29 L721.85 342.60 L722.55 342.92 L723.25 343.23 L723.96 343.55 L724.66 343.87 L725.36 344.20 L726.06 344.52 L726.76 344.85 L727.47 345.18 L728.17 345.51 L728.87 345.84 L729.57 346.18 L730.27 346.52 L730.98 346.86 L731.68 347.20 L732.38 347.55 L733.08 347.89 L733.79 348.24 L734.49 348.60 L735.19 348.95 L735.89 349.31 L736.59 349.67 L737.30 350.03 L738.00 350.40 L738.70 350.77 L739.40 351.14 L740.11 351.52 L740.81 351.89 L741.51 352.27 L742.21 352.66 L742.91 353.04 L743.62 353.43 L744.32 353.83 L745.02 354.22 L745.72 354.62 L746.43 355.03 L747.13 355.43 L747.83 355.85 L748.53 356.26 L749.23 356.68 L749.94 357.10 L750.64 357.53 L751.34 357.96 L752.04 358.39 L752.75 358.83 L753.45 359.27 L754.15 359.72 L754.85 360.17 L755.55 360.62 L756.26 361.09 L756.96 361.55 L757.66 362.02 L758.36 362.50 L759.06 362.98 L759.77 363.46 L760.47 363.95 L761.17 364.45 L761.87 364.95 L762.58 365.46 L763.28 365.98 L763.98 366.50 L764.68 367.03 L765.38 367.56 L766.09 368.10 L766.79 368.65 L767.49 369.20 L768.19 369.76 L768.90 370.33 L769.60 370.91 L770.30 371.49 L771.00 372.08 L771.70 372.68 L772.41 373.29 L773.11 373.91 L773.81 374.54 L774.51 375.17 L775.22 375.82 L775.92 376.48 L776.62 377.14 L777.32 377.82 L778.02 378.51 L778.73 379.21 L779.43 379.92 L780.13 380.64 L780.83 381.38 L781.53 382.13 L782.24 382.89 L782.94 383.66 L783.64 384.45 L784.34 385.26 L785.05 386.08 L785.75 386.92 L786.45 387.77" fill="none" stroke="#c8204c" stroke-width="1.6" stroke-dasharray="3.1 3.75"/>
<path d="M561.75 296.35 L562.45 296.49 L563.15 296.63 L563.86 296.78 L564.56 296.92 L565.26 297.06 L565.96 297.20 L566.67 297.34 L567.37 297.49 L568.07 297.63 L568.77 297.78 L569.47 297.92 L570.18 298.06 L570.88 298.21 L571.58 298.36 L572.28 298.50 L572.99 298.65 L573.69 298.79 L574.39 298.94 L575.09 299.09 L575.79 299.23 L576.50 299.38 L577.20 299.53 L577.90 299.68 L578.60 299.83 L579.30 299.98 L580.01 300.13 L580.71 300.28 L581.41 300.43 L582.11 300.58 L582.82 300.73 L583.52 300.88 L584.22 301.03 L584.92 301.19 L585.62 301.34 L586.33 301.49 L587.03 301.65 L587.73 301.80 L588.43 301.96 L589.14 302.11 L589.84 302.27 L590.54 302.42 L591.24 302.58 L591.94 302.73 L592.65 302.89 L593.35 303.05 L594.05 303.21 L594.75 303.36 L595.46 303.52 L596.16 303.68 L596.86 303.84 L597.56 304.00 L598.26 304.16 L598.97 304.32 L599.67 304.48 L600.37 304.65 L601.07 304.81 L601.77 304.97 L602.48 305.13 L603.18 305.30 L603.88 305.46 L604.58 305.63 L605.29 305.79 L605.99 305.96 L606.69 306.12 L607.39 306.29 L608.09 306.45 L608.80 306.62 L609.50 306.79 L610.20 306.96 L610.90 307.13 L611.61 307.30 L612.31 307.47 L613.01 307.64 L613.71 307.81 L614.41 307.98 L615.12 308.15 L615.82 308.32 L616.52 308.49 L617.22 308.67 L617.92 308.84 L618.63 309.02 L619.33 309.19 L620.03 309.37 L620.73 309.54 L621.44 309.72 L622.14 309.90 L622.84 310.07 L623.54 310.25 L624.24 310.43 L624.95 310.61 L625.65 310.79 L626.35 310.97 L627.05 311.15 L627.76 311.33 L628.46 311.52 L629.16 311.70 L629.86 311.88 L630.56 312.07 L631.27 312.25 L631.97 312.43 L632.67 312.62 L633.37 312.81 L634.08 312.99 L634.78 313.18 L635.48 313.37 L636.18 313.56 L636.88 313.75 L637.59 313.94 L638.29 314.13 L638.99 314.32 L639.69 314.51 L640.39 314.71 L641.10 314.90 L641.80 315.09 L642.50 315.29 L643.20 315.48 L643.91 315.68 L644.61 315.88 L645.31 316.08 L646.01 316.27 L646.71 316.47 L647.42 316.67 L648.12 316.87 L648.82 317.08 L649.52 317.28 L650.23 317.48 L650.93 317.68 L651.63 317.89 L652.33 318.09 L653.03 318.30 L653.74 318.51 L654.44 318.72 L655.14 318.92 L655.84 319.13 L656.55 319.34 L657.25 319.55 L657.95 319.77 L658.65 319.98 L659.35 320.19 L660.06 320.41 L660.76 320.62 L661.46 320.84 L662.16 321.06 L662.87 321.27 L663.57 321.49 L664.27 321.71 L664.97 321.93 L665.67 322.16 L666.38 322.38 L667.08 322.60 L667.78 322.83 L668.48 323.05 L669.18 323.28 L669.89 323.51 L670.59 323.74 L671.29 323.97 L671.99 324.20 L672.70 324.43 L673.40 324.67 L674.10 324.90 L674.80 325.14 L675.50 325.37 L676.21 325.61 L676.91 325.85 L677.61 326.09 L678.31 326.33 L679.02 326.58 L679.72 326.82 L680.42 327.06 L681.12 327.31 L681.82 327.56 L682.53 327.81 L683.23 328.06 L683.93 328.31 L684.63 328.57 L685.34 328.82 L686.04 329.08 L686.74 329.33 L687.44 329.59 L688.14 329.85 L688.85 330.12 L689.55 330.38 L690.25 330.65 L690.95 330.91 L691.65 331.18 L692.36 331.45 L693.06 331.72 L693.76 332.00 L694.46 332.27 L695.17 332.55 L695.87 332.83 L696.57 333.11 L697.27 333.39 L697.97 333.68 L698.68 333.96 L699.38 334.25 L700.08 334.54 L700.78 334.84 L701.49 335.13 L702.19 335.43 L702.89 335.73 L703.59 336.03 L704.29 336.33 L705.00 336.64 L705.70 336.94 L706.40 337.25 L707.10 337.57 L707.81 337.88 L708.51 338.20 L709.21 338.52 L709.91 338.84 L710.61 339.17 L711.32 339.50 L712.02 339.83 L712.72 340.16 L713.42 340.50 L714.12 340.84 L714.83 341.18 L715.53 341.53 L716.23 341.88 L716.93 342.23 L717.64 342.59 L718.34 342.95 L719.04 343.31 L719.74 343.68 L720.44 344.05 L721.15 344.42 L721.85 344.80 L722.55 345.18 L723.25 345.57 L723.96 345.96 L724.66 346.35 L725.36 346.75 L726.06 347.15 L726.76 347.56 L727.47 347.97 L728.17 348.39 L728.87 348.81 L729.57 349.24 L730.27 349.67 L730.98 350.11 L731.68 350.56 L732.38 351.00 L733.08 351.46 L733.79 351.92 L734.49 352.39 L735.19 352.86 L735.89 353.34 L736.59 353.83 L737.30 354.32 L738.00 354.82 L738.70 355.33 L739.40 355.85 L740.11 356.37 L740.81 356.90 L741.51 357.44 L742.21 357.99 L742.91 358.55 L743.62 359.12 L744.32 359.69 L745.02 360.28 L745.72 360.88 L746.43 361.48 L747.13 362.10 L747.83 362.73 L748.53 363.37 L749.23 364.03 L749.94 364.69 L750.64 365.37 L751.34 366.07 L752.04 366.77 L752.75 367.49 L753.45 368.23 L754.15 368.99 L754.85 369.76 L755.55 370.54 L756.26 371.35 L756.96 372.17 L757.66 373.02 L758.36 373.89 L759.06 374.77 L759.77 375.68 L760.47 376.62 L761.17 377.58 L761.87 378.57 L762.58 379.58 L763.28 380.63 L763.98 381.71 L764.68 382.82 L765.38 383.97 L766.09 385.15 L766.79 386.38 L767.49 387.65 L768.19 388.96 L768.90 390.32 L769.60 391.74 L770.30 393.22 L771.00 394.76 L771.70 396.37 L772.41 398.05 L773.11 399.81 L773.81 401.67 L774.51 403.62 L775.22 405.68 L775.92 407.87 L776.62 410.21 L777.32 412.70 L778.02 415.38 L778.73 418.28 L779.43 421.44 L780.13 424.91 L780.83 428.76" fill="none" stroke="#5a5a5a" stroke-width="1.4" stroke-dasharray="8.2 2.6 1.5 2.6 1.5 2.6" stroke-dashoffset="14.85"/>
<path d="M561.75 312.53 L562.45 312.72 L563.15 312.90 L563.86 313.08 L564.56 313.26 L565.26 313.45 L565.96 313.63 L566.67 313.82 L567.37 314.00 L568.07 314.18 L568.77 314.37 L569.47 314.56 L570.18 314.74 L570.88 314.93 L571.58 315.12 L572.28 315.31 L572.99 315.50 L573.69 315.69 L574.39 315.88 L575.09 316.07 L575.79 316.26 L576.50 316.45 L577.20 316.64 L577.90 316.83 L578.60 317.03 L579.30 317.22 L580.01 317.41 L580.71 317.61 L581.41 317.80 L582.11 318.00 L582.82 318.19 L583.52 318.39 L584.22 318.58 L584.92 318.78 L585.62 318.98 L586.33 319.18 L587.03 319.38 L587.73 319.58 L588.43 319.78 L589.14 319.98 L589.84 320.18 L590.54 320.38 L591.24 320.58 L591.94 320.78 L592.65 320.99 L593.35 321.19 L594.05 321.40 L594.75 321.60 L595.46 321.80 L596.16 322.01 L596.86 322.22 L597.56 322.42 L598.26 322.63 L598.97 322.84 L599.67 323.04 L600.37 323.25 L601.07 323.46 L601.77 323.67 L602.48 323.88 L603.18 324.09 L603.88 324.30 L604.58 324.51 L605.29 324.72 L605.99 324.94 L606.69 325.15 L607.39 325.36 L608.09 325.57 L608.80 325.79 L609.50 326.00 L610.20 326.22 L610.90 326.43 L611.61 326.64 L612.31 326.86 L613.01 327.08 L613.71 327.29 L614.41 327.51 L615.12 327.73 L615.82 327.94 L616.52 328.16 L617.22 328.38 L617.92 328.60 L618.63 328.82 L619.33 329.03 L620.03 329.25 L620.73 329.47 L621.44 329.69 L622.14 329.91 L622.84 330.13 L623.54 330.35 L624.24 330.57 L624.95 330.79 L625.65 331.02 L626.35 331.24 L627.05 331.46 L627.76 331.68 L628.46 331.90 L629.16 332.12 L629.86 332.34 L630.56 332.57 L631.27 332.79 L631.97 333.01 L632.67 333.23 L633.37 333.45 L634.08 333.68 L634.78 333.90 L635.48 334.12 L636.18 334.34 L636.88 334.56 L637.59 334.78 L638.29 335.01 L638.99 335.23 L639.69 335.45 L640.39 335.67 L641.10 335.89 L641.80 336.11 L642.50 336.33 L643.20 336.55 L643.91 336.77 L644.61 336.99 L645.31 337.21 L646.01 337.43 L646.71 337.64 L647.42 337.86 L648.12 338.08 L648.82 338.29 L649.52 338.51 L650.23 338.72 L650.93 338.94 L651.63 339.15 L652.33 339.36 L653.03 339.57 L653.74 339.79 L654.44 340.00 L655.14 340.21 L655.84 340.41 L656.55 340.62 L657.25 340.83 L657.95 341.04 L658.65 341.24 L659.35 341.44 L660.06 341.64 L660.76 341.84 L661.46 342.04 L662.16 342.24 L662.87 342.44 L663.57 342.63 L664.27 342.83 L664.97 343.02 L665.67 343.21 L666.38 343.40 L667.08 343.59 L667.78 343.77 L668.48 343.95 L669.18 344.14 L669.89 344.32 L670.59 344.50 L671.29 344.67 L671.99 344.84 L672.70 345.02 L673.40 345.19 L674.10 345.36 L674.80 345.52 L675.50 345.68 L676.21 345.84 L676.91 346.00 L677.61 346.16 L678.31 346.31 L679.02 346.45 L679.72 346.60 L680.42 346.74 L681.12 346.89 L681.82 347.03 L682.53 347.16 L683.23 347.29 L683.93 347.41 L684.63 347.54 L685.34 347.67 L686.04 347.79 L686.74 347.90 L687.44 348.00 L688.14 348.11 L688.85 348.22 L689.55 348.33 L690.25 348.42 L690.95 348.50 L691.65 348.59 L692.36 348.68 L693.06 348.76 L693.76 348.84 L694.46 348.90 L695.17 348.96 L695.87 349.03 L696.57 349.09 L697.27 349.15 L697.97 349.19 L698.68 349.23 L699.38 349.26 L700.08 349.30 L700.78 349.34 L701.49 349.36 L702.19 349.37 L702.89 349.38 L703.59 349.39 L704.29 349.39 L705.00 349.40 L705.70 349.38 L706.40 349.36 L707.10 349.34 L707.81 349.31 L708.51 349.29 L709.21 349.26 L709.91 349.20 L710.61 349.14 L711.32 349.09 L712.02 349.03 L712.72 348.97 L713.42 348.89 L714.12 348.80 L714.83 348.71 L715.53 348.62 L716.23 348.52 L716.93 348.43 L717.64 348.30 L718.34 348.17 L719.04 348.04 L719.74 347.91 L720.44 347.78 L721.15 347.63 L721.85 347.46 L722.55 347.29 L723.25 347.12 L723.96 346.95 L724.66 346.78 L725.36 346.58 L726.06 346.37 L726.76 346.16 L727.47 345.95 L728.17 345.74 L728.87 345.51 L729.57 345.26 L730.27 345.01 L730.98 344.76 L731.68 344.51 L732.38 344.26 L733.08 343.97 L733.79 343.68 L734.49 343.38 L735.19 343.09 L735.89 342.80 L736.59 342.49 L737.30 342.15 L738.00 341.82 L738.70 341.48 L739.40 341.15 L740.11 340.81 L740.81 340.44 L741.51 340.06 L742.21 339.68 L742.91 339.30 L743.62 338.93 L744.32 338.53 L745.02 338.11 L745.72 337.69 L746.43 337.27 L747.13 336.85 L747.83 336.42 L748.53 335.97 L749.23 335.51 L749.94 335.04 L750.64 334.58 L751.34 334.11 L752.04 333.64 L752.75 333.13 L753.45 332.63 L754.15 332.12 L754.85 331.61 L755.55 331.11 L756.26 330.57 L756.96 330.02 L757.66 329.48 L758.36 328.93 L759.06 328.38 L759.77 327.83 L760.47 327.24 L761.17 326.65 L761.87 326.06 L762.58 325.47 L763.28 324.89 L763.98 324.28 L764.68 323.65 L765.38 323.02 L766.09 322.40 L766.79 321.77 L767.49 321.14 L768.19 320.48 L768.90 319.81 L769.60 319.15 L770.30 318.48 L771.00 317.82 L771.70 317.14 L772.41 316.44 L773.11 315.74 L773.81 315.04 L774.51 314.34 L775.22 313.64 L775.92 312.90 L776.62 312.17 L777.32 311.44 L778.02 310.70 L778.73 309.97 L779.43 309.22 L780.13 308.45 L780.83 307.69 L781.53 306.92 L782.24 306.15 L782.94 305.39 L783.64 304.60 L784.34 303.80 L785.05 303.00" fill="none" stroke="#1439dd" stroke-width="1.45" stroke-dasharray="8.25 2.32 1.8 2.33"/>
</g>
<path d="M61.80 216.80 v-6.4 M61.80 37.50 v6.4 M78.71 216.80 v-3.1 M78.71 37.50 v3.1 M88.60 216.80 v-3.1 M88.60 37.50 v3.1 M95.62 216.80 v-3.1 M95.62 37.50 v3.1 M101.06 216.80 v-3.1 M101.06 37.50 v3.1 M105.51 216.80 v-3.1 M105.51 37.50 v3.1 M109.27 216.80 v-3.1 M109.27 37.50 v3.1 M112.53 216.80 v-3.1 M112.53 37.50 v3.1 M115.40 216.80 v-3.1 M115.40 37.50 v3.1 M117.97 216.80 v-6.4 M117.97 37.50 v6.4 M134.89 216.80 v-3.1 M134.89 37.50 v3.1 M144.78 216.80 v-3.1 M144.78 37.50 v3.1 M151.80 216.80 v-3.1 M151.80 37.50 v3.1 M157.24 216.80 v-3.1 M157.24 37.50 v3.1 M161.69 216.80 v-3.1 M161.69 37.50 v3.1 M165.45 216.80 v-3.1 M165.45 37.50 v3.1 M168.71 216.80 v-3.1 M168.71 37.50 v3.1 M171.58 216.80 v-3.1 M171.58 37.50 v3.1 M174.15 216.80 v-6.4 M174.15 37.50 v6.4 M191.06 216.80 v-3.1 M191.06 37.50 v3.1 M200.95 216.80 v-3.1 M200.95 37.50 v3.1 M207.97 216.80 v-3.1 M207.97 37.50 v3.1 M213.41 216.80 v-3.1 M213.41 37.50 v3.1 M217.86 216.80 v-3.1 M217.86 37.50 v3.1 M221.62 216.80 v-3.1 M221.62 37.50 v3.1 M224.88 216.80 v-3.1 M224.88 37.50 v3.1 M227.75 216.80 v-3.1 M227.75 37.50 v3.1 M230.32 216.80 v-6.4 M230.32 37.50 v6.4 M247.24 216.80 v-3.1 M247.24 37.50 v3.1 M257.13 216.80 v-3.1 M257.13 37.50 v3.1 M264.15 216.80 v-3.1 M264.15 37.50 v3.1 M269.59 216.80 v-3.1 M269.59 37.50 v3.1 M274.04 216.80 v-3.1 M274.04 37.50 v3.1 M277.80 216.80 v-3.1 M277.80 37.50 v3.1 M281.06 216.80 v-3.1 M281.06 37.50 v3.1 M283.93 216.80 v-3.1 M283.93 37.50 v3.1 M286.50 216.80 v-6.4 M286.50 37.50 v6.4 M61.80 205.89 h3.1 M286.50 205.89 h-3.1 M61.80 196.66 h3.1 M286.50 196.66 h-3.1 M61.80 188.67 h3.1 M286.50 188.67 h-3.1 M61.80 181.62 h3.1 M286.50 181.62 h-3.1 M61.80 175.31 h6.4 M286.50 175.31 h-6.4 M61.80 133.83 h3.1 M286.50 133.83 h-3.1 M61.80 109.56 h3.1 M286.50 109.56 h-3.1 M61.80 92.34 h3.1 M286.50 92.34 h-3.1 M61.80 78.99 h3.1 M286.50 78.99 h-3.1 M61.80 68.07 h3.1 M286.50 68.07 h-3.1 M61.80 58.85 h3.1 M286.50 58.85 h-3.1 M61.80 50.86 h3.1 M286.50 50.86 h-3.1 M61.80 43.81 h3.1 M286.50 43.81 h-3.1 M61.80 37.50 h6.4 M286.50 37.50 h-6.4" stroke="#242424" stroke-width="0.72" fill="none"/>
<rect x="61.80" y="37.50" width="224.70" height="179.30" fill="none" stroke="#242424" stroke-width="0.78"/>
<path d="M311.75 216.80 v-6.4 M311.75 37.50 v6.4 M328.66 216.80 v-3.1 M328.66 37.50 v3.1 M338.55 216.80 v-3.1 M338.55 37.50 v3.1 M345.57 216.80 v-3.1 M345.57 37.50 v3.1 M351.01 216.80 v-3.1 M351.01 37.50 v3.1 M355.46 216.80 v-3.1 M355.46 37.50 v3.1 M359.22 216.80 v-3.1 M359.22 37.50 v3.1 M362.48 216.80 v-3.1 M362.48 37.50 v3.1 M365.35 216.80 v-3.1 M365.35 37.50 v3.1 M367.93 216.80 v-6.4 M367.93 37.50 v6.4 M384.84 216.80 v-3.1 M384.84 37.50 v3.1 M394.73 216.80 v-3.1 M394.73 37.50 v3.1 M401.75 216.80 v-3.1 M401.75 37.50 v3.1 M407.19 216.80 v-3.1 M407.19 37.50 v3.1 M411.64 216.80 v-3.1 M411.64 37.50 v3.1 M415.40 216.80 v-3.1 M415.40 37.50 v3.1 M418.66 216.80 v-3.1 M418.66 37.50 v3.1 M421.53 216.80 v-3.1 M421.53 37.50 v3.1 M424.10 216.80 v-6.4 M424.10 37.50 v6.4 M441.01 216.80 v-3.1 M441.01 37.50 v3.1 M450.90 216.80 v-3.1 M450.90 37.50 v3.1 M457.92 216.80 v-3.1 M457.92 37.50 v3.1 M463.36 216.80 v-3.1 M463.36 37.50 v3.1 M467.81 216.80 v-3.1 M467.81 37.50 v3.1 M471.57 216.80 v-3.1 M471.57 37.50 v3.1 M474.83 216.80 v-3.1 M474.83 37.50 v3.1 M477.70 216.80 v-3.1 M477.70 37.50 v3.1 M480.27 216.80 v-6.4 M480.27 37.50 v6.4 M497.19 216.80 v-3.1 M497.19 37.50 v3.1 M507.08 216.80 v-3.1 M507.08 37.50 v3.1 M514.10 216.80 v-3.1 M514.10 37.50 v3.1 M519.54 216.80 v-3.1 M519.54 37.50 v3.1 M523.99 216.80 v-3.1 M523.99 37.50 v3.1 M527.75 216.80 v-3.1 M527.75 37.50 v3.1 M531.01 216.80 v-3.1 M531.01 37.50 v3.1 M533.88 216.80 v-3.1 M533.88 37.50 v3.1 M536.45 216.80 v-6.4 M536.45 37.50 v6.4 M311.75 205.89 h3.1 M536.45 205.89 h-3.1 M311.75 196.66 h3.1 M536.45 196.66 h-3.1 M311.75 188.67 h3.1 M536.45 188.67 h-3.1 M311.75 181.62 h3.1 M536.45 181.62 h-3.1 M311.75 175.31 h6.4 M536.45 175.31 h-6.4 M311.75 133.83 h3.1 M536.45 133.83 h-3.1 M311.75 109.56 h3.1 M536.45 109.56 h-3.1 M311.75 92.34 h3.1 M536.45 92.34 h-3.1 M311.75 78.99 h3.1 M536.45 78.99 h-3.1 M311.75 68.07 h3.1 M536.45 68.07 h-3.1 M311.75 58.85 h3.1 M536.45 58.85 h-3.1 M311.75 50.86 h3.1 M536.45 50.86 h-3.1 M311.75 43.81 h3.1 M536.45 43.81 h-3.1 M311.75 37.50 h6.4 M536.45 37.50 h-6.4" stroke="#242424" stroke-width="0.72" fill="none"/>
<rect x="311.75" y="37.50" width="224.70" height="179.30" fill="none" stroke="#242424" stroke-width="0.78"/>
<path d="M561.75 216.80 v-6.4 M561.75 37.50 v6.4 M578.66 216.80 v-3.1 M578.66 37.50 v3.1 M588.55 216.80 v-3.1 M588.55 37.50 v3.1 M595.57 216.80 v-3.1 M595.57 37.50 v3.1 M601.01 216.80 v-3.1 M601.01 37.50 v3.1 M605.46 216.80 v-3.1 M605.46 37.50 v3.1 M609.22 216.80 v-3.1 M609.22 37.50 v3.1 M612.48 216.80 v-3.1 M612.48 37.50 v3.1 M615.35 216.80 v-3.1 M615.35 37.50 v3.1 M617.92 216.80 v-6.4 M617.92 37.50 v6.4 M634.84 216.80 v-3.1 M634.84 37.50 v3.1 M644.73 216.80 v-3.1 M644.73 37.50 v3.1 M651.75 216.80 v-3.1 M651.75 37.50 v3.1 M657.19 216.80 v-3.1 M657.19 37.50 v3.1 M661.64 216.80 v-3.1 M661.64 37.50 v3.1 M665.40 216.80 v-3.1 M665.40 37.50 v3.1 M668.66 216.80 v-3.1 M668.66 37.50 v3.1 M671.53 216.80 v-3.1 M671.53 37.50 v3.1 M674.10 216.80 v-6.4 M674.10 37.50 v6.4 M691.01 216.80 v-3.1 M691.01 37.50 v3.1 M700.90 216.80 v-3.1 M700.90 37.50 v3.1 M707.92 216.80 v-3.1 M707.92 37.50 v3.1 M713.36 216.80 v-3.1 M713.36 37.50 v3.1 M717.81 216.80 v-3.1 M717.81 37.50 v3.1 M721.57 216.80 v-3.1 M721.57 37.50 v3.1 M724.83 216.80 v-3.1 M724.83 37.50 v3.1 M727.70 216.80 v-3.1 M727.70 37.50 v3.1 M730.27 216.80 v-6.4 M730.27 37.50 v6.4 M747.19 216.80 v-3.1 M747.19 37.50 v3.1 M757.08 216.80 v-3.1 M757.08 37.50 v3.1 M764.10 216.80 v-3.1 M764.10 37.50 v3.1 M769.54 216.80 v-3.1 M769.54 37.50 v3.1 M773.99 216.80 v-3.1 M773.99 37.50 v3.1 M777.75 216.80 v-3.1 M777.75 37.50 v3.1 M781.01 216.80 v-3.1 M781.01 37.50 v3.1 M783.88 216.80 v-3.1 M783.88 37.50 v3.1 M786.45 216.80 v-6.4 M786.45 37.50 v6.4 M561.75 205.89 h3.1 M786.45 205.89 h-3.1 M561.75 196.66 h3.1 M786.45 196.66 h-3.1 M561.75 188.67 h3.1 M786.45 188.67 h-3.1 M561.75 181.62 h3.1 M786.45 181.62 h-3.1 M561.75 175.31 h6.4 M786.45 175.31 h-6.4 M561.75 133.83 h3.1 M786.45 133.83 h-3.1 M561.75 109.56 h3.1 M786.45 109.56 h-3.1 M561.75 92.34 h3.1 M786.45 92.34 h-3.1 M561.75 78.99 h3.1 M786.45 78.99 h-3.1 M561.75 68.07 h3.1 M786.45 68.07 h-3.1 M561.75 58.85 h3.1 M786.45 58.85 h-3.1 M561.75 50.86 h3.1 M786.45 50.86 h-3.1 M561.75 43.81 h3.1 M786.45 43.81 h-3.1 M561.75 37.50 h6.4 M786.45 37.50 h-6.4" stroke="#242424" stroke-width="0.72" fill="none"/>
<rect x="561.75" y="37.50" width="224.70" height="179.30" fill="none" stroke="#242424" stroke-width="0.78"/>
<path d="M61.80 419.80 v-6.4 M61.80 240.30 v6.4 M78.71 419.80 v-3.1 M78.71 240.30 v3.1 M88.60 419.80 v-3.1 M88.60 240.30 v3.1 M95.62 419.80 v-3.1 M95.62 240.30 v3.1 M101.06 419.80 v-3.1 M101.06 240.30 v3.1 M105.51 419.80 v-3.1 M105.51 240.30 v3.1 M109.27 419.80 v-3.1 M109.27 240.30 v3.1 M112.53 419.80 v-3.1 M112.53 240.30 v3.1 M115.40 419.80 v-3.1 M115.40 240.30 v3.1 M117.97 419.80 v-6.4 M117.97 240.30 v6.4 M134.89 419.80 v-3.1 M134.89 240.30 v3.1 M144.78 419.80 v-3.1 M144.78 240.30 v3.1 M151.80 419.80 v-3.1 M151.80 240.30 v3.1 M157.24 419.80 v-3.1 M157.24 240.30 v3.1 M161.69 419.80 v-3.1 M161.69 240.30 v3.1 M165.45 419.80 v-3.1 M165.45 240.30 v3.1 M168.71 419.80 v-3.1 M168.71 240.30 v3.1 M171.58 419.80 v-3.1 M171.58 240.30 v3.1 M174.15 419.80 v-6.4 M174.15 240.30 v6.4 M191.06 419.80 v-3.1 M191.06 240.30 v3.1 M200.95 419.80 v-3.1 M200.95 240.30 v3.1 M207.97 419.80 v-3.1 M207.97 240.30 v3.1 M213.41 419.80 v-3.1 M213.41 240.30 v3.1 M217.86 419.80 v-3.1 M217.86 240.30 v3.1 M221.62 419.80 v-3.1 M221.62 240.30 v3.1 M224.88 419.80 v-3.1 M224.88 240.30 v3.1 M227.75 419.80 v-3.1 M227.75 240.30 v3.1 M230.32 419.80 v-6.4 M230.32 240.30 v6.4 M247.24 419.80 v-3.1 M247.24 240.30 v3.1 M257.13 419.80 v-3.1 M257.13 240.30 v3.1 M264.15 419.80 v-3.1 M264.15 240.30 v3.1 M269.59 419.80 v-3.1 M269.59 240.30 v3.1 M274.04 419.80 v-3.1 M274.04 240.30 v3.1 M277.80 419.80 v-3.1 M277.80 240.30 v3.1 M281.06 419.80 v-3.1 M281.06 240.30 v3.1 M283.93 419.80 v-3.1 M283.93 240.30 v3.1 M286.50 419.80 v-6.4 M286.50 240.30 v6.4 M61.80 408.88 h3.1 M286.50 408.88 h-3.1 M61.80 399.64 h3.1 M286.50 399.64 h-3.1 M61.80 391.64 h3.1 M286.50 391.64 h-3.1 M61.80 384.58 h3.1 M286.50 384.58 h-3.1 M61.80 378.27 h6.4 M286.50 378.27 h-6.4 M61.80 336.74 h3.1 M286.50 336.74 h-3.1 M61.80 312.44 h3.1 M286.50 312.44 h-3.1 M61.80 295.20 h3.1 M286.50 295.20 h-3.1 M61.80 281.83 h3.1 M286.50 281.83 h-3.1 M61.80 270.91 h3.1 M286.50 270.91 h-3.1 M61.80 261.67 h3.1 M286.50 261.67 h-3.1 M61.80 253.67 h3.1 M286.50 253.67 h-3.1 M61.80 246.61 h3.1 M286.50 246.61 h-3.1 M61.80 240.30 h6.4 M286.50 240.30 h-6.4" stroke="#242424" stroke-width="0.72" fill="none"/>
<rect x="61.80" y="240.30" width="224.70" height="179.50" fill="none" stroke="#242424" stroke-width="0.78"/>
<path d="M311.75 419.80 v-6.4 M311.75 240.30 v6.4 M328.66 419.80 v-3.1 M328.66 240.30 v3.1 M338.55 419.80 v-3.1 M338.55 240.30 v3.1 M345.57 419.80 v-3.1 M345.57 240.30 v3.1 M351.01 419.80 v-3.1 M351.01 240.30 v3.1 M355.46 419.80 v-3.1 M355.46 240.30 v3.1 M359.22 419.80 v-3.1 M359.22 240.30 v3.1 M362.48 419.80 v-3.1 M362.48 240.30 v3.1 M365.35 419.80 v-3.1 M365.35 240.30 v3.1 M367.93 419.80 v-6.4 M367.93 240.30 v6.4 M384.84 419.80 v-3.1 M384.84 240.30 v3.1 M394.73 419.80 v-3.1 M394.73 240.30 v3.1 M401.75 419.80 v-3.1 M401.75 240.30 v3.1 M407.19 419.80 v-3.1 M407.19 240.30 v3.1 M411.64 419.80 v-3.1 M411.64 240.30 v3.1 M415.40 419.80 v-3.1 M415.40 240.30 v3.1 M418.66 419.80 v-3.1 M418.66 240.30 v3.1 M421.53 419.80 v-3.1 M421.53 240.30 v3.1 M424.10 419.80 v-6.4 M424.10 240.30 v6.4 M441.01 419.80 v-3.1 M441.01 240.30 v3.1 M450.90 419.80 v-3.1 M450.90 240.30 v3.1 M457.92 419.80 v-3.1 M457.92 240.30 v3.1 M463.36 419.80 v-3.1 M463.36 240.30 v3.1 M467.81 419.80 v-3.1 M467.81 240.30 v3.1 M471.57 419.80 v-3.1 M471.57 240.30 v3.1 M474.83 419.80 v-3.1 M474.83 240.30 v3.1 M477.70 419.80 v-3.1 M477.70 240.30 v3.1 M480.27 419.80 v-6.4 M480.27 240.30 v6.4 M497.19 419.80 v-3.1 M497.19 240.30 v3.1 M507.08 419.80 v-3.1 M507.08 240.30 v3.1 M514.10 419.80 v-3.1 M514.10 240.30 v3.1 M519.54 419.80 v-3.1 M519.54 240.30 v3.1 M523.99 419.80 v-3.1 M523.99 240.30 v3.1 M527.75 419.80 v-3.1 M527.75 240.30 v3.1 M531.01 419.80 v-3.1 M531.01 240.30 v3.1 M533.88 419.80 v-3.1 M533.88 240.30 v3.1 M536.45 419.80 v-6.4 M536.45 240.30 v6.4 M311.75 408.88 h3.1 M536.45 408.88 h-3.1 M311.75 399.64 h3.1 M536.45 399.64 h-3.1 M311.75 391.64 h3.1 M536.45 391.64 h-3.1 M311.75 384.58 h3.1 M536.45 384.58 h-3.1 M311.75 378.27 h6.4 M536.45 378.27 h-6.4 M311.75 336.74 h3.1 M536.45 336.74 h-3.1 M311.75 312.44 h3.1 M536.45 312.44 h-3.1 M311.75 295.20 h3.1 M536.45 295.20 h-3.1 M311.75 281.83 h3.1 M536.45 281.83 h-3.1 M311.75 270.91 h3.1 M536.45 270.91 h-3.1 M311.75 261.67 h3.1 M536.45 261.67 h-3.1 M311.75 253.67 h3.1 M536.45 253.67 h-3.1 M311.75 246.61 h3.1 M536.45 246.61 h-3.1 M311.75 240.30 h6.4 M536.45 240.30 h-6.4" stroke="#242424" stroke-width="0.72" fill="none"/>
<rect x="311.75" y="240.30" width="224.70" height="179.50" fill="none" stroke="#242424" stroke-width="0.78"/>
<path d="M561.75 419.80 v-6.4 M561.75 240.30 v6.4 M578.66 419.80 v-3.1 M578.66 240.30 v3.1 M588.55 419.80 v-3.1 M588.55 240.30 v3.1 M595.57 419.80 v-3.1 M595.57 240.30 v3.1 M601.01 419.80 v-3.1 M601.01 240.30 v3.1 M605.46 419.80 v-3.1 M605.46 240.30 v3.1 M609.22 419.80 v-3.1 M609.22 240.30 v3.1 M612.48 419.80 v-3.1 M612.48 240.30 v3.1 M615.35 419.80 v-3.1 M615.35 240.30 v3.1 M617.92 419.80 v-6.4 M617.92 240.30 v6.4 M634.84 419.80 v-3.1 M634.84 240.30 v3.1 M644.73 419.80 v-3.1 M644.73 240.30 v3.1 M651.75 419.80 v-3.1 M651.75 240.30 v3.1 M657.19 419.80 v-3.1 M657.19 240.30 v3.1 M661.64 419.80 v-3.1 M661.64 240.30 v3.1 M665.40 419.80 v-3.1 M665.40 240.30 v3.1 M668.66 419.80 v-3.1 M668.66 240.30 v3.1 M671.53 419.80 v-3.1 M671.53 240.30 v3.1 M674.10 419.80 v-6.4 M674.10 240.30 v6.4 M691.01 419.80 v-3.1 M691.01 240.30 v3.1 M700.90 419.80 v-3.1 M700.90 240.30 v3.1 M707.92 419.80 v-3.1 M707.92 240.30 v3.1 M713.36 419.80 v-3.1 M713.36 240.30 v3.1 M717.81 419.80 v-3.1 M717.81 240.30 v3.1 M721.57 419.80 v-3.1 M721.57 240.30 v3.1 M724.83 419.80 v-3.1 M724.83 240.30 v3.1 M727.70 419.80 v-3.1 M727.70 240.30 v3.1 M730.27 419.80 v-6.4 M730.27 240.30 v6.4 M747.19 419.80 v-3.1 M747.19 240.30 v3.1 M757.08 419.80 v-3.1 M757.08 240.30 v3.1 M764.10 419.80 v-3.1 M764.10 240.30 v3.1 M769.54 419.80 v-3.1 M769.54 240.30 v3.1 M773.99 419.80 v-3.1 M773.99 240.30 v3.1 M777.75 419.80 v-3.1 M777.75 240.30 v3.1 M781.01 419.80 v-3.1 M781.01 240.30 v3.1 M783.88 419.80 v-3.1 M783.88 240.30 v3.1 M786.45 419.80 v-6.4 M786.45 240.30 v6.4 M561.75 408.88 h3.1 M786.45 408.88 h-3.1 M561.75 399.64 h3.1 M786.45 399.64 h-3.1 M561.75 391.64 h3.1 M786.45 391.64 h-3.1 M561.75 384.58 h3.1 M786.45 384.58 h-3.1 M561.75 378.27 h6.4 M786.45 378.27 h-6.4 M561.75 336.74 h3.1 M786.45 336.74 h-3.1 M561.75 312.44 h3.1 M786.45 312.44 h-3.1 M561.75 295.20 h3.1 M786.45 295.20 h-3.1 M561.75 281.83 h3.1 M786.45 281.83 h-3.1 M561.75 270.91 h3.1 M786.45 270.91 h-3.1 M561.75 261.67 h3.1 M786.45 261.67 h-3.1 M561.75 253.67 h3.1 M786.45 253.67 h-3.1 M561.75 246.61 h3.1 M786.45 246.61 h-3.1 M561.75 240.30 h6.4 M786.45 240.30 h-6.4" stroke="#242424" stroke-width="0.72" fill="none"/>
<rect x="561.75" y="240.30" width="224.70" height="179.50" fill="none" stroke="#242424" stroke-width="0.78"/>
<path d="M536.35 171.15 V175.71" stroke="#0a0a0a" stroke-width="2" fill="none"/>
<text x="325.90" y="12.30" font-family="Liberation Serif, serif" fill="#262626" stroke="#262626" stroke-width="0.1" font-size="16.6" textLength="12.09" lengthAdjust="spacingAndGlyphs">A</text>
<text x="338.00" y="12.30" font-family="Liberation Serif, serif" fill="#262626" stroke="#262626" stroke-width="0.1" font-size="11.9" textLength="79.96" lengthAdjust="spacingAndGlyphs">TTRACTIVE</text>
<text x="425.10" y="12.30" font-family="Liberation Serif, serif" fill="#262626" stroke="#262626" stroke-width="0.1" font-size="16.6" textLength="6.53" lengthAdjust="spacingAndGlyphs">I</text>
<text x="432.00" y="12.30" font-family="Liberation Serif, serif" fill="#262626" stroke="#262626" stroke-width="0.1" font-size="11.9" textLength="89.50" lengthAdjust="spacingAndGlyphs">NTERACTION</text>
<text x="31.80" y="40.80" font-family="Liberation Serif, serif" fill="#262626" stroke="#262626" stroke-width="0.1" font-size="14.2" textLength="12.95" lengthAdjust="spacingAndGlyphs">10</text>
<text x="45.00" y="35.80" font-family="Liberation Serif, serif" fill="#262626" stroke="#262626" stroke-width="0.1" font-size="9.6" textLength="5.05" lengthAdjust="spacingAndGlyphs">2</text>
<text x="31.80" y="178.61" font-family="Liberation Serif, serif" fill="#262626" stroke="#262626" stroke-width="0.1" font-size="14.2" textLength="12.95" lengthAdjust="spacingAndGlyphs">10</text>
<text x="45.60" y="173.61" font-family="Liberation Serif, serif" fill="#262626" stroke="#262626" stroke-width="0.1" font-size="9.6" textLength="4.24" lengthAdjust="spacingAndGlyphs">1</text>
<text x="31.80" y="243.60" font-family="Liberation Serif, serif" fill="#262626" stroke="#262626" stroke-width="0.1" font-size="14.2" textLength="12.95" lengthAdjust="spacingAndGlyphs">10</text>
<text x="45.00" y="238.60" font-family="Liberation Serif, serif" fill="#262626" stroke="#262626" stroke-width="0.1" font-size="9.6" textLength="5.05" lengthAdjust="spacingAndGlyphs">2</text>
<text x="31.80" y="381.57" font-family="Liberation Serif, serif" fill="#262626" stroke="#262626" stroke-width="0.1" font-size="14.2" textLength="12.95" lengthAdjust="spacingAndGlyphs">10</text>
<text x="45.60" y="376.57" font-family="Liberation Serif, serif" fill="#262626" stroke="#262626" stroke-width="0.1" font-size="9.6" textLength="4.24" lengthAdjust="spacingAndGlyphs">1</text>
<text x="49.00" y="441.30" font-family="Liberation Serif, serif" fill="#262626" stroke="#262626" stroke-width="0.1" font-size="14.2" textLength="12.26" lengthAdjust="spacingAndGlyphs">10</text>
<text x="62.60" y="436.70" font-family="Liberation Serif, serif" fill="#262626" stroke="#262626" stroke-width="0.1" font-size="9.6" textLength="7.66" lengthAdjust="spacingAndGlyphs">−</text>
<text x="70.40" y="436.70" font-family="Liberation Serif, serif" fill="#262626" stroke="#262626" stroke-width="0.1" font-size="9.6" textLength="4.95" lengthAdjust="spacingAndGlyphs">4</text>
<text x="105.17" y="441.30" font-family="Liberation Serif, serif" fill="#262626" stroke="#262626" stroke-width="0.1" font-size="14.2" textLength="12.26" lengthAdjust="spacingAndGlyphs">10</text>
<text x="118.77" y="436.70" font-family="Liberation Serif, serif" fill="#262626" stroke="#262626" stroke-width="0.1" font-size="9.6" textLength="7.66" lengthAdjust="spacingAndGlyphs">−</text>
<text x="126.57" y="436.70" font-family="Liberation Serif, serif" fill="#262626" stroke="#262626" stroke-width="0.1" font-size="9.6" textLength="4.95" lengthAdjust="spacingAndGlyphs">3</text>
<text x="161.35" y="441.30" font-family="Liberation Serif, serif" fill="#262626" stroke="#262626" stroke-width="0.1" font-size="14.2" textLength="12.26" lengthAdjust="spacingAndGlyphs">10</text>
<text x="174.95" y="436.70" font-family="Liberation Serif, serif" fill="#262626" stroke="#262626" stroke-width="0.1" font-size="9.6" textLength="7.66" lengthAdjust="spacingAndGlyphs">−</text>
<text x="182.75" y="436.70" font-family="Liberation Serif, serif" fill="#262626" stroke="#262626" stroke-width="0.1" font-size="9.6" textLength="4.95" lengthAdjust="spacingAndGlyphs">2</text>
<text x="217.52" y="441.30" font-family="Liberation Serif, serif" fill="#262626" stroke="#262626" stroke-width="0.1" font-size="14.2" textLength="12.26" lengthAdjust="spacingAndGlyphs">10</text>
<text x="231.12" y="436.70" font-family="Liberation Serif, serif" fill="#262626" stroke="#262626" stroke-width="0.1" font-size="9.6" textLength="7.66" lengthAdjust="spacingAndGlyphs">−</text>
<text x="239.32" y="436.70" font-family="Liberation Serif, serif" fill="#262626" stroke="#262626" stroke-width="0.1" font-size="9.6" textLength="4.04" lengthAdjust="spacingAndGlyphs">1</text>
<text x="284.10" y="441.30" font-family="Liberation Serif, serif" fill="#262626" stroke="#262626" stroke-width="0.1" font-size="14.2" textLength="4.78" lengthAdjust="spacingAndGlyphs">1</text>
<text x="298.95" y="441.30" font-family="Liberation Serif, serif" fill="#262626" stroke="#262626" stroke-width="0.1" font-size="14.2" textLength="12.26" lengthAdjust="spacingAndGlyphs">10</text>
<text x="312.55" y="436.70" font-family="Liberation Serif, serif" fill="#262626" stroke="#262626" stroke-width="0.1" font-size="9.6" textLength="7.66" lengthAdjust="spacingAndGlyphs">−</text>
<text x="320.35" y="436.70" font-family="Liberation Serif, serif" fill="#262626" stroke="#262626" stroke-width="0.1" font-size="9.6" textLength="4.95" lengthAdjust="spacingAndGlyphs">4</text>
<text x="355.13" y="441.30" font-family="Liberation Serif, serif" fill="#262626" stroke="#262626" stroke-width="0.1" font-size="14.2" textLength="12.26" lengthAdjust="spacingAndGlyphs">10</text>
<text x="368.73" y="436.70" font-family="Liberation Serif, serif" fill="#262626" stroke="#262626" stroke-width="0.1" font-size="9.6" textLength="7.66" lengthAdjust="spacingAndGlyphs">−</text>
<text x="376.53" y="436.70" font-family="Liberation Serif, serif" fill="#262626" stroke="#262626" stroke-width="0.1" font-size="9.6" textLength="4.95" lengthAdjust="spacingAndGlyphs">3</text>
<text x="411.30" y="441.30" font-family="Liberation Serif, serif" fill="#262626" stroke="#262626" stroke-width="0.1" font-size="14.2" textLength="12.26" lengthAdjust="spacingAndGlyphs">10</text>
<text x="424.90" y="436.70" font-family="Liberation Serif, serif" fill="#262626" stroke="#262626" stroke-width="0.1" font-size="9.6" textLength="7.66" lengthAdjust="spacingAndGlyphs">−</text>
<text x="432.70" y="436.70" font-family="Liberation Serif, serif" fill="#262626" stroke="#262626" stroke-width="0.1" font-size="9.6" textLength="4.95" lengthAdjust="spacingAndGlyphs">2</text>
<text x="467.48" y="441.30" font-family="Liberation Serif, serif" fill="#262626" stroke="#262626" stroke-width="0.1" font-size="14.2" textLength="12.26" lengthAdjust="spacingAndGlyphs">10</text>
<text x="481.07" y="436.70" font-family="Liberation Serif, serif" fill="#262626" stroke="#262626" stroke-width="0.1" font-size="9.6" textLength="7.66" lengthAdjust="spacingAndGlyphs">−</text>
<text x="489.27" y="436.70" font-family="Liberation Serif, serif" fill="#262626" stroke="#262626" stroke-width="0.1" font-size="9.6" textLength="4.04" lengthAdjust="spacingAndGlyphs">1</text>
<text x="534.05" y="441.30" font-family="Liberation Serif, serif" fill="#262626" stroke="#262626" stroke-width="0.1" font-size="14.2" textLength="4.78" lengthAdjust="spacingAndGlyphs">1</text>
<text x="548.95" y="441.30" font-family="Liberation Serif, serif" fill="#262626" stroke="#262626" stroke-width="0.1" font-size="14.2" textLength="12.26" lengthAdjust="spacingAndGlyphs">10</text>
<text x="562.55" y="436.70" font-family="Liberation Serif, serif" fill="#262626" stroke="#262626" stroke-width="0.1" font-size="9.6" textLength="7.66" lengthAdjust="spacingAndGlyphs">−</text>
<text x="570.35" y="436.70" font-family="Liberation Serif, serif" fill="#262626" stroke="#262626" stroke-width="0.1" font-size="9.6" textLength="4.95" lengthAdjust="spacingAndGlyphs">4</text>
<text x="605.12" y="441.30" font-family="Liberation Serif, serif" fill="#262626" stroke="#262626" stroke-width="0.1" font-size="14.2" textLength="12.26" lengthAdjust="spacingAndGlyphs">10</text>
<text x="618.73" y="436.70" font-family="Liberation Serif, serif" fill="#262626" stroke="#262626" stroke-width="0.1" font-size="9.6" textLength="7.66" lengthAdjust="spacingAndGlyphs">−</text>
<text x="626.52" y="436.70" font-family="Liberation Serif, serif" fill="#262626" stroke="#262626" stroke-width="0.1" font-size="9.6" textLength="4.95" lengthAdjust="spacingAndGlyphs">3</text>
<text x="661.30" y="441.30" font-family="Liberation Serif, serif" fill="#262626" stroke="#262626" stroke-width="0.1" font-size="14.2" textLength="12.26" lengthAdjust="spacingAndGlyphs">10</text>
<text x="674.90" y="436.70" font-family="Liberation Serif, serif" fill="#262626" stroke="#262626" stroke-width="0.1" font-size="9.6" textLength="7.66" lengthAdjust="spacingAndGlyphs">−</text>
<text x="682.70" y="436.70" font-family="Liberation Serif, serif" fill="#262626" stroke="#262626" stroke-width="0.1" font-size="9.6" textLength="4.95" lengthAdjust="spacingAndGlyphs">2</text>
<text x="717.48" y="441.30" font-family="Liberation Serif, serif" fill="#262626" stroke="#262626" stroke-width="0.1" font-size="14.2" textLength="12.26" lengthAdjust="spacingAndGlyphs">10</text>
<text x="731.08" y="436.70" font-family="Liberation Serif, serif" fill="#262626" stroke="#262626" stroke-width="0.1" font-size="9.6" textLength="7.66" lengthAdjust="spacingAndGlyphs">−</text>
<text x="739.27" y="436.70" font-family="Liberation Serif, serif" fill="#262626" stroke="#262626" stroke-width="0.1" font-size="9.6" textLength="4.04" lengthAdjust="spacingAndGlyphs">1</text>
<text x="784.05" y="441.30" font-family="Liberation Serif, serif" fill="#262626" stroke="#262626" stroke-width="0.1" font-size="14.2" textLength="4.78" lengthAdjust="spacingAndGlyphs">1</text>
<text x="384.87" y="469.80" font-family="Liberation Serif, serif" fill="#262626" stroke="#262626" stroke-width="0.1" font-size="14.2" font-style="italic" textLength="6.79" lengthAdjust="spacingAndGlyphs">x</text>
<text x="395.90" y="469.80" font-family="Liberation Serif, serif" fill="#262626" stroke="#262626" stroke-width="0.1" font-size="14.2" textLength="8.71" lengthAdjust="spacingAndGlyphs">=</text>
<text x="409.70" y="469.80" font-family="Liberation Serif, serif" fill="#262626" stroke="#262626" stroke-width="0.1" font-size="14.2" textLength="6.38" lengthAdjust="spacingAndGlyphs">2</text>
<text x="416.40" y="469.80" font-family="Liberation Serif, serif" fill="#262626" stroke="#262626" stroke-width="0.1" font-size="14.2" font-style="italic" textLength="8.82" lengthAdjust="spacingAndGlyphs">ω</text>
<path d="M426.70 472.60 L431.50 460.60" stroke="#262626" stroke-width="0.95" fill="none"/>
<text x="432.80" y="470.40" font-family="Liberation Serif, serif" fill="#262626" stroke="#262626" stroke-width="0.1" font-size="14.2" textLength="4.38" lengthAdjust="spacingAndGlyphs">(</text>
<text x="437.53" y="469.80" font-family="Liberation Serif, serif" fill="#262626" stroke="#262626" stroke-width="0.1" font-size="14.2" font-style="italic" textLength="7.67" lengthAdjust="spacingAndGlyphs">μ</text>
<text x="445.40" y="469.80" font-family="Liberation Serif, serif" fill="#262626" stroke="#262626" stroke-width="0.1" font-size="14.2" font-style="italic" textLength="6.03" lengthAdjust="spacingAndGlyphs">v</text>
<text x="451.80" y="465.00" font-family="Liberation Serif, serif" fill="#262626" stroke="#262626" stroke-width="0.1" font-size="9.6" textLength="4.24" lengthAdjust="spacingAndGlyphs">2</text>
<text x="451.80" y="472.10" font-family="Liberation Serif, serif" fill="#262626" stroke="#262626" stroke-width="0.1" font-size="9.6" font-style="italic" textLength="3.25" lengthAdjust="spacingAndGlyphs">i</text>
<text x="457.90" y="470.40" font-family="Liberation Serif, serif" fill="#262626" stroke="#262626" stroke-width="0.1" font-size="14.2" textLength="4.38" lengthAdjust="spacingAndGlyphs">)</text>
<g transform="translate(12.50 213.30) rotate(-90)">
<text x="-0.10" y="0.00" font-family="Liberation Serif, serif" fill="#262626" stroke="#262626" stroke-width="0.1" font-size="14.2" font-style="italic" textLength="8.32" lengthAdjust="spacingAndGlyphs">ω</text>
<text x="8.40" y="0.00" font-family="Liberation Serif, serif" fill="#262626" stroke="#262626" stroke-width="0.1" font-size="14.2" font-style="italic" textLength="7.64" lengthAdjust="spacingAndGlyphs">d</text>
<text x="16.60" y="0.00" font-family="Liberation Serif, serif" fill="#262626" stroke="#262626" stroke-width="0.1" font-size="14.2" font-style="italic" textLength="7.28" lengthAdjust="spacingAndGlyphs">σ</text>
<text x="32.80" y="0.00" font-family="Liberation Serif, serif" fill="#262626" stroke="#262626" stroke-width="0.1" font-size="14.2" font-style="italic" textLength="6.27" lengthAdjust="spacingAndGlyphs">d</text>
<text x="39.40" y="0.00" font-family="Liberation Serif, serif" fill="#262626" stroke="#262626" stroke-width="0.1" font-size="14.2" font-style="italic" textLength="7.02" lengthAdjust="spacingAndGlyphs">ω</text>
<text x="58.50" y="0.00" font-family="Liberation Serif, serif" fill="#262626" stroke="#262626" stroke-width="0.1" font-size="14.2" font-style="italic" textLength="7.02" lengthAdjust="spacingAndGlyphs">α</text>
<text x="67.10" y="-4.90" font-family="Liberation Serif, serif" fill="#262626" stroke="#262626" stroke-width="0.1" font-size="9.6" textLength="4.85" lengthAdjust="spacingAndGlyphs">3</text>
<text x="74.20" y="0.00" font-family="Liberation Serif, serif" fill="#262626" stroke="#262626" stroke-width="0.1" font-size="14.2" font-style="italic" textLength="7.68" lengthAdjust="spacingAndGlyphs">Z</text>
<text x="82.40" y="-4.90" font-family="Liberation Serif, serif" fill="#262626" stroke="#262626" stroke-width="0.1" font-size="9.6" textLength="4.85" lengthAdjust="spacingAndGlyphs">2</text>
<text x="83.00" y="3.00" font-family="Liberation Serif, serif" fill="#262626" stroke="#262626" stroke-width="0.1" font-size="9.6" textLength="3.64" lengthAdjust="spacingAndGlyphs">1</text>
<text x="89.50" y="0.00" font-family="Liberation Serif, serif" fill="#262626" stroke="#262626" stroke-width="0.1" font-size="14.2" font-style="italic" textLength="7.68" lengthAdjust="spacingAndGlyphs">Z</text>
<text x="97.90" y="-4.90" font-family="Liberation Serif, serif" fill="#262626" stroke="#262626" stroke-width="0.1" font-size="9.6" textLength="4.85" lengthAdjust="spacingAndGlyphs">2</text>
<text x="97.90" y="3.00" font-family="Liberation Serif, serif" fill="#262626" stroke="#262626" stroke-width="0.1" font-size="9.6" textLength="4.85" lengthAdjust="spacingAndGlyphs">2</text>
<text x="104.70" y="0.00" font-family="Liberation Serif, serif" fill="#262626" stroke="#262626" stroke-width="0.1" font-size="14.2" textLength="9.20" lengthAdjust="spacingAndGlyphs">A</text>
<text x="114.10" y="-4.90" font-family="Liberation Serif, serif" fill="#262626" stroke="#262626" stroke-width="0.1" font-size="9.6" textLength="4.85" lengthAdjust="spacingAndGlyphs">2</text>
<text x="114.74" y="3.00" font-family="Liberation Serif, serif" fill="#262626" stroke="#262626" stroke-width="0.1" font-size="9.6" font-style="italic" textLength="7.92" lengthAdjust="spacingAndGlyphs">D</text>
<text x="131.50" y="0.60" font-family="Liberation Serif, serif" fill="#262626" stroke="#262626" stroke-width="0.1" font-size="14.2" textLength="4.48" lengthAdjust="spacingAndGlyphs">(</text>
<text x="137.63" y="0.00" font-family="Liberation Serif, serif" fill="#262626" stroke="#262626" stroke-width="0.1" font-size="14.2" font-style="italic" textLength="7.37" lengthAdjust="spacingAndGlyphs">μ</text>
<text x="145.10" y="0.00" font-family="Liberation Serif, serif" fill="#262626" stroke="#262626" stroke-width="0.1" font-size="14.2" font-style="italic" textLength="6.03" lengthAdjust="spacingAndGlyphs">v</text>
<text x="151.20" y="2.80" font-family="Liberation Serif, serif" fill="#262626" stroke="#262626" stroke-width="0.1" font-size="9.6" font-style="italic" textLength="3.15" lengthAdjust="spacingAndGlyphs">i</text>
<text x="155.00" y="0.60" font-family="Liberation Serif, serif" fill="#262626" stroke="#262626" stroke-width="0.1" font-size="14.2" textLength="4.58" lengthAdjust="spacingAndGlyphs">)</text>
<text x="160.70" y="-4.90" font-family="Liberation Serif, serif" fill="#262626" stroke="#262626" stroke-width="0.1" font-size="9.6" textLength="4.75" lengthAdjust="spacingAndGlyphs">2</text>
<path d="M25.20 3.10 L32.00 -9.80" stroke="#262626" stroke-width="0.95" fill="none"/>
<path d="M124.20 3.10 L131.00 -9.80" stroke="#262626" stroke-width="0.95" fill="none"/>
<path d="M58.0 -11.5 h-2.3 v16 h2.3" fill="none" stroke="#262626" stroke-width="0.95"/>
<path d="M167.30 -11.5 h2.3 v16 h-2.3" fill="none" stroke="#262626" stroke-width="0.95"/>
</g>
<g transform="translate(12.50 404.60) rotate(-90)">
<text x="-0.10" y="0.00" font-family="Liberation Serif, serif" fill="#262626" stroke="#262626" stroke-width="0.1" font-size="14.2" font-style="italic" textLength="8.32" lengthAdjust="spacingAndGlyphs">ω</text>
<text x="8.40" y="0.00" font-family="Liberation Serif, serif" fill="#262626" stroke="#262626" stroke-width="0.1" font-size="14.2" font-style="italic" textLength="7.64" lengthAdjust="spacingAndGlyphs">d</text>
<text x="16.60" y="0.00" font-family="Liberation Serif, serif" fill="#262626" stroke="#262626" stroke-width="0.1" font-size="14.2" font-style="italic" textLength="7.28" lengthAdjust="spacingAndGlyphs">σ</text>
<text x="32.80" y="0.00" font-family="Liberation Serif, serif" fill="#262626" stroke="#262626" stroke-width="0.1" font-size="14.2" font-style="italic" textLength="6.27" lengthAdjust="spacingAndGlyphs">d</text>
<text x="39.40" y="0.00" font-family="Liberation Serif, serif" fill="#262626" stroke="#262626" stroke-width="0.1" font-size="14.2" font-style="italic" textLength="7.02" lengthAdjust="spacingAndGlyphs">ω</text>
<text x="58.50" y="0.00" font-family="Liberation Serif, serif" fill="#262626" stroke="#262626" stroke-width="0.1" font-size="14.2" font-style="italic" textLength="7.02" lengthAdjust="spacingAndGlyphs">α</text>
<text x="67.10" y="-4.90" font-family="Liberation Serif, serif" fill="#262626" stroke="#262626" stroke-width="0.1" font-size="9.6" textLength="4.85" lengthAdjust="spacingAndGlyphs">3</text>
<text x="74.20" y="0.00" font-family="Liberation Serif, serif" fill="#262626" stroke="#262626" stroke-width="0.1" font-size="14.2" font-style="italic" textLength="7.68" lengthAdjust="spacingAndGlyphs">Z</text>
<text x="82.40" y="-4.90" font-family="Liberation Serif, serif" fill="#262626" stroke="#262626" stroke-width="0.1" font-size="9.6" textLength="4.85" lengthAdjust="spacingAndGlyphs">2</text>
<text x="83.00" y="3.00" font-family="Liberation Serif, serif" fill="#262626" stroke="#262626" stroke-width="0.1" font-size="9.6" textLength="3.64" lengthAdjust="spacingAndGlyphs">1</text>
<text x="89.50" y="0.00" font-family="Liberation Serif, serif" fill="#262626" stroke="#262626" stroke-width="0.1" font-size="14.2" font-style="italic" textLength="7.68" lengthAdjust="spacingAndGlyphs">Z</text>
<text x="97.90" y="-4.90" font-family="Liberation Serif, serif" fill="#262626" stroke="#262626" stroke-width="0.1" font-size="9.6" textLength="4.85" lengthAdjust="spacingAndGlyphs">2</text>
<text x="97.90" y="3.00" font-family="Liberation Serif, serif" fill="#262626" stroke="#262626" stroke-width="0.1" font-size="9.6" textLength="4.85" lengthAdjust="spacingAndGlyphs">2</text>
<text x="104.70" y="0.00" font-family="Liberation Serif, serif" fill="#262626" stroke="#262626" stroke-width="0.1" font-size="14.2" textLength="9.20" lengthAdjust="spacingAndGlyphs">A</text>
<text x="114.10" y="-4.90" font-family="Liberation Serif, serif" fill="#262626" stroke="#262626" stroke-width="0.1" font-size="9.6" textLength="4.85" lengthAdjust="spacingAndGlyphs">2</text>
<text x="114.60" y="3.00" font-family="Liberation Serif, serif" fill="#262626" stroke="#262626" stroke-width="0.1" font-size="9.6" font-style="italic" textLength="8.07" lengthAdjust="spacingAndGlyphs">Q</text>
<text x="131.53" y="0.00" font-family="Liberation Serif, serif" fill="#262626" stroke="#262626" stroke-width="0.1" font-size="14.2" font-style="italic" textLength="7.57" lengthAdjust="spacingAndGlyphs">μ</text>
<text x="139.50" y="-4.90" font-family="Liberation Serif, serif" fill="#262626" stroke="#262626" stroke-width="0.1" font-size="9.6" textLength="4.85" lengthAdjust="spacingAndGlyphs">2</text>
<path d="M25.20 3.10 L32.00 -9.80" stroke="#262626" stroke-width="0.95" fill="none"/>
<path d="M124.20 3.10 L131.00 -9.80" stroke="#262626" stroke-width="0.95" fill="none"/>
<path d="M58.0 -11.5 h-2.3 v16 h2.3" fill="none" stroke="#262626" stroke-width="0.95"/>
<path d="M145.20 -11.5 h2.3 v16 h-2.3" fill="none" stroke="#262626" stroke-width="0.95"/>
</g>
<text x="73.50" y="205.00" font-family="Liberation Serif, serif" fill="#262626" stroke="#262626" stroke-width="0.1" font-size="12.7" textLength="9.95" lengthAdjust="spacingAndGlyphs">D</text>
<text x="84.00" y="205.00" font-family="Liberation Serif, serif" fill="#262626" stroke="#262626" stroke-width="0.1" font-size="9.3" textLength="29.16" lengthAdjust="spacingAndGlyphs">IPOLE</text>
<text x="113.60" y="205.00" font-family="Liberation Serif, serif" fill="#262626" stroke="#262626" stroke-width="0.1" font-size="12.7" textLength="3.05" lengthAdjust="spacingAndGlyphs">,</text>
<text x="121.00" y="205.00" font-family="Liberation Serif, serif" fill="#262626" stroke="#262626" stroke-width="0.1" font-size="12.7" font-style="italic" textLength="7.25" lengthAdjust="spacingAndGlyphs">ν</text>
<text x="128.30" y="207.00" font-family="Liberation Serif, serif" fill="#262626" stroke="#262626" stroke-width="0.1" font-size="8.6" font-style="italic" textLength="3.02" lengthAdjust="spacingAndGlyphs">i</text>
<text x="135.60" y="205.00" font-family="Liberation Serif, serif" fill="#262626" stroke="#262626" stroke-width="0.1" font-size="12.7" textLength="9.25" lengthAdjust="spacingAndGlyphs">=</text>
<text x="148.10" y="205.00" font-family="Liberation Serif, serif" fill="#262626" stroke="#262626" stroke-width="0.1" font-size="12.7" textLength="14.50" lengthAdjust="spacingAndGlyphs">0.1</text>
<text x="323.45" y="205.00" font-family="Liberation Serif, serif" fill="#262626" stroke="#262626" stroke-width="0.1" font-size="12.7" textLength="9.95" lengthAdjust="spacingAndGlyphs">D</text>
<text x="333.95" y="205.00" font-family="Liberation Serif, serif" fill="#262626" stroke="#262626" stroke-width="0.1" font-size="9.3" textLength="29.16" lengthAdjust="spacingAndGlyphs">IPOLE</text>
<text x="363.55" y="205.00" font-family="Liberation Serif, serif" fill="#262626" stroke="#262626" stroke-width="0.1" font-size="12.7" textLength="3.05" lengthAdjust="spacingAndGlyphs">,</text>
<text x="370.95" y="205.00" font-family="Liberation Serif, serif" fill="#262626" stroke="#262626" stroke-width="0.1" font-size="12.7" font-style="italic" textLength="7.25" lengthAdjust="spacingAndGlyphs">ν</text>
<text x="378.25" y="207.00" font-family="Liberation Serif, serif" fill="#262626" stroke="#262626" stroke-width="0.1" font-size="8.6" font-style="italic" textLength="3.02" lengthAdjust="spacingAndGlyphs">i</text>
<text x="385.55" y="205.00" font-family="Liberation Serif, serif" fill="#262626" stroke="#262626" stroke-width="0.1" font-size="12.7" textLength="9.25" lengthAdjust="spacingAndGlyphs">=</text>
<text x="398.95" y="205.00" font-family="Liberation Serif, serif" fill="#262626" stroke="#262626" stroke-width="0.1" font-size="12.7" textLength="4.18" lengthAdjust="spacingAndGlyphs">1</text>
<text x="573.45" y="205.00" font-family="Liberation Serif, serif" fill="#262626" stroke="#262626" stroke-width="0.1" font-size="12.7" textLength="9.95" lengthAdjust="spacingAndGlyphs">D</text>
<text x="583.95" y="205.00" font-family="Liberation Serif, serif" fill="#262626" stroke="#262626" stroke-width="0.1" font-size="9.3" textLength="29.16" lengthAdjust="spacingAndGlyphs">IPOLE</text>
<text x="613.55" y="205.00" font-family="Liberation Serif, serif" fill="#262626" stroke="#262626" stroke-width="0.1" font-size="12.7" textLength="3.05" lengthAdjust="spacingAndGlyphs">,</text>
<text x="620.95" y="205.00" font-family="Liberation Serif, serif" fill="#262626" stroke="#262626" stroke-width="0.1" font-size="12.7" font-style="italic" textLength="7.25" lengthAdjust="spacingAndGlyphs">ν</text>
<text x="628.25" y="207.00" font-family="Liberation Serif, serif" fill="#262626" stroke="#262626" stroke-width="0.1" font-size="8.6" font-style="italic" textLength="3.02" lengthAdjust="spacingAndGlyphs">i</text>
<text x="635.55" y="205.00" font-family="Liberation Serif, serif" fill="#262626" stroke="#262626" stroke-width="0.1" font-size="12.7" textLength="9.25" lengthAdjust="spacingAndGlyphs">=</text>
<text x="648.95" y="205.00" font-family="Liberation Serif, serif" fill="#262626" stroke="#262626" stroke-width="0.1" font-size="12.7" textLength="11.55" lengthAdjust="spacingAndGlyphs">10</text>
<text x="73.50" y="408.70" font-family="Liberation Serif, serif" fill="#262626" stroke="#262626" stroke-width="0.1" font-size="12.7" textLength="10.55" lengthAdjust="spacingAndGlyphs">Q</text>
<text x="84.30" y="408.70" font-family="Liberation Serif, serif" fill="#262626" stroke="#262626" stroke-width="0.1" font-size="9.3" textLength="61.46" lengthAdjust="spacingAndGlyphs">UADRUPOLE</text>
<text x="146.90" y="408.70" font-family="Liberation Serif, serif" fill="#262626" stroke="#262626" stroke-width="0.1" font-size="12.7" textLength="3.05" lengthAdjust="spacingAndGlyphs">,</text>
<text x="154.30" y="408.70" font-family="Liberation Serif, serif" fill="#262626" stroke="#262626" stroke-width="0.1" font-size="12.7" font-style="italic" textLength="7.25" lengthAdjust="spacingAndGlyphs">ν</text>
<text x="161.60" y="410.70" font-family="Liberation Serif, serif" fill="#262626" stroke="#262626" stroke-width="0.1" font-size="8.6" font-style="italic" textLength="3.02" lengthAdjust="spacingAndGlyphs">i</text>
<text x="168.90" y="408.70" font-family="Liberation Serif, serif" fill="#262626" stroke="#262626" stroke-width="0.1" font-size="12.7" textLength="9.25" lengthAdjust="spacingAndGlyphs">=</text>
<text x="181.40" y="408.70" font-family="Liberation Serif, serif" fill="#262626" stroke="#262626" stroke-width="0.1" font-size="12.7" textLength="14.50" lengthAdjust="spacingAndGlyphs">0.1</text>
<text x="323.45" y="408.70" font-family="Liberation Serif, serif" fill="#262626" stroke="#262626" stroke-width="0.1" font-size="12.7" textLength="10.55" lengthAdjust="spacingAndGlyphs">Q</text>
<text x="334.25" y="408.70" font-family="Liberation Serif, serif" fill="#262626" stroke="#262626" stroke-width="0.1" font-size="9.3" textLength="61.46" lengthAdjust="spacingAndGlyphs">UADRUPOLE</text>
<text x="396.85" y="408.70" font-family="Liberation Serif, serif" fill="#262626" stroke="#262626" stroke-width="0.1" font-size="12.7" textLength="3.05" lengthAdjust="spacingAndGlyphs">,</text>
<text x="404.25" y="408.70" font-family="Liberation Serif, serif" fill="#262626" stroke="#262626" stroke-width="0.1" font-size="12.7" font-style="italic" textLength="7.25" lengthAdjust="spacingAndGlyphs">ν</text>
<text x="411.55" y="410.70" font-family="Liberation Serif, serif" fill="#262626" stroke="#262626" stroke-width="0.1" font-size="8.6" font-style="italic" textLength="3.02" lengthAdjust="spacingAndGlyphs">i</text>
<text x="418.85" y="408.70" font-family="Liberation Serif, serif" fill="#262626" stroke="#262626" stroke-width="0.1" font-size="12.7" textLength="9.25" lengthAdjust="spacingAndGlyphs">=</text>
<text x="432.25" y="408.70" font-family="Liberation Serif, serif" fill="#262626" stroke="#262626" stroke-width="0.1" font-size="12.7" textLength="4.18" lengthAdjust="spacingAndGlyphs">1</text>
<text x="573.45" y="408.70" font-family="Liberation Serif, serif" fill="#262626" stroke="#262626" stroke-width="0.1" font-size="12.7" textLength="10.55" lengthAdjust="spacingAndGlyphs">Q</text>
<text x="584.25" y="408.70" font-family="Liberation Serif, serif" fill="#262626" stroke="#262626" stroke-width="0.1" font-size="9.3" textLength="61.46" lengthAdjust="spacingAndGlyphs">UADRUPOLE</text>
<text x="646.85" y="408.70" font-family="Liberation Serif, serif" fill="#262626" stroke="#262626" stroke-width="0.1" font-size="12.7" textLength="3.05" lengthAdjust="spacingAndGlyphs">,</text>
<text x="654.25" y="408.70" font-family="Liberation Serif, serif" fill="#262626" stroke="#262626" stroke-width="0.1" font-size="12.7" font-style="italic" textLength="7.25" lengthAdjust="spacingAndGlyphs">ν</text>
<text x="661.55" y="410.70" font-family="Liberation Serif, serif" fill="#262626" stroke="#262626" stroke-width="0.1" font-size="8.6" font-style="italic" textLength="3.02" lengthAdjust="spacingAndGlyphs">i</text>
<text x="668.85" y="408.70" font-family="Liberation Serif, serif" fill="#262626" stroke="#262626" stroke-width="0.1" font-size="12.7" textLength="9.25" lengthAdjust="spacingAndGlyphs">=</text>
<text x="682.25" y="408.70" font-family="Liberation Serif, serif" fill="#262626" stroke="#262626" stroke-width="0.1" font-size="12.7" textLength="11.55" lengthAdjust="spacingAndGlyphs">10</text>
<rect x="676.45" y="44.45" width="102.95" height="82.55" fill="#fff" stroke="#242424" stroke-width="0.75"/>
<text x="682.10" y="57.50" font-family="Liberation Serif, serif" fill="#262626" stroke="#262626" stroke-width="0.1" font-size="14.2" textLength="50.82" lengthAdjust="spacingAndGlyphs">Classical</text>
<path d="M743.9 54.6 H768.2" fill="none" stroke="#1439dd" stroke-width="1.45" stroke-dasharray="8.25 2.32 1.8 2.33"/>
<text x="704.30" y="78.50" font-family="Liberation Serif, serif" fill="#262626" stroke="#262626" stroke-width="0.1" font-size="14.2" textLength="28.62" lengthAdjust="spacingAndGlyphs">Born</text>
<path d="M743.9 75.3 H768.2" fill="none" stroke="#5a5a5a" stroke-width="1.4" stroke-dasharray="8.2 2.6 1.5 2.6 1.5 2.6" stroke-dashoffset="14.85"/>
<text x="694.80" y="98.60" font-family="Liberation Serif, serif" fill="#262626" stroke="#262626" stroke-width="0.1" font-size="14.2" textLength="38.07" lengthAdjust="spacingAndGlyphs">Elwert</text>
<path d="M743.9 96.0 H768.2" fill="none" stroke="#c8204c" stroke-width="1.6" stroke-dasharray="3.1 3.75"/>
<text x="699.40" y="119.50" font-family="Liberation Serif, serif" fill="#262626" stroke="#262626" stroke-width="0.1" font-size="14.2" textLength="33.45" lengthAdjust="spacingAndGlyphs">Exact</text>
<path d="M743.9 116.7 H768.2" fill="none" stroke="#0a0a0a" stroke-width="2.0"/>
<text x="143.70" y="259.30" font-family="Liberation Serif, serif" fill="#262626" stroke="#262626" stroke-width="0.1" font-size="12.7" textLength="25.22" lengthAdjust="spacingAndGlyphs">Born</text>
<text x="173.80" y="259.30" font-family="Liberation Serif, serif" fill="#262626" stroke="#262626" stroke-width="0.1" font-size="12.7" textLength="23.23" lengthAdjust="spacingAndGlyphs">(soft</text>
<text x="202.70" y="259.30" font-family="Liberation Serif, serif" fill="#262626" stroke="#262626" stroke-width="0.1" font-size="12.7" textLength="41.80" lengthAdjust="spacingAndGlyphs">photon)</text>
<path d="M256.5 256.2 H274.6" fill="none" stroke="#3a3a3a" stroke-width="1.2" stroke-dasharray="1.3 1.72"/>
<text x="655.10" y="255.50" font-family="Liberation Serif, serif" fill="#262626" stroke="#262626" stroke-width="0.1" font-size="12.7" textLength="43.31" lengthAdjust="spacingAndGlyphs">classical</text>
<text x="703.70" y="255.90" font-family="Liberation Serif, serif" fill="#262626" stroke="#262626" stroke-width="0.1" font-size="12.7" textLength="3.08" lengthAdjust="spacingAndGlyphs">(</text>
<text x="707.50" y="255.50" font-family="Liberation Serif, serif" fill="#262626" stroke="#262626" stroke-width="0.1" font-size="12.7" font-style="italic" textLength="6.98" lengthAdjust="spacingAndGlyphs">κ</text>
<path d="M726.40 249.30 L719.50 252.60 L726.40 255.90" fill="none" stroke="#262626" stroke-width="0.95"/>
<path d="M730.30 249.30 L723.40 252.60 L730.30 255.90" fill="none" stroke="#262626" stroke-width="0.95"/>
<text x="735.20" y="255.50" font-family="Liberation Serif, serif" fill="#262626" stroke="#262626" stroke-width="0.1" font-size="12.7" textLength="3.98" lengthAdjust="spacingAndGlyphs">1</text>
<text x="740.20" y="255.90" font-family="Liberation Serif, serif" fill="#262626" stroke="#262626" stroke-width="0.1" font-size="12.7" textLength="3.78" lengthAdjust="spacingAndGlyphs">)</text>
<path d="M755.9 253.1 H775.4" fill="none" stroke="#1439dd" stroke-width="1.4" stroke-dasharray="1.7 1.65"/>
<text x="655.10" y="274.80" font-family="Liberation Serif, serif" fill="#262626" stroke="#262626" stroke-width="0.1" font-size="12.7" textLength="43.31" lengthAdjust="spacingAndGlyphs">classical</text>
<text x="703.70" y="275.20" font-family="Liberation Serif, serif" fill="#262626" stroke="#262626" stroke-width="0.1" font-size="12.7" textLength="3.08" lengthAdjust="spacingAndGlyphs">(</text>
<text x="707.50" y="274.80" font-family="Liberation Serif, serif" fill="#262626" stroke="#262626" stroke-width="0.1" font-size="12.7" font-style="italic" textLength="6.98" lengthAdjust="spacingAndGlyphs">κ</text>
<path d="M719.50 268.60 L726.40 271.90 L719.50 275.20" fill="none" stroke="#262626" stroke-width="0.95"/>
<path d="M723.40 268.60 L730.30 271.90 L723.40 275.20" fill="none" stroke="#262626" stroke-width="0.95"/>
<text x="735.20" y="274.80" font-family="Liberation Serif, serif" fill="#262626" stroke="#262626" stroke-width="0.1" font-size="12.7" textLength="3.98" lengthAdjust="spacingAndGlyphs">1</text>
<text x="740.20" y="275.20" font-family="Liberation Serif, serif" fill="#262626" stroke="#262626" stroke-width="0.1" font-size="12.7" textLength="3.78" lengthAdjust="spacingAndGlyphs">)</text>
<path d="M755.9 272.1 H775.4" fill="none" stroke="#1439dd" stroke-width="1.35" stroke-dasharray="5.4 2.7"/>
</svg>
</body></html>
